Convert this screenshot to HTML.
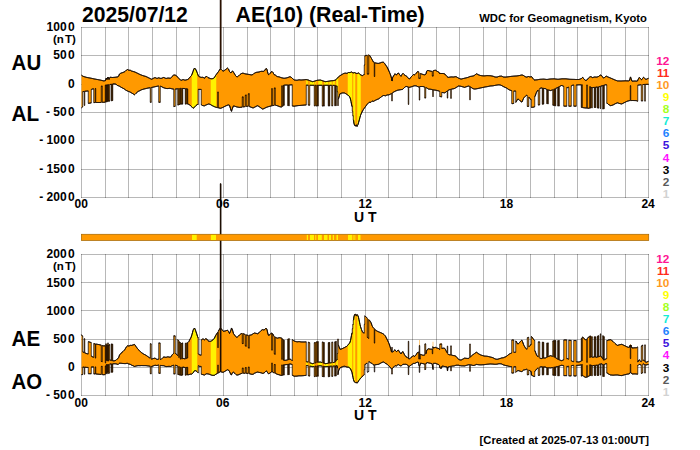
<!DOCTYPE html>
<html><head><meta charset="utf-8"><title>AE</title>
<style>
html,body{margin:0;padding:0;background:#fff;}
body{width:700px;height:450px;overflow:hidden;font-family:"Liberation Sans",sans-serif;}
svg{display:block;}
svg text{font-family:"Liberation Sans",sans-serif;}
</style></head><body>
<svg width="700" height="450" viewBox="0 0 700 450">
<rect width="700" height="450" fill="#fff"/>
<path d="M81.5 27.0V198.0M105.5 27.0V198.0M128.5 27.0V198.0M152.5 27.0V198.0M176.5 27.0V198.0M199.5 27.0V198.0M223.5 27.0V198.0M247.5 27.0V198.0M270.5 27.0V198.0M294.5 27.0V198.0M317.5 27.0V198.0M341.5 27.0V198.0M365.5 27.0V198.0M388.5 27.0V198.0M412.5 27.0V198.0M436.5 27.0V198.0M459.5 27.0V198.0M483.5 27.0V198.0M506.5 27.0V198.0M530.5 27.0V198.0M554.5 27.0V198.0M577.5 27.0V198.0M601.5 27.0V198.0M625.5 27.0V198.0M648.5 27.0V198.0" stroke="#000" stroke-opacity="0.28" stroke-width="1" fill="none"/><path d="M81.0 27.5H649.0M81.0 55.5H649.0M81.0 84.5H649.0M81.0 112.5H649.0M81.0 140.5H649.0M81.0 169.5H649.0M81.0 197.5H649.0" stroke="#000" stroke-opacity="0.28" stroke-width="1" fill="none"/>
<path d="M81.5 254.0V396.0M105.5 254.0V396.0M128.5 254.0V396.0M152.5 254.0V396.0M176.5 254.0V396.0M199.5 254.0V396.0M223.5 254.0V396.0M247.5 254.0V396.0M270.5 254.0V396.0M294.5 254.0V396.0M317.5 254.0V396.0M341.5 254.0V396.0M365.5 254.0V396.0M388.5 254.0V396.0M412.5 254.0V396.0M436.5 254.0V396.0M459.5 254.0V396.0M483.5 254.0V396.0M506.5 254.0V396.0M530.5 254.0V396.0M554.5 254.0V396.0M577.5 254.0V396.0M601.5 254.0V396.0M625.5 254.0V396.0M648.5 254.0V396.0" stroke="#000" stroke-opacity="0.28" stroke-width="1" fill="none"/><path d="M81.0 254.5H649.0M81.0 282.5H649.0M81.0 310.5H649.0M81.0 339.5H649.0M81.0 367.5H649.0M81.0 395.5H649.0" stroke="#000" stroke-opacity="0.28" stroke-width="1" fill="none"/>
<path d="M81.50 75.20L81.50 75.20L82.00 75.57L82.50 75.93L83.00 76.30L83.50 76.45L84.00 76.61L84.50 76.76L85.00 76.91L85.50 77.06L86.00 77.22L86.50 77.37L87.00 77.47L87.50 77.56L88.00 77.65L88.50 77.74L89.00 77.82L89.50 77.91L90.00 78.00L90.50 78.11L91.00 78.22L91.50 78.32L92.00 78.43L92.50 78.54L93.00 78.65L93.50 78.75L94.00 78.86L94.50 78.97L95.00 79.08L95.50 79.17L96.00 79.27L96.50 79.36L97.00 79.45L97.50 79.54L98.00 79.63L98.50 79.72L99.00 79.82L99.50 79.91L100.00 80.00L100.50 80.12L101.00 80.24L101.50 80.36L102.00 80.49L102.50 80.61L103.00 80.73L103.50 80.85L104.00 80.85L104.50 80.77L105.00 80.68L105.50 80.60L106.00 78.60L106.50 78.00L107.00 79.50L107.50 78.25L108.00 77.00L108.50 78.25L109.00 79.50L109.50 78.35L110.00 77.20L110.50 77.27L111.00 77.33L111.50 77.40L112.00 77.46L112.50 77.49L113.00 77.45L113.50 77.41L114.00 77.37L114.50 77.34L115.00 77.30L115.50 77.22L116.00 77.15L116.50 77.07L117.00 77.00L117.50 76.92L118.00 76.85L118.50 76.33L119.00 75.17L119.50 74.00L120.00 73.68L120.50 73.36L121.00 73.07L121.50 72.93L122.00 72.79L122.50 72.64L123.00 72.50L123.50 72.25L124.00 72.00L124.50 71.75L125.00 71.50L125.50 71.00L126.00 70.50L126.50 70.00L127.00 69.75L127.50 69.50L128.00 69.65L128.50 70.08L129.00 70.50L129.50 70.25L130.00 70.00L130.50 70.33L131.00 70.67L131.50 71.00L132.00 71.15L132.50 71.29L133.00 71.44L133.50 71.58L134.00 71.73L134.50 71.87L135.00 72.08L135.50 72.31L136.00 72.54L136.50 72.77L137.00 73.00L137.50 73.25L138.00 73.50L138.50 73.75L139.00 74.00L139.50 74.25L140.00 74.50L140.50 74.69L141.00 74.89L141.50 75.08L142.00 75.27L142.50 75.47L143.00 75.66L143.50 75.81L144.00 75.95L144.50 76.09L145.00 76.22L145.50 76.36L146.00 76.50L146.50 76.75L147.00 77.00L147.50 77.25L148.00 77.50L148.50 77.75L149.00 78.00L149.50 78.24L150.00 78.48L150.50 78.72L151.00 78.96L151.50 79.20L152.00 79.12L152.50 78.81L153.00 78.50L153.50 78.25L154.00 78.00L154.50 77.75L155.00 77.50L155.50 77.75L156.00 78.00L156.50 78.25L157.00 78.50L157.50 78.28L158.00 78.06L158.50 77.84L159.00 77.92L159.50 78.06L160.00 78.21L160.50 78.35L161.00 78.50L161.50 78.30L162.00 78.09L162.50 77.89L163.00 77.69L163.50 77.48L164.00 77.54L164.50 77.78L165.00 78.02L165.50 78.26L166.00 78.50L166.50 78.38L167.00 78.25L167.50 78.12L168.00 78.00L168.50 78.06L169.00 78.12L169.50 78.17L170.00 78.23L170.50 78.29L171.00 77.79L171.50 77.14L172.00 76.50L172.50 76.07L173.00 75.63L173.50 75.20L174.00 75.09L174.50 74.99L175.00 74.96L175.50 75.24L176.00 75.52L176.50 75.80L177.00 76.37L177.50 76.93L178.00 77.50L178.50 78.02L179.00 78.53L179.50 79.05L180.00 79.57L180.50 80.09L181.00 80.45L181.50 80.21L182.00 79.98L182.50 79.74L183.00 79.50L183.50 79.67L184.00 79.85L184.50 80.03L185.00 80.20L185.50 80.07L186.00 79.94L186.50 79.81L187.00 79.68L187.50 79.55L188.00 79.27L188.50 78.88L189.00 78.50L189.50 77.75L190.00 77.00L190.50 76.54L191.00 76.07L191.50 75.45L192.00 74.23L192.50 73.00L193.00 71.50L193.50 70.00L194.00 69.00L194.50 68.00L195.00 68.50L195.50 69.00L196.00 70.00L196.50 71.00L197.00 72.31L197.50 73.61L198.00 74.92L198.50 75.92L199.00 76.46L199.50 77.00L200.00 77.09L200.50 77.18L201.00 77.27L201.50 77.36L202.00 77.35L202.50 77.28L203.00 77.20L203.50 77.57L204.00 77.93L204.50 78.30L205.00 77.55L205.50 76.80L206.00 76.66L206.50 76.51L207.00 76.51L207.50 77.05L208.00 77.60L208.50 77.80L209.00 78.00L209.50 78.20L210.00 78.39L210.50 78.58L211.00 78.76L211.50 78.76L212.00 78.71L212.50 78.65L213.00 78.60L213.50 78.23L214.00 77.87L214.50 77.50L215.00 76.50L215.50 75.56L216.00 74.88L216.50 74.19L217.00 73.50L217.50 72.83L218.00 72.17L218.50 71.50L219.00 70.75L219.50 70.00L220.00 69.10L220.25 69.10L220.25 -75.30L220.50 -75.30L220.75 -75.30L220.75 69.20L221.00 69.20L221.50 69.70L222.00 70.24L222.50 70.67L223.00 70.83L223.50 71.00L224.00 70.67L224.50 70.33L225.00 70.00L225.50 69.60L226.00 69.20L226.50 68.80L227.00 68.36L227.50 68.09L228.00 68.55L228.50 69.00L229.00 70.25L229.50 71.50L230.00 72.07L230.50 72.64L231.00 72.92L231.50 72.03L232.00 71.35L232.50 70.98L233.00 71.50L233.50 72.25L234.00 73.00L234.50 73.83L235.00 74.67L235.50 75.50L236.00 76.07L236.50 76.64L237.00 77.03L237.50 76.69L238.00 76.34L238.50 76.00L239.00 75.50L239.50 75.00L240.00 74.50L240.50 74.17L241.00 73.83L241.50 73.50L242.00 73.36L242.50 73.21L243.00 73.13L243.50 73.30L244.00 73.47L244.50 73.63L245.00 73.80L245.50 73.88L246.00 73.97L246.50 74.05L247.00 74.13L247.50 74.22L248.00 74.30L248.50 74.39L249.00 74.48L249.50 74.56L250.00 74.65L250.50 74.74L251.00 74.83L251.50 74.88L252.00 74.75L252.50 74.62L253.00 74.50L253.50 74.00L254.00 73.50L254.50 73.00L255.00 72.83L255.50 72.67L256.00 72.50L256.50 72.33L257.00 72.25L257.50 72.19L258.00 72.12L258.50 72.06L259.00 72.00L259.50 71.83L260.00 71.65L260.50 71.47L261.00 71.30L261.50 71.32L262.00 71.34L262.50 71.36L263.00 71.38L263.50 71.34L264.00 71.01L264.50 70.69L265.00 70.08L265.50 69.01L266.00 68.51L266.50 68.64L267.00 69.50L267.50 71.69L268.00 73.47L268.50 74.66L269.00 74.50L269.50 74.00L270.00 73.50L270.50 72.75L271.00 72.00L271.50 71.70L272.00 71.40L272.50 71.95L273.00 72.50L273.50 73.50L274.00 74.50L274.50 74.73L275.00 74.97L275.50 75.20L276.00 75.64L276.50 76.07L277.00 76.51L277.50 76.64L278.00 76.69L278.50 76.75L279.00 76.80L279.50 77.00L280.00 77.20L280.50 77.40L281.00 77.60L281.50 77.72L282.00 77.83L282.50 77.95L283.00 78.07L283.50 78.18L284.00 78.30L284.50 78.22L285.00 78.15L285.50 78.08L286.00 78.00L286.50 77.88L287.00 77.75L287.50 77.62L288.00 77.50L288.50 77.28L289.00 77.05L289.50 76.82L290.00 76.60L290.50 76.90L291.00 77.20L291.50 77.50L292.00 78.00L292.50 78.50L293.00 79.00L293.50 79.38L294.00 79.77L294.50 80.02L295.00 80.08L295.50 80.13L296.00 80.19L296.50 80.24L297.00 80.30L297.50 80.17L298.00 80.05L298.50 79.92L299.00 79.80L299.50 79.85L300.00 79.90L300.50 79.94L301.00 79.99L301.50 79.97L302.00 79.94L302.50 79.90L303.00 79.87L303.50 79.83L304.00 79.80L304.50 79.72L305.00 79.65L305.50 79.58L306.00 79.50L306.50 79.61L307.00 79.72L307.50 79.83L308.00 79.93L308.50 80.09L309.00 80.33L309.50 80.56L310.00 80.80L310.50 80.97L311.00 81.15L311.50 81.32L312.00 81.49L312.50 81.67L313.00 81.58L313.50 81.44L314.00 81.29L314.50 81.15L315.00 81.00L315.50 80.83L316.00 80.65L316.50 80.47L317.00 80.30L317.50 80.25L318.00 80.21L318.50 80.16L319.00 80.12L319.50 80.07L320.00 80.03L320.50 80.07L321.00 80.25L321.50 80.42L322.00 80.60L322.50 80.76L323.00 80.92L323.50 81.09L324.00 81.25L324.50 81.41L325.00 81.57L325.50 81.68L326.00 81.61L326.50 81.53L327.00 81.45L327.50 81.38L328.00 81.30L328.50 81.22L329.00 81.13L329.50 81.05L330.00 80.97L330.50 80.88L331.00 80.80L331.50 80.76L332.00 80.72L332.50 80.68L333.00 80.64L333.50 80.60L334.00 80.46L334.50 80.33L335.00 80.19L335.50 80.05L336.00 79.65L336.50 79.08L337.00 78.50L337.50 77.93L338.00 77.37L338.50 76.80L339.00 76.43L339.50 76.07L340.00 75.70L340.50 75.40L341.00 75.10L341.50 74.80L342.00 74.50L342.50 74.20L343.00 73.90L343.50 73.60L344.00 73.44L344.50 73.29L345.00 73.13L345.50 73.16L346.00 73.24L346.50 73.32L347.00 73.40L347.50 73.10L348.00 72.80L348.50 72.50L349.00 72.53L349.50 72.57L350.00 72.60L350.50 72.39L351.00 72.19L351.50 71.98L352.00 72.15L352.50 72.58L353.00 73.00L353.50 72.87L354.00 72.73L354.50 72.60L355.00 72.80L355.50 73.00L356.00 73.20L356.50 73.43L357.00 73.65L357.50 73.44L358.00 73.12L358.50 72.80L359.00 73.37L359.50 73.93L360.00 74.50L360.50 74.76L361.00 75.02L361.50 75.28L362.00 75.54L362.50 75.58L363.00 75.29L363.50 75.00L364.00 74.44L364.25 74.44L364.25 65.00L364.50 65.00L364.75 65.00L364.75 55.86L365.00 55.86L365.50 55.68L366.00 55.50L366.50 55.40L367.00 55.30L367.50 55.20L368.00 55.08L368.50 54.95L369.00 54.83L369.50 55.33L370.00 56.00L370.50 56.83L371.00 57.67L371.50 58.50L372.00 59.42L372.50 60.34L373.00 61.26L373.50 62.05L374.00 62.30L374.50 62.55L375.00 62.80L375.50 62.92L376.00 63.05L376.50 63.17L377.00 63.30L377.50 63.33L378.00 63.36L378.50 63.39L379.00 63.27L379.50 63.12L380.00 62.96L380.50 62.80L381.00 62.60L381.50 62.40L382.00 62.20L382.50 62.23L383.00 62.26L383.50 62.29L384.00 62.69L384.50 63.35L385.00 64.00L385.50 64.75L386.00 65.50L386.50 66.23L387.00 66.95L387.50 67.93L388.00 68.96L388.50 70.00L389.00 71.17L389.50 72.33L390.00 73.50L390.50 74.89L391.00 76.29L391.50 78.26L392.00 80.96L392.25 80.96L392.25 77.82L392.50 77.82L393.00 76.91L393.50 76.00L394.00 75.23L394.50 74.47L395.00 73.70L395.50 74.28L396.00 74.85L396.50 74.92L397.00 74.22L397.50 73.58L398.00 73.03L398.50 73.00L399.00 73.75L399.50 74.50L400.00 75.10L400.50 75.70L401.00 76.30L401.50 75.40L402.00 74.50L402.50 73.90L403.00 73.30L403.50 73.88L404.00 74.45L404.50 74.93L405.00 75.25L405.50 75.57L406.00 75.88L406.50 76.19L407.00 76.50L407.50 77.19L408.00 77.88L408.50 78.45L409.00 78.81L409.50 78.97L410.00 78.31L410.50 77.66L411.00 77.00L411.50 76.50L412.00 76.00L412.50 75.50L413.00 75.00L413.50 74.50L414.00 74.50L414.50 74.83L415.00 74.50L415.50 74.00L416.00 73.50L416.50 72.79L417.00 72.08L417.50 71.65L418.00 71.40L418.50 71.77L419.00 72.19L419.50 72.66L420.00 73.13L420.50 73.60L421.00 73.77L421.50 73.93L422.00 74.12L422.50 74.31L423.00 74.50L423.50 74.60L424.00 74.69L424.50 74.79L425.00 74.88L425.50 74.50L426.00 74.00L426.50 71.71L427.00 70.71L427.50 70.55L428.00 70.40L428.50 70.55L429.00 70.70L429.50 70.85L430.00 71.00L430.50 71.10L431.00 71.20L431.50 71.30L432.00 71.40L432.50 71.13L433.00 70.87L433.50 70.60L434.00 70.49L434.50 70.39L435.00 70.28L435.50 70.26L436.00 70.58L436.50 70.89L437.00 71.20L437.50 71.49L438.00 71.78L438.50 72.07L439.00 72.33L439.50 72.50L440.00 72.67L440.50 72.83L441.00 73.00L441.50 73.10L442.00 73.20L442.50 73.30L443.00 73.40L443.50 73.56L444.00 73.72L444.50 73.87L445.00 74.12L445.50 74.71L446.00 75.30L446.50 75.92L447.00 76.55L447.50 76.96L448.00 77.24L448.50 77.36L449.00 77.27L449.50 77.18L450.00 77.09L450.50 76.99L451.00 76.90L451.50 76.92L452.00 76.94L452.50 76.96L453.00 76.98L453.50 77.00L454.00 76.92L454.50 76.84L455.00 76.76L455.50 76.68L456.00 76.60L456.50 76.90L457.00 77.20L457.50 77.50L458.00 77.80L458.50 78.10L459.00 78.40L459.50 78.57L460.00 78.73L460.50 78.90L461.00 79.07L461.50 78.99L462.00 78.86L462.50 78.73L463.00 78.60L463.50 78.48L464.00 78.36L464.50 78.24L465.00 78.12L465.50 78.00L466.00 77.88L466.50 77.76L467.00 77.64L467.50 77.52L468.00 77.40L468.50 77.18L469.00 76.95L469.50 76.72L470.00 76.50L470.50 76.42L471.00 76.35L471.50 76.28L472.00 76.20L472.50 76.08L473.00 75.95L473.50 75.83L474.00 75.70L474.50 75.30L475.00 74.90L475.50 74.50L476.00 74.14L476.50 73.77L477.00 73.96L477.50 74.28L478.00 74.60L478.50 74.80L479.00 75.00L479.50 75.20L480.00 75.40L480.50 75.49L481.00 75.58L481.50 75.66L482.00 75.73L482.50 75.77L483.00 75.81L483.50 75.86L484.00 75.90L484.50 75.85L485.00 75.80L485.50 75.75L486.00 75.70L486.50 75.65L487.00 75.60L487.50 75.62L488.00 75.63L488.50 75.65L489.00 75.66L489.50 75.68L490.00 75.69L490.50 75.74L491.00 75.83L491.50 75.92L492.00 76.01L492.50 76.11L493.00 76.20L493.50 76.40L494.00 76.60L494.50 76.80L495.00 77.00L495.50 77.02L496.00 77.05L496.50 77.07L497.00 77.10L497.50 76.93L498.00 76.72L498.50 76.51L499.00 76.30L499.50 76.26L500.00 76.22L500.50 76.17L501.00 76.13L501.50 76.14L502.00 76.36L502.50 76.57L503.00 76.79L503.50 77.00L504.00 77.02L504.50 77.05L505.00 77.07L505.50 77.09L506.00 77.06L506.50 77.00L507.00 76.93L507.50 76.87L508.00 76.80L508.50 76.73L509.00 76.67L509.50 76.60L510.00 76.53L510.50 76.47L511.00 76.40L511.50 76.35L512.00 76.31L512.50 76.26L513.00 76.22L513.50 76.17L514.00 76.13L514.50 76.09L515.00 76.05L515.50 76.01L516.00 75.97L516.50 75.94L517.00 75.90L517.50 75.82L518.00 75.74L518.50 75.66L519.00 75.58L519.50 75.50L520.00 75.38L520.50 75.26L521.00 75.14L521.50 75.02L522.00 74.90L522.50 75.10L523.00 75.30L523.50 75.50L524.00 75.87L524.50 76.23L525.00 76.60L525.50 76.76L526.00 76.91L526.50 77.07L527.00 76.97L527.50 76.82L528.00 76.66L528.50 76.50L529.00 76.67L529.50 76.83L530.00 77.00L530.50 76.88L531.00 76.76L531.50 76.65L532.00 77.04L532.50 77.77L533.00 78.50L533.50 79.08L534.00 79.65L534.50 79.99L535.00 79.95L535.50 79.91L536.00 79.87L536.50 79.84L537.00 79.80L537.50 79.72L538.00 79.63L538.50 79.55L539.00 79.47L539.50 79.38L540.00 79.30L540.50 79.27L541.00 79.25L541.50 79.22L542.00 79.19L542.50 79.16L543.00 79.14L543.50 79.11L544.00 79.14L544.50 79.20L545.00 79.26L545.50 79.32L546.00 79.38L546.50 79.44L547.00 79.50L547.50 79.42L548.00 79.33L548.50 79.25L549.00 79.17L549.50 79.08L550.00 79.00L550.50 78.97L551.00 78.95L551.50 78.92L552.00 78.90L552.50 78.88L553.00 78.85L553.50 78.83L554.00 78.80L554.50 78.86L555.00 78.92L555.50 78.99L556.00 79.05L556.50 79.11L557.00 79.17L557.50 79.24L558.00 79.30L558.50 79.24L559.00 79.17L559.50 79.11L560.00 79.05L560.50 78.99L561.00 78.92L561.50 78.86L562.00 78.80L562.50 78.80L563.00 78.80L563.50 78.80L564.00 78.80L564.50 78.80L565.00 78.80L565.50 78.80L566.00 78.80L566.50 78.86L567.00 78.92L567.50 78.99L568.00 79.05L568.50 79.11L569.00 79.17L569.50 79.24L570.00 79.30L570.50 79.31L571.00 79.33L571.50 79.34L572.00 79.35L572.50 79.36L573.00 79.38L573.50 79.39L574.00 79.40L574.50 79.42L575.00 79.44L575.50 79.47L576.00 79.49L576.50 79.50L577.00 79.50L577.50 79.50L578.00 79.50L578.50 79.50L579.00 79.50L579.50 79.30L580.00 79.10L580.50 78.90L581.00 78.70L581.50 78.50L582.00 77.96L582.50 77.42L583.00 77.48L583.50 78.43L584.00 79.16L584.50 79.55L585.00 79.95L585.50 80.34L586.00 80.38L586.50 80.19L587.00 80.00L587.50 79.33L588.00 78.67L588.50 78.00L589.00 77.60L589.50 77.20L590.00 76.80L590.50 76.69L591.00 76.66L591.50 76.98L592.00 77.29L592.50 77.60L593.00 77.45L593.50 77.30L594.00 77.15L594.50 77.00L595.00 77.02L595.50 77.04L596.00 77.06L596.50 77.08L597.00 77.06L597.50 76.87L598.00 76.69L598.50 76.50L599.00 76.10L599.50 75.70L600.00 75.30L600.50 75.12L601.00 74.94L601.50 75.48L602.00 76.21L602.50 76.86L603.00 77.46L603.50 78.06L604.00 78.00L604.50 77.50L605.00 77.00L605.50 76.65L606.00 76.31L606.50 76.21L607.00 76.47L607.50 76.74L608.00 77.00L608.50 77.20L609.00 77.40L609.50 77.60L610.00 77.80L610.50 78.02L611.00 78.23L611.50 78.45L612.00 78.67L612.50 78.89L613.00 79.11L613.50 79.33L614.00 79.56L614.50 79.78L615.00 80.00L615.50 80.19L616.00 80.38L616.50 80.56L617.00 80.75L617.50 80.90L618.00 80.92L618.50 80.93L619.00 80.94L619.50 80.96L620.00 80.97L620.50 80.99L621.00 81.00L621.50 80.97L622.00 80.95L622.50 80.92L623.00 80.90L623.50 80.88L624.00 80.85L624.50 80.83L625.00 80.80L625.50 80.81L626.00 80.82L626.50 80.83L627.00 80.85L627.50 80.86L628.00 80.87L628.50 80.88L629.00 80.89L629.50 80.50L630.00 78.50L630.50 76.92L631.00 78.26L631.50 79.99L632.00 81.20L632.50 81.17L633.00 81.13L633.50 81.10L634.00 81.07L634.50 81.03L635.00 81.00L635.50 81.04L636.00 81.08L636.50 81.12L637.00 81.17L637.50 80.96L638.00 79.73L638.50 78.60L639.00 77.60L639.50 77.71L640.00 78.11L640.50 78.50L641.00 79.12L641.50 79.75L642.00 79.43L642.50 78.49L643.00 77.70L643.50 77.21L644.00 77.75L644.50 78.30L645.00 78.70L645.50 79.10L646.00 79.50L646.50 79.21L647.00 78.92L647.50 78.68L648.00 78.49L648.50 78.30L648.50 78.30L648.50 84.30L648.50 84.30L648.00 84.31L647.50 84.33L647.00 84.34L646.50 84.36L646.00 84.37L645.50 84.39L645.25 84.39L645.25 101.10L645.00 101.10L644.75 101.10L644.75 84.43L644.50 84.43L644.00 84.47L643.50 84.50L643.00 84.53L642.75 84.53L642.75 100.80L642.50 100.80L642.00 100.80L641.50 100.80L641.25 100.80L641.25 84.74L641.00 84.74L640.50 84.81L640.00 84.89L639.50 84.96L639.00 85.03L638.50 85.10L638.00 85.14L637.75 85.14L637.75 101.16L637.50 101.16L637.00 100.93L636.50 100.69L636.00 100.59L635.50 100.58L635.00 100.56L634.50 100.55L634.00 100.53L633.50 100.52L633.00 100.50L632.50 100.51L632.00 100.53L631.50 100.54L631.00 100.56L630.50 100.57L630.00 100.58L629.50 100.60L629.00 100.72L628.50 100.86L628.00 101.01L627.50 101.15L627.00 101.30L626.50 101.55L626.00 101.80L625.50 102.05L625.00 102.30L624.50 102.55L624.00 102.80L623.50 103.06L623.00 103.32L622.50 103.58L622.00 103.84L621.50 103.95L621.00 103.84L620.50 103.73L620.00 103.61L619.50 103.50L619.00 103.33L618.50 103.17L618.00 103.00L617.50 102.83L617.00 102.97L616.50 103.18L616.00 103.39L615.50 103.60L615.00 103.88L614.50 104.16L614.00 104.44L613.50 104.72L613.00 105.00L612.50 105.15L612.00 105.29L611.50 105.44L611.00 105.58L610.50 105.64L610.00 105.36L609.50 105.07L609.00 104.79L608.50 104.50L608.00 104.00L607.50 103.50L607.00 103.28L606.75 103.28L606.75 84.85L606.50 84.85L606.00 84.83L605.50 84.80L605.00 84.92L604.50 85.06L604.25 85.06L604.25 108.58L604.00 108.58L603.50 109.06L603.00 108.97L602.75 108.97L602.75 85.65L602.50 85.65L602.00 85.80L601.50 85.96L601.00 86.12L600.75 86.12L600.75 108.49L600.50 108.49L600.25 108.49L600.25 86.45L600.00 86.45L599.50 86.61L599.00 86.77L598.75 86.77L598.75 108.10L598.50 108.10L598.00 107.99L597.50 107.89L597.25 107.89L597.25 87.08L597.00 87.08L596.50 87.13L596.00 87.19L595.75 87.19L595.75 107.48L595.50 107.48L595.00 107.41L594.50 107.48L594.25 107.48L594.25 87.42L594.00 87.42L593.50 87.48L593.00 87.54L592.50 87.60L592.25 87.60L592.25 107.80L592.00 107.80L591.50 107.87L591.00 107.94L590.50 108.00L590.00 108.07L589.50 108.14L589.00 108.21L588.50 108.27L588.00 108.26L587.50 108.20L587.00 108.14L586.50 108.08L586.00 108.02L585.50 107.96L585.00 107.90L584.50 107.83L584.00 107.76L583.50 107.69L583.00 107.62L582.50 107.55L582.00 107.48L581.50 107.41L581.25 107.41L581.25 84.80L581.00 84.80L580.50 84.80L580.00 84.80L579.50 84.80L579.00 84.80L578.50 84.83L578.00 84.86L577.50 84.90L577.00 84.93L576.50 84.97L576.25 84.97L576.25 106.20L576.00 106.20L575.50 106.20L575.00 106.20L574.50 106.20L574.00 106.20L573.75 106.20L573.75 85.08L573.50 85.08L573.00 85.10L572.50 85.29L572.00 85.53L571.50 85.78L571.25 85.78L571.25 106.20L571.00 106.20L570.50 106.20L570.00 106.20L569.50 106.20L569.00 106.20L568.75 106.20L568.75 87.28L568.50 87.28L568.00 87.54L567.50 87.64L567.00 87.47L566.75 87.47L566.75 106.20L566.50 106.20L566.00 106.20L565.50 106.18L565.00 106.17L564.50 106.15L564.00 106.13L563.75 106.13L563.75 86.26L563.50 86.26L563.00 86.02L562.50 85.78L562.00 85.54L561.50 85.50L561.00 85.74L560.50 85.98L560.00 86.23L559.50 86.47L559.25 86.47L559.25 105.94L559.00 105.94L558.50 105.91L558.00 105.88L557.75 105.88L557.75 87.51L557.50 87.51L557.00 87.82L556.50 88.10L556.00 88.34L555.75 88.34L555.75 105.74L555.50 105.74L555.00 105.71L554.50 105.58L554.00 105.42L553.50 105.27L553.00 105.12L552.75 105.12L552.75 89.87L552.50 89.87L552.00 90.06L551.50 90.26L551.00 90.45L550.50 90.57L550.00 90.43L549.50 90.29L549.00 90.16L548.50 90.02L548.25 90.02L548.25 103.72L548.00 103.72L547.50 103.60L547.00 103.52L546.75 103.52L546.75 89.30L546.50 89.30L546.00 89.00L545.50 88.70L545.00 88.60L544.50 88.50L544.00 88.40L543.75 88.40L543.75 104.06L543.50 104.06L543.00 104.14L542.50 104.22L542.25 104.22L542.25 88.06L542.00 88.06L541.50 87.97L541.00 87.95L540.50 88.21L540.00 88.48L539.75 88.48L539.75 104.74L539.50 104.74L539.00 104.83L538.50 104.95L538.25 104.95L538.25 90.00L538.00 90.00L537.50 90.68L537.00 91.49L536.50 92.30L536.00 93.65L535.50 95.00L535.00 96.59L534.75 96.59L534.75 106.82L534.50 106.82L534.00 106.99L533.50 107.17L533.00 107.24L532.50 107.29L532.00 107.33L531.50 107.38L531.25 107.38L531.25 99.90L531.00 99.90L530.50 99.21L530.00 98.52L529.50 97.83L529.00 97.14L528.75 97.14L528.75 106.40L528.50 106.40L528.00 106.40L527.50 106.40L527.25 106.40L527.25 95.50L527.00 95.50L526.50 95.20L526.00 95.70L525.50 96.20L525.00 96.70L524.50 97.20L524.00 97.70L523.50 98.47L523.00 99.63L522.50 100.80L522.00 101.97L521.50 101.91L521.00 101.54L520.50 101.17L520.00 100.80L519.50 100.20L519.00 99.60L518.50 99.33L518.00 99.06L517.50 99.30L517.00 100.30L516.50 101.30L516.00 102.30L515.75 102.30L515.75 91.09L515.50 91.09L515.00 91.10L514.50 91.07L514.00 91.05L513.75 91.05L513.75 103.47L513.50 103.47L513.00 103.70L512.50 103.62L512.00 103.53L511.75 103.53L511.75 90.62L511.50 90.62L511.00 90.50L510.50 90.32L510.00 90.13L509.50 89.95L509.00 89.73L508.50 89.38L508.00 89.04L507.50 88.69L507.00 88.35L506.50 88.00L506.00 87.78L505.50 87.56L505.00 87.34L504.50 87.12L504.00 86.90L503.50 86.62L503.00 86.33L502.50 86.05L502.00 85.77L501.50 85.48L501.00 85.20L500.50 85.10L500.00 85.01L499.50 84.91L499.00 84.82L498.50 84.86L498.00 84.92L497.50 84.99L497.00 85.06L496.50 85.13L496.00 85.20L495.50 85.30L495.00 85.40L494.50 85.50L494.00 85.60L493.50 85.70L493.00 85.80L492.50 85.84L492.00 85.87L491.50 85.91L491.00 85.95L490.50 85.99L490.00 86.07L489.50 86.17L489.00 86.28L488.50 86.39L488.00 86.50L487.50 86.58L487.00 86.67L486.50 86.75L486.00 86.83L485.50 86.92L485.00 87.00L484.50 87.11L484.00 87.21L483.50 87.32L483.00 87.42L482.50 87.53L482.00 87.64L481.50 87.74L481.00 87.85L480.50 87.96L480.00 88.07L479.50 88.18L479.00 88.28L478.50 88.39L478.00 88.50L477.50 88.60L477.00 88.69L476.50 88.79L476.00 88.89L475.50 88.98L475.00 89.08L474.50 89.02L474.00 88.91L473.50 88.81L473.00 88.70L472.50 88.35L472.00 88.00L471.50 87.65L471.00 87.30L470.50 86.99L470.25 86.99L470.25 99.70L470.00 99.70L469.75 99.70L469.75 86.37L469.50 86.37L469.00 86.06L468.50 86.11L468.00 86.24L467.50 86.37L467.00 86.50L466.50 86.69L466.00 86.88L465.50 87.06L465.00 87.25L464.50 87.37L464.00 87.22L463.50 87.06L463.00 86.91L462.50 86.76L462.00 86.61L461.50 86.45L461.00 86.30L460.50 86.24L460.00 86.17L459.50 86.11L459.00 86.05L458.50 86.06L458.00 86.37L457.50 86.68L457.00 86.99L456.50 87.30L456.00 87.60L455.50 87.89L455.00 88.19L454.50 88.48L454.00 88.65L453.50 88.74L453.00 88.83L452.50 88.91L452.00 89.00L451.50 89.14L451.25 89.14L451.25 98.30L451.00 98.30L450.75 98.30L450.75 89.41L450.50 89.41L450.00 89.55L449.50 89.69L449.00 89.87L448.50 90.19L448.00 90.52L447.75 90.52L447.75 98.01L447.50 98.01L447.25 98.01L447.25 91.17L447.00 91.17L446.50 91.50L446.00 91.94L445.50 92.37L445.00 92.81L444.50 92.84L444.00 92.76L443.50 92.68L443.00 92.61L442.50 92.53L442.00 92.36L441.75 92.36L441.75 96.80L441.50 96.80L441.00 96.70L440.50 96.60L440.00 96.50L439.75 96.50L439.75 91.23L439.50 91.23L439.00 91.00L438.50 90.87L438.00 90.74L437.50 90.61L437.00 90.48L436.50 90.35L436.00 90.26L435.50 90.20L435.00 90.13L434.50 90.07L434.00 90.00L433.50 89.88L433.25 89.88L433.25 96.50L433.00 96.50L432.75 96.50L432.75 89.65L432.50 89.65L432.00 89.53L431.50 89.42L431.00 89.30L430.50 89.26L430.00 89.22L429.50 89.17L429.00 89.13L428.50 89.04L428.00 88.73L427.50 88.42L427.00 88.12L426.50 87.81L426.00 87.50L425.75 87.50L425.75 97.89L425.50 97.89L425.00 98.00L424.75 98.00L424.75 87.00L424.50 87.00L424.00 86.83L423.50 86.67L423.00 86.50L422.50 86.50L422.00 86.50L421.50 86.50L421.00 86.50L420.50 86.50L420.00 86.59L419.75 86.59L419.75 100.00L419.50 100.00L419.25 100.00L419.25 86.77L419.00 86.77L418.50 86.86L418.00 86.75L417.50 86.50L417.00 86.25L416.50 86.00L416.00 85.91L415.50 85.81L415.00 85.72L414.50 85.81L414.00 85.94L413.50 86.07L413.00 86.20L412.50 86.38L412.00 86.57L411.50 86.75L411.00 86.93L410.50 87.05L410.00 87.17L409.50 87.30L409.00 87.17L408.75 87.17L408.75 104.38L408.50 104.38L408.25 104.38L408.25 86.92L408.00 86.92L407.50 86.80L407.00 86.63L406.50 86.47L406.00 86.30L405.50 86.70L405.00 87.10L404.50 87.50L404.00 88.00L403.50 88.50L403.00 89.00L402.50 89.42L402.00 89.49L401.50 89.57L401.00 89.65L400.50 89.72L400.00 89.80L399.50 89.90L399.00 89.99L398.50 90.09L398.00 90.18L397.50 90.28L397.00 90.47L396.50 90.67L396.00 90.88L395.50 91.09L395.00 91.30L394.50 91.60L394.00 91.90L393.50 92.20L393.00 92.50L392.50 92.88L392.25 92.88L392.25 100.80L392.00 100.80L391.75 100.80L391.75 93.62L391.50 93.62L391.00 93.87L390.50 94.09L390.00 94.30L389.50 94.57L389.00 94.85L388.50 94.92L388.00 94.95L387.50 94.97L387.00 95.00L386.50 95.27L386.00 95.53L385.50 95.80L385.00 95.69L384.50 95.58L384.00 95.47L383.50 95.51L383.00 95.77L382.50 96.04L382.00 96.30L381.50 96.70L381.00 97.10L380.50 97.50L380.00 97.87L379.50 98.24L379.00 98.61L378.50 98.94L378.00 99.13L377.50 99.31L377.00 99.50L376.50 99.75L376.00 100.00L375.50 100.25L375.00 100.50L374.50 100.78L374.00 101.06L373.50 101.34L373.00 101.27L372.50 101.10L372.00 101.22L371.50 101.76L371.00 102.30L370.50 102.30L370.00 102.30L369.50 102.30L369.00 102.40L368.50 102.93L368.00 103.45L367.50 103.98L367.00 104.50L366.50 105.19L366.00 105.88L365.50 106.57L365.00 107.26L364.50 107.94L364.00 108.62L363.50 109.30L363.00 110.20L362.50 111.10L362.00 112.00L361.50 113.11L361.00 114.21L360.50 115.46L360.00 117.28L359.50 119.13L359.00 121.00L358.50 122.80L358.00 124.60L357.50 125.55L357.00 126.50L356.50 125.13L356.00 124.80L355.50 126.05L355.00 125.86L354.50 125.30L354.00 123.24L353.75 123.24L353.75 120.22L353.50 120.22L353.25 120.22L353.25 115.78L353.00 115.78L352.75 115.78L352.75 111.22L352.50 111.22L352.25 111.22L352.25 106.60L352.00 106.60L351.50 104.03L351.00 101.50L350.50 99.00L350.00 97.77L349.50 96.55L349.00 95.99L348.50 95.59L348.00 95.20L347.50 94.85L347.00 94.50L346.50 94.15L346.00 93.80L345.50 93.54L345.00 93.27L344.50 93.01L344.00 92.91L343.50 92.93L343.00 92.96L342.50 92.98L342.00 93.00L341.50 93.17L341.00 93.35L340.50 93.53L340.00 93.70L339.50 95.35L339.00 97.00L338.50 98.93L338.25 98.93L338.25 105.50L338.00 105.50L337.75 105.50L337.75 91.74L337.50 91.74L337.25 91.74L337.25 86.30L337.00 86.30L336.50 86.08L336.25 86.08L336.25 105.57L336.00 105.57L335.50 105.58L335.00 105.60L334.75 105.60L334.75 85.39L334.50 85.39L334.00 85.38L333.50 85.37L333.00 85.36L332.75 85.36L332.75 105.70L332.50 105.70L332.00 105.72L331.75 105.72L331.75 85.33L331.50 85.33L331.00 85.32L330.50 85.31L330.00 85.30L329.75 85.30L329.75 105.82L329.50 105.82L329.00 105.84L328.50 105.86L328.25 105.86L328.25 85.30L328.00 85.30L327.50 85.30L327.00 85.30L326.50 85.30L326.00 85.30L325.50 85.30L325.00 85.30L324.50 85.30L324.25 85.30L324.25 105.98L324.00 105.98L323.50 105.97L323.00 105.96L322.50 105.95L322.25 105.95L322.25 85.30L322.00 85.30L321.50 85.30L321.00 85.30L320.50 85.30L320.00 85.30L319.50 85.30L319.00 85.30L318.50 85.30L318.25 85.30L318.25 105.86L318.00 105.86L317.50 105.85L317.00 105.84L316.50 105.83L316.00 105.82L315.50 105.81L315.00 105.80L314.50 105.74L314.25 105.74L314.25 85.30L314.00 85.30L313.50 85.30L313.00 85.30L312.50 85.30L312.00 85.30L311.50 85.29L311.00 85.28L310.50 85.27L310.00 85.26L309.75 85.26L309.75 105.16L309.50 105.16L309.00 105.11L308.50 105.07L308.25 105.07L308.25 85.22L308.00 85.22L307.50 85.21L307.00 85.20L306.50 85.18L306.25 85.18L306.25 104.95L306.00 104.95L305.50 105.00L305.00 105.04L304.50 105.08L304.00 105.13L303.50 105.17L303.00 105.21L302.50 105.26L302.00 105.30L301.50 105.34L301.00 105.38L300.50 105.41L300.00 105.45L299.50 105.49L299.00 105.52L298.50 105.56L298.00 105.60L297.50 105.68L297.00 105.76L296.50 105.84L296.00 105.92L295.50 106.01L295.00 106.09L294.50 106.17L294.00 106.17L293.50 106.13L293.00 106.08L292.50 106.03L292.25 106.03L292.25 84.81L292.00 84.81L291.50 84.83L291.00 84.86L290.50 84.88L290.00 84.90L289.50 84.93L289.25 84.93L289.25 105.67L289.00 105.67L288.50 105.60L288.00 105.53L287.75 105.53L287.75 85.01L287.50 85.01L287.00 85.03L286.50 85.04L286.00 85.05L285.50 85.07L285.00 85.08L284.50 85.09L284.25 85.09L284.25 105.20L284.00 105.20L283.50 105.53L283.00 105.87L282.50 106.20L282.00 106.61L281.50 107.02L281.00 106.99L280.50 106.86L280.00 106.73L279.50 106.60L279.00 106.40L278.50 106.20L278.00 106.00L277.50 105.80L277.00 105.66L276.50 105.51L276.00 105.37L275.50 105.23L275.00 105.25L274.50 105.31L274.00 105.38L273.50 105.44L273.00 105.50L272.50 105.62L272.00 105.75L271.50 105.88L271.00 106.00L270.50 106.12L270.00 106.25L269.50 106.38L269.00 106.50L268.50 106.63L268.00 106.81L267.50 106.98L267.00 107.15L266.50 107.33L266.00 107.50L265.50 107.78L265.00 108.05L264.50 108.32L264.00 108.60L263.50 108.78L263.00 108.96L262.50 109.03L262.00 108.69L261.50 108.34L261.00 108.00L260.50 107.62L260.00 107.25L259.50 106.88L259.00 106.50L258.50 106.25L258.00 106.00L257.50 105.75L257.00 105.92L256.50 106.19L256.00 106.46L255.50 106.73L255.00 107.00L254.50 107.26L254.00 107.53L253.50 107.79L253.00 107.96L252.50 107.77L252.00 107.57L251.50 107.38L251.00 107.19L250.50 106.99L250.00 106.80L249.50 106.65L249.00 106.50L248.50 106.35L248.00 106.20L247.50 106.27L247.00 106.33L246.50 106.40L246.00 106.47L245.50 106.53L245.00 106.60L244.50 106.70L244.00 106.80L243.50 106.90L243.00 107.00L242.50 107.10L242.00 107.20L241.50 107.24L241.00 107.28L240.50 107.32L240.00 107.35L239.50 107.39L239.00 107.33L238.50 107.25L238.00 107.17L237.50 107.08L237.00 107.00L236.50 106.83L236.00 106.65L235.50 106.47L235.00 106.30L234.50 106.17L234.00 106.05L233.50 105.92L233.00 106.93L232.50 108.22L232.00 109.67L231.50 111.36L231.00 110.35L230.50 108.67L230.00 106.99L229.50 105.30L229.00 105.13L228.50 104.97L228.00 105.02L227.50 105.21L227.00 105.41L226.50 105.60L226.00 105.80L225.50 106.05L225.00 106.30L224.50 106.55L224.00 106.80L223.50 107.05L223.00 107.30L222.50 107.55L222.00 107.80L221.50 107.98L221.00 108.16L220.50 108.28L220.00 108.19L219.50 108.09L219.00 108.00L218.50 107.88L218.00 107.75L217.50 107.62L217.00 107.50L216.50 107.38L216.00 107.25L215.50 107.12L215.00 106.93L214.50 106.71L214.00 106.50L213.50 106.25L213.00 106.00L212.50 105.75L212.00 105.50L211.50 105.20L211.00 104.90L210.50 104.60L210.00 104.30L209.50 104.19L209.00 104.09L208.50 104.04L208.00 104.23L207.50 104.42L207.00 104.62L206.50 104.81L206.00 105.00L205.50 105.26L205.00 105.53L204.50 105.79L204.00 105.83L203.50 105.72L203.00 105.61L202.50 105.50L202.00 105.20L201.50 104.90L201.25 104.90L201.25 89.42L201.00 89.42L200.50 89.41L200.00 89.40L199.50 89.40L199.00 89.40L198.50 89.40L198.25 89.40L198.25 104.42L198.00 104.42L197.50 104.49L197.00 104.79L196.50 105.14L196.00 105.50L195.50 106.10L195.00 106.70L194.50 107.30L194.00 107.66L193.50 108.01L193.00 108.20L192.50 107.70L192.00 107.20L191.50 106.63L191.00 106.07L190.50 105.50L190.00 105.17L189.50 104.83L189.00 104.50L188.50 104.31L188.00 104.12L187.50 104.01L187.00 104.04L186.50 104.06L186.00 104.09L185.50 104.12L185.25 104.12L185.25 88.62L185.00 88.62L184.50 88.56L184.00 88.50L183.50 88.47L183.00 88.45L182.75 88.45L182.75 104.10L182.50 104.10L182.00 104.07L181.50 104.04L181.00 104.01L180.50 104.14L180.00 104.31L179.50 104.48L179.00 104.66L178.50 104.83L178.00 105.00L177.75 105.00L177.75 88.74L177.50 88.74L177.00 88.83L176.50 88.91L176.00 89.00L175.50 89.02L175.25 89.02L175.25 106.30L175.00 106.30L174.50 106.45L174.00 106.60L173.75 106.60L173.75 89.09L173.50 89.09L173.00 89.07L172.50 88.95L172.00 88.82L171.50 88.69L171.00 88.56L170.50 88.43L170.00 88.30L169.50 88.35L169.00 88.40L168.50 88.46L168.00 88.51L167.50 88.56L167.00 88.58L166.50 88.49L166.00 88.39L165.50 88.30L165.00 88.20L164.50 88.03L164.00 87.85L163.50 87.67L163.00 87.50L162.50 87.20L162.00 86.90L161.50 86.60L161.00 86.30L160.50 86.24L160.25 86.24L160.25 102.30L160.00 102.30L159.50 102.30L159.00 102.30L158.75 102.30L158.75 86.02L158.50 86.02L158.00 86.12L157.50 86.21L157.00 86.31L156.50 86.40L156.00 86.50L155.50 86.62L155.00 86.73L154.50 86.85L154.00 86.97L153.50 87.08L153.00 87.20L152.50 87.28L152.00 87.37L151.50 87.45L151.25 87.45L151.25 102.30L151.00 102.30L150.50 102.30L150.25 102.30L150.25 87.70L150.00 87.70L149.50 87.80L149.00 87.90L148.50 88.00L148.00 88.10L147.50 88.20L147.00 88.30L146.50 88.42L146.00 88.53L145.50 88.65L145.00 88.77L144.50 88.88L144.00 89.00L143.50 89.15L143.00 89.31L142.50 89.46L142.00 89.62L141.50 89.77L141.00 90.03L140.50 90.31L140.00 90.60L139.50 90.82L139.00 91.05L138.50 91.28L138.00 91.50L137.50 91.95L137.00 92.40L136.50 92.85L136.00 93.30L135.50 93.84L135.00 94.37L134.50 94.74L134.00 94.43L133.50 94.12L133.00 93.81L132.50 93.50L132.00 93.20L131.50 92.90L131.00 92.60L130.50 92.30L130.00 92.00L129.50 91.80L129.00 91.61L128.50 91.41L128.00 91.22L127.50 91.01L127.00 90.77L126.50 90.54L126.00 90.30L125.50 89.92L125.00 89.55L124.50 89.17L124.00 88.80L123.50 88.53L123.00 88.27L122.50 88.00L122.00 87.73L121.50 87.47L121.00 87.20L120.50 86.88L120.00 86.57L119.50 86.25L119.00 85.97L118.50 85.81L118.00 85.66L117.50 85.50L117.00 85.07L116.50 84.63L116.00 84.20L115.50 84.10L115.00 84.00L114.50 83.90L114.00 83.80L113.50 83.89L113.00 83.97L112.75 83.97L112.75 100.56L112.50 100.56L112.00 100.65L111.50 100.73L111.25 100.73L111.25 84.33L111.00 84.33L110.50 84.41L110.00 84.50L109.75 84.50L109.75 101.06L109.50 101.06L109.00 101.14L108.50 101.22L108.00 101.30L107.50 101.47L107.00 101.65L106.50 101.82L106.00 101.99L105.50 102.17L105.00 102.22L104.50 102.25L104.00 102.28L103.50 102.31L103.00 102.33L102.50 102.36L102.00 102.39L101.50 102.42L101.00 102.44L100.50 102.47L100.00 102.50L99.50 102.50L99.00 102.50L98.50 102.50L98.00 102.50L97.50 102.50L97.00 102.50L96.50 102.50L96.00 102.50L95.50 102.50L95.00 102.51L94.50 102.56L94.00 102.61L93.75 102.61L93.75 88.84L93.50 88.84L93.00 88.93L92.50 89.03L92.00 89.15L91.50 89.37L91.25 89.37L91.25 102.96L91.00 102.96L90.50 103.04L90.00 103.12L89.50 103.21L89.00 103.29L88.50 103.37L88.25 103.37L88.25 90.95L88.00 90.95L87.50 91.04L87.00 91.08L86.50 91.12L86.00 91.17L85.50 91.21L85.00 91.26L84.75 91.26L84.75 105.38L84.50 105.38L84.25 105.38L84.25 91.42L84.00 91.42L83.50 91.53L83.00 91.65L82.75 91.65L82.75 106.93L82.50 106.93L82.00 107.37L81.50 107.80L81.50 107.80Z" fill="#ff9900"/>
<path d="M191.75 74.23L192.00 74.23L192.50 73.00L193.00 71.50L193.50 70.00L194.00 69.00L194.50 68.00L195.00 68.50L195.50 69.00L196.00 70.00L196.50 71.00L197.00 72.31L197.25 72.31L197.25 104.79L197.00 104.79L196.50 105.14L196.00 105.50L195.50 106.10L195.00 106.70L194.50 107.30L194.00 107.66L193.50 108.01L193.00 108.20L192.50 107.70L192.00 107.20L191.75 107.20ZM210.75 78.76L211.00 78.76L211.50 78.76L212.00 78.71L212.50 78.65L213.00 78.60L213.50 78.23L214.00 77.87L214.50 77.50L215.00 76.50L215.50 75.56L216.00 74.88L216.25 74.88L216.25 107.25L216.00 107.25L215.50 107.12L215.00 106.93L214.50 106.71L214.00 106.50L213.50 106.25L213.00 106.00L212.50 105.75L212.00 105.50L211.50 105.20L211.00 104.90L210.75 104.90ZM347.75 72.80L348.00 72.80L348.50 72.50L349.00 72.53L349.50 72.57L350.00 72.60L350.50 72.39L351.00 72.19L351.50 71.98L352.00 72.15L352.25 72.15L352.25 106.60L352.00 106.60L351.50 104.03L351.00 101.50L350.50 99.00L350.00 97.77L349.50 96.55L349.00 95.99L348.50 95.59L348.00 95.20L347.75 95.20ZM353.25 72.87L353.50 72.87L354.00 72.73L354.50 72.60L355.00 72.80L355.25 72.80L355.25 125.86L355.00 125.86L354.50 125.30L354.00 123.24L353.75 123.24L353.75 120.22L353.50 120.22L353.25 120.22ZM357.25 73.44L357.50 73.44L358.00 73.12L358.50 72.80L359.00 73.37L359.50 73.93L360.00 74.50L360.50 74.76L360.75 74.76L360.75 115.46L360.50 115.46L360.00 117.28L359.50 119.13L359.00 121.00L358.50 122.80L358.00 124.60L357.50 125.55L357.25 125.55Z" fill="#fff200"/>
<path d="M306.25 79.61L306.50 79.61L307.00 79.72L307.50 79.83L307.75 79.83L307.75 85.21L307.50 85.21L307.00 85.20L306.50 85.18L306.25 85.18ZM309.75 80.80L310.00 80.80L310.50 80.97L311.00 81.15L311.50 81.32L312.00 81.49L312.50 81.67L313.00 81.58L313.50 81.44L314.00 81.29L314.25 81.29L314.25 85.30L314.00 85.30L313.50 85.30L313.00 85.30L312.50 85.30L312.00 85.30L311.50 85.29L311.00 85.28L310.50 85.27L310.00 85.26L309.75 85.26ZM315.25 80.83L315.50 80.83L316.00 80.65L316.25 80.65L316.25 85.30L316.00 85.30L315.50 85.30L315.25 85.30ZM318.25 80.16L318.50 80.16L319.00 80.12L319.50 80.07L320.00 80.03L320.50 80.07L321.00 80.25L321.50 80.42L322.00 80.60L322.25 80.60L322.25 85.30L322.00 85.30L321.50 85.30L321.00 85.30L320.50 85.30L320.00 85.30L319.50 85.30L319.00 85.30L318.50 85.30L318.25 85.30ZM324.25 81.41L324.50 81.41L325.00 81.57L325.50 81.68L326.00 81.61L326.50 81.53L327.00 81.45L327.50 81.38L328.00 81.30L328.25 81.30L328.25 85.30L328.00 85.30L327.50 85.30L327.00 85.30L326.50 85.30L326.00 85.30L325.50 85.30L325.00 85.30L324.50 85.30L324.25 85.30ZM329.25 81.05L329.50 81.05L330.00 80.97L330.50 80.88L331.00 80.80L331.50 80.76L331.75 80.76L331.75 85.33L331.50 85.33L331.00 85.32L330.50 85.31L330.00 85.30L329.50 85.30L329.25 85.30ZM332.75 80.64L333.00 80.64L333.50 80.60L334.00 80.46L334.50 80.33L334.75 80.33L334.75 85.39L334.50 85.39L334.00 85.38L333.50 85.37L333.00 85.36L332.75 85.36ZM336.25 79.08L336.50 79.08L337.00 78.50L337.50 77.93L338.00 77.37L338.25 77.37L338.25 96.88L338.00 96.88L337.75 96.88L337.75 91.74L337.50 91.74L337.25 91.74L337.25 86.30L337.00 86.30L336.50 86.08L336.25 86.08Z" fill="#fff200"/>
<path d="M81.50 107.80L82.00 107.37L82.50 106.93L82.75 106.93L82.75 91.65L83.00 91.65L83.50 91.53L84.00 91.42L84.25 91.42L84.25 105.38L84.50 105.38L84.75 105.38L84.75 91.26L85.00 91.26L85.50 91.21L86.00 91.17L86.50 91.12L87.00 91.08L87.50 91.04L88.00 90.95L88.25 90.95L88.25 103.37L88.50 103.37L89.00 103.29L89.50 103.21L90.00 103.12L90.50 103.04L91.00 102.96L91.25 102.96L91.25 89.37L91.50 89.37L92.00 89.15L92.50 89.03L93.00 88.93L93.50 88.84L93.75 88.84L93.75 102.61L94.00 102.61L94.50 102.56L95.00 102.51L95.25 102.51L95.25 88.47L95.50 88.47L95.75 88.47L95.75 102.50L96.00 102.50L96.50 102.50L97.00 102.50L97.50 102.50L98.00 102.50L98.50 102.50L99.00 102.50L99.50 102.50L100.00 102.50L100.50 102.47L101.00 102.44L101.25 102.44L101.25 86.19L101.50 86.19L102.00 86.05L102.25 86.05L102.25 102.36L102.50 102.36L103.00 102.33L103.50 102.31L104.00 102.28L104.50 102.25L105.00 102.22L105.25 102.22L105.25 85.09L105.50 85.09L105.75 85.09L105.75 101.99L106.00 101.99L106.25 101.99L106.25 84.96L106.50 84.96L106.75 84.96L106.75 101.65L107.00 101.65L107.25 101.65L107.25 84.83L107.50 84.83L107.75 84.83L107.75 101.30L108.00 101.30L108.25 101.30L108.25 84.70L108.50 84.70L108.75 84.70L108.75 101.14L109.00 101.14L109.50 101.06L109.75 101.06L109.75 84.50L110.00 84.50L110.50 84.41L111.00 84.33L111.25 84.33L111.25 100.73L111.50 100.73L111.75 100.73L111.75 84.15L112.00 84.15L112.25 84.15L112.25 100.56L112.50 100.56L112.75 100.56L112.75 83.97L113.00 83.97L113.50 83.89L114.00 83.80L114.50 83.90L115.00 84.00L115.50 84.10L116.00 84.20L116.50 84.63L117.00 85.07L117.50 85.50L118.00 85.66L118.50 85.81L119.00 85.97L119.50 86.25L120.00 86.57L120.50 86.88L121.00 87.20L121.50 87.47L122.00 87.73L122.50 88.00L123.00 88.27L123.50 88.53L124.00 88.80L124.50 89.17L125.00 89.55L125.50 89.92L126.00 90.30L126.50 90.54L127.00 90.77L127.50 91.01L128.00 91.22L128.50 91.41L129.00 91.61L129.50 91.80L130.00 92.00L130.50 92.30L131.00 92.60L131.50 92.90L132.00 93.20L132.50 93.50L133.00 93.81L133.50 94.12L134.00 94.43L134.50 94.74L135.00 94.37L135.50 93.84L136.00 93.30L136.50 92.85L137.00 92.40L137.50 91.95L138.00 91.50L138.50 91.28L139.00 91.05L139.50 90.82L140.00 90.60L140.50 90.31L141.00 90.03L141.50 89.77L142.00 89.62L142.50 89.46L143.00 89.31L143.50 89.15L144.00 89.00L144.50 88.88L145.00 88.77L145.50 88.65L146.00 88.53L146.50 88.42L147.00 88.30L147.50 88.20L148.00 88.10L148.50 88.00L149.00 87.90L149.50 87.80L150.00 87.70L150.25 87.70L150.25 102.30L150.50 102.30L151.00 102.30L151.25 102.30L151.25 87.45L151.50 87.45L152.00 87.37L152.50 87.28L153.00 87.20L153.50 87.08L154.00 86.97L154.50 86.85L155.00 86.73L155.50 86.62L156.00 86.50L156.50 86.40L157.00 86.31L157.50 86.21L158.00 86.12L158.50 86.02L158.75 86.02L158.75 102.30L159.00 102.30L159.50 102.30L160.00 102.30L160.25 102.30L160.25 86.24L160.50 86.24L161.00 86.30L161.50 86.60L162.00 86.90L162.50 87.20L163.00 87.50L163.50 87.67L164.00 87.85L164.50 88.03L165.00 88.20L165.50 88.30L166.00 88.39L166.50 88.49L167.00 88.58L167.50 88.56L168.00 88.51L168.50 88.46L169.00 88.40L169.50 88.35L170.00 88.30L170.50 88.43L171.00 88.56L171.50 88.69L172.00 88.82L172.50 88.95L173.00 89.07L173.50 89.09L173.75 89.09L173.75 106.60L174.00 106.60L174.50 106.45L175.00 106.30L175.25 106.30L175.25 89.02L175.50 89.02L176.00 89.00L176.50 88.91L177.00 88.83L177.50 88.74L177.75 88.74L177.75 105.00L178.00 105.00L178.50 104.83L178.75 104.83L178.75 88.47L179.00 88.47L179.25 88.47L179.25 104.48L179.50 104.48L180.00 104.31L180.25 104.31L180.25 88.33L180.50 88.33L180.75 88.33L180.75 104.01L181.00 104.01L181.50 104.04L181.75 104.04L181.75 88.40L182.00 88.40L182.25 88.40L182.25 104.10L182.50 104.10L182.75 104.10L182.75 88.45L183.00 88.45L183.50 88.47L184.00 88.50L184.50 88.56L185.00 88.62L185.25 88.62L185.25 104.12L185.50 104.12L185.75 104.12L185.75 88.75L186.00 88.75L186.50 88.81L186.75 88.81L186.75 104.04L187.00 104.04L187.25 104.04L187.25 88.94L187.50 88.94L187.75 88.94L187.75 104.12L188.00 104.12L188.50 104.31L189.00 104.50L189.50 104.83L190.00 105.17L190.50 105.50L191.00 106.07L191.50 106.63L192.00 107.20L192.50 107.70L193.00 108.20L193.50 108.01L194.00 107.66L194.50 107.30L195.00 106.70L195.50 106.10L196.00 105.50L196.50 105.14L197.00 104.79L197.50 104.49L198.00 104.42L198.25 104.42L198.25 89.40L198.50 89.40L199.00 89.40L199.50 89.40L200.00 89.40L200.50 89.41L201.00 89.42L201.25 89.42L201.25 104.90L201.50 104.90L202.00 105.20L202.50 105.50L203.00 105.61L203.50 105.72L204.00 105.83L204.50 105.79L205.00 105.53L205.50 105.26L206.00 105.00L206.50 104.81L207.00 104.62L207.50 104.42L208.00 104.23L208.50 104.04L209.00 104.09L209.50 104.19L210.00 104.30L210.50 104.60L211.00 104.90L211.50 105.20L212.00 105.50L212.50 105.75L213.00 106.00L213.50 106.25L214.00 106.50L214.50 106.71L215.00 106.93L215.50 107.12L216.00 107.25L216.50 107.38L217.00 107.50L217.50 107.62L217.75 107.62L217.75 92.00L218.00 92.00L218.25 92.00L218.25 107.88L218.50 107.88L219.00 108.00L219.50 108.09L220.00 108.19L220.50 108.28L221.00 108.16L221.50 107.98L222.00 107.80L222.50 107.55L223.00 107.30L223.50 107.05L224.00 106.80L224.50 106.55L225.00 106.30L225.50 106.05L226.00 105.80L226.50 105.60L227.00 105.41L227.50 105.21L228.00 105.02L228.50 104.97L229.00 105.13L229.50 105.30L230.00 106.99L230.50 108.67L231.00 110.35L231.50 111.36L232.00 109.67L232.50 108.22L233.00 106.93L233.50 105.92L234.00 106.05L234.50 106.17L235.00 106.30L235.50 106.47L236.00 106.65L236.50 106.83L237.00 107.00L237.50 107.08L238.00 107.17L238.50 107.25L239.00 107.33L239.50 107.39L240.00 107.35L240.50 107.32L241.00 107.28L241.50 107.24L242.00 107.20L242.25 107.20L242.25 96.96L242.50 96.96L243.00 96.93L243.25 96.93L243.25 106.90L243.50 106.90L244.00 106.80L244.50 106.70L245.00 106.60L245.25 106.60L245.25 95.27L245.50 95.27L246.00 94.96L246.25 94.96L246.25 106.40L246.50 106.40L247.00 106.33L247.50 106.27L248.00 106.20L248.25 106.20L248.25 93.87L248.50 93.87L249.00 93.67L249.25 93.67L249.25 106.65L249.50 106.65L250.00 106.80L250.50 106.99L251.00 107.19L251.50 107.38L252.00 107.57L252.50 107.77L253.00 107.96L253.50 107.79L254.00 107.53L254.50 107.26L255.00 107.00L255.50 106.73L256.00 106.46L256.50 106.19L257.00 105.92L257.50 105.75L258.00 106.00L258.50 106.25L259.00 106.50L259.50 106.88L260.00 107.25L260.50 107.62L261.00 108.00L261.50 108.34L262.00 108.69L262.50 109.03L263.00 108.96L263.50 108.78L264.00 108.60L264.50 108.32L265.00 108.05L265.50 107.78L266.00 107.50L266.50 107.33L267.00 107.15L267.50 106.98L268.00 106.81L268.50 106.63L269.00 106.50L269.50 106.38L270.00 106.25L270.50 106.12L271.00 106.00L271.50 105.88L271.75 105.88L271.75 88.60L272.00 88.60L272.25 88.60L272.25 105.62L272.50 105.62L273.00 105.50L273.50 105.44L274.00 105.38L274.25 105.38L274.25 88.08L274.50 88.08L275.00 87.97L275.25 87.97L275.25 105.23L275.50 105.23L276.00 105.37L276.50 105.51L277.00 105.66L277.50 105.80L278.00 106.00L278.50 106.20L279.00 106.40L279.50 106.60L280.00 106.73L280.50 106.86L281.00 106.99L281.50 107.02L281.75 107.02L281.75 85.85L282.00 85.85L282.25 85.85L282.25 106.20L282.50 106.20L283.00 105.87L283.25 105.87L283.25 85.36L283.50 85.36L283.75 85.36L283.75 105.20L284.00 105.20L284.25 105.20L284.25 85.09L284.50 85.09L285.00 85.08L285.50 85.07L286.00 85.05L286.50 85.04L287.00 85.03L287.50 85.01L287.75 85.01L287.75 105.53L288.00 105.53L288.25 105.53L288.25 84.98L288.50 84.98L288.75 84.98L288.75 105.67L289.00 105.67L289.25 105.67L289.25 84.93L289.50 84.93L290.00 84.90L290.50 84.88L291.00 84.86L291.50 84.83L292.00 84.81L292.25 84.81L292.25 106.03L292.50 106.03L293.00 106.08L293.50 106.13L294.00 106.17L294.50 106.17L295.00 106.09L295.50 106.01L296.00 105.92L296.50 105.84L297.00 105.76L297.50 105.68L298.00 105.60L298.50 105.56L299.00 105.52L299.50 105.49L300.00 105.45L300.50 105.41L301.00 105.38L301.50 105.34L302.00 105.30L302.50 105.26L303.00 105.21L303.50 105.17L304.00 105.13L304.50 105.08L305.00 105.04L305.50 105.00L306.00 104.95L306.25 104.95L306.25 85.18L306.50 85.18L307.00 85.20L307.50 85.21L308.00 85.22L308.25 85.22L308.25 105.07L308.50 105.07L309.00 105.11L309.50 105.16L309.75 105.16L309.75 85.26L310.00 85.26L310.50 85.27L311.00 85.28L311.50 85.29L312.00 85.30L312.50 85.30L313.00 85.30L313.50 85.30L314.00 85.30L314.25 85.30L314.25 105.74L314.50 105.74L315.00 105.80L315.25 105.80L315.25 85.30L315.50 85.30L316.00 85.30L316.25 85.30L316.25 105.83L316.50 105.83L317.00 105.84L317.25 105.84L317.25 85.30L317.50 85.30L317.75 85.30L317.75 105.86L318.00 105.86L318.25 105.86L318.25 85.30L318.50 85.30L319.00 85.30L319.50 85.30L320.00 85.30L320.50 85.30L321.00 85.30L321.50 85.30L322.00 85.30L322.25 85.30L322.25 105.95L322.50 105.95L323.00 105.96L323.25 105.96L323.25 85.30L323.50 85.30L323.75 85.30L323.75 105.98L324.00 105.98L324.25 105.98L324.25 85.30L324.50 85.30L325.00 85.30L325.50 85.30L326.00 85.30L326.50 85.30L327.00 85.30L327.50 85.30L328.00 85.30L328.25 85.30L328.25 105.86L328.50 105.86L328.75 105.86L328.75 85.30L329.00 85.30L329.25 85.30L329.25 105.82L329.50 105.82L329.75 105.82L329.75 85.30L330.00 85.30L330.50 85.31L331.00 85.32L331.50 85.33L331.75 85.33L331.75 105.72L332.00 105.72L332.50 105.70L332.75 105.70L332.75 85.36L333.00 85.36L333.50 85.37L334.00 85.38L334.50 85.39L334.75 85.39L334.75 105.60L335.00 105.60L335.25 105.60L335.25 85.62L335.50 85.62L335.75 85.62L335.75 105.57L336.00 105.57L336.25 105.57L336.25 86.08L336.50 86.08L337.00 86.30L337.25 86.30L337.25 91.74L337.50 91.74L337.75 91.74L337.75 105.50L338.00 105.50L338.25 105.50L338.25 98.93L338.50 98.93L339.00 97.00L339.50 95.35L340.00 93.70L340.50 93.53L341.00 93.35L341.50 93.17L342.00 93.00L342.50 92.98L343.00 92.96L343.50 92.93L344.00 92.91L344.50 93.01L345.00 93.27L345.50 93.54L346.00 93.80L346.50 94.15L347.00 94.50L347.50 94.85L348.00 95.20L348.50 95.59L349.00 95.99L349.50 96.55L350.00 97.77L350.50 99.00L351.00 101.50L351.50 104.03L352.00 106.60L352.25 106.60L352.25 111.22L352.50 111.22L352.75 111.22L352.75 115.78L353.00 115.78L353.25 115.78L353.25 120.22L353.50 120.22L353.75 120.22L353.75 123.24L354.00 123.24L354.50 125.30L355.00 125.86L355.50 126.05L356.00 124.80L356.50 125.13L357.00 126.50L357.50 125.55L358.00 124.60L358.50 122.80L359.00 121.00L359.50 119.13L360.00 117.28L360.50 115.46L361.00 114.21L361.50 113.11L362.00 112.00L362.50 111.10L363.00 110.20L363.50 109.30L364.00 108.62L364.50 107.94L365.00 107.26L365.50 106.57L366.00 105.88L366.50 105.19L367.00 104.50L367.50 103.98L368.00 103.45L368.50 102.93L369.00 102.40L369.50 102.30L370.00 102.30L370.50 102.30L371.00 102.30L371.50 101.76L372.00 101.22L372.50 101.10L373.00 101.27L373.50 101.34L374.00 101.06L374.50 100.78L375.00 100.50L375.50 100.25L376.00 100.00L376.50 99.75L377.00 99.50L377.50 99.31L378.00 99.13L378.50 98.94L379.00 98.61L379.50 98.24L380.00 97.87L380.50 97.50L381.00 97.10L381.50 96.70L382.00 96.30L382.50 96.04L383.00 95.77L383.50 95.51L384.00 95.47L384.50 95.58L385.00 95.69L385.50 95.80L386.00 95.53L386.50 95.27L387.00 95.00L387.50 94.97L388.00 94.95L388.50 94.92L389.00 94.85L389.50 94.57L390.00 94.30L390.50 94.09L391.00 93.87L391.50 93.62L391.75 93.62L391.75 100.80L392.00 100.80L392.25 100.80L392.25 92.88L392.50 92.88L393.00 92.50L393.50 92.20L394.00 91.90L394.50 91.60L395.00 91.30L395.50 91.09L396.00 90.88L396.50 90.67L397.00 90.47L397.50 90.28L398.00 90.18L398.50 90.09L399.00 89.99L399.50 89.90L400.00 89.80L400.50 89.72L401.00 89.65L401.50 89.57L402.00 89.49L402.50 89.42L403.00 89.00L403.50 88.50L404.00 88.00L404.50 87.50L405.00 87.10L405.50 86.70L406.00 86.30L406.50 86.47L407.00 86.63L407.50 86.80L408.00 86.92L408.25 86.92L408.25 104.38L408.50 104.38L408.75 104.38L408.75 87.17L409.00 87.17L409.50 87.30L410.00 87.17L410.50 87.05L411.00 86.93L411.50 86.75L412.00 86.57L412.50 86.38L413.00 86.20L413.50 86.07L414.00 85.94L414.50 85.81L415.00 85.72L415.50 85.81L416.00 85.91L416.50 86.00L417.00 86.25L417.50 86.50L418.00 86.75L418.50 86.86L419.00 86.77L419.25 86.77L419.25 100.00L419.50 100.00L419.75 100.00L419.75 86.59L420.00 86.59L420.50 86.50L421.00 86.50L421.50 86.50L422.00 86.50L422.50 86.50L423.00 86.50L423.50 86.67L424.00 86.83L424.50 87.00L424.75 87.00L424.75 98.00L425.00 98.00L425.50 97.89L425.75 97.89L425.75 87.50L426.00 87.50L426.50 87.81L427.00 88.12L427.50 88.42L428.00 88.73L428.50 89.04L429.00 89.13L429.50 89.17L430.00 89.22L430.50 89.26L431.00 89.30L431.50 89.42L432.00 89.53L432.50 89.65L432.75 89.65L432.75 96.50L433.00 96.50L433.25 96.50L433.25 89.88L433.50 89.88L434.00 90.00L434.50 90.07L435.00 90.13L435.50 90.20L436.00 90.26L436.50 90.35L437.00 90.48L437.50 90.61L438.00 90.74L438.50 90.87L439.00 91.00L439.50 91.23L439.75 91.23L439.75 96.50L440.00 96.50L440.50 96.60L441.00 96.70L441.50 96.80L441.75 96.80L441.75 92.36L442.00 92.36L442.50 92.53L443.00 92.61L443.50 92.68L444.00 92.76L444.50 92.84L445.00 92.81L445.50 92.37L446.00 91.94L446.50 91.50L447.00 91.17L447.25 91.17L447.25 98.01L447.50 98.01L447.75 98.01L447.75 90.52L448.00 90.52L448.50 90.19L449.00 89.87L449.50 89.69L450.00 89.55L450.50 89.41L450.75 89.41L450.75 98.30L451.00 98.30L451.25 98.30L451.25 89.14L451.50 89.14L452.00 89.00L452.50 88.91L453.00 88.83L453.50 88.74L454.00 88.65L454.50 88.48L455.00 88.19L455.50 87.89L456.00 87.60L456.50 87.30L457.00 86.99L457.50 86.68L458.00 86.37L458.50 86.06L459.00 86.05L459.50 86.11L460.00 86.17L460.50 86.24L461.00 86.30L461.50 86.45L462.00 86.61L462.50 86.76L463.00 86.91L463.50 87.06L464.00 87.22L464.50 87.37L465.00 87.25L465.50 87.06L466.00 86.88L466.50 86.69L467.00 86.50L467.50 86.37L468.00 86.24L468.50 86.11L469.00 86.06L469.50 86.37L469.75 86.37L469.75 99.70L470.00 99.70L470.25 99.70L470.25 86.99L470.50 86.99L471.00 87.30L471.50 87.65L472.00 88.00L472.50 88.35L473.00 88.70L473.50 88.81L474.00 88.91L474.50 89.02L475.00 89.08L475.50 88.98L476.00 88.89L476.50 88.79L477.00 88.69L477.50 88.60L478.00 88.50L478.50 88.39L479.00 88.28L479.50 88.18L480.00 88.07L480.50 87.96L481.00 87.85L481.50 87.74L482.00 87.64L482.50 87.53L483.00 87.42L483.50 87.32L484.00 87.21L484.50 87.11L485.00 87.00L485.50 86.92L486.00 86.83L486.50 86.75L487.00 86.67L487.50 86.58L488.00 86.50L488.50 86.39L489.00 86.28L489.50 86.17L490.00 86.07L490.50 85.99L491.00 85.95L491.50 85.91L492.00 85.87L492.50 85.84L493.00 85.80L493.50 85.70L494.00 85.60L494.50 85.50L495.00 85.40L495.50 85.30L496.00 85.20L496.50 85.13L497.00 85.06L497.50 84.99L498.00 84.92L498.50 84.86L499.00 84.82L499.50 84.91L500.00 85.01L500.50 85.10L501.00 85.20L501.50 85.48L502.00 85.77L502.50 86.05L503.00 86.33L503.50 86.62L504.00 86.90L504.50 87.12L505.00 87.34L505.50 87.56L506.00 87.78L506.50 88.00L507.00 88.35L507.50 88.69L508.00 89.04L508.50 89.38L509.00 89.73L509.50 89.95L510.00 90.13L510.50 90.32L511.00 90.50L511.50 90.62L511.75 90.62L511.75 103.53L512.00 103.53L512.50 103.62L513.00 103.70L513.50 103.47L513.75 103.47L513.75 91.05L514.00 91.05L514.50 91.07L515.00 91.10L515.50 91.09L515.75 91.09L515.75 102.30L516.00 102.30L516.50 101.30L517.00 100.30L517.50 99.30L518.00 99.06L518.50 99.33L519.00 99.60L519.50 100.20L520.00 100.80L520.50 101.17L521.00 101.54L521.50 101.91L522.00 101.97L522.50 100.80L523.00 99.63L523.50 98.47L524.00 97.70L524.50 97.20L525.00 96.70L525.50 96.20L526.00 95.70L526.50 95.20L527.00 95.50L527.25 95.50L527.25 106.40L527.50 106.40L528.00 106.40L528.50 106.40L528.75 106.40L528.75 97.14L529.00 97.14L529.50 97.83L530.00 98.52L530.50 99.21L531.00 99.90L531.25 99.90L531.25 107.38L531.50 107.38L532.00 107.33L532.50 107.29L533.00 107.24L533.50 107.17L534.00 106.99L534.50 106.82L534.75 106.82L534.75 96.59L535.00 96.59L535.50 95.00L536.00 93.65L536.50 92.30L537.00 91.49L537.50 90.68L538.00 90.00L538.25 90.00L538.25 104.95L538.50 104.95L539.00 104.83L539.50 104.74L539.75 104.74L539.75 88.48L540.00 88.48L540.50 88.21L541.00 87.95L541.50 87.97L542.00 88.06L542.25 88.06L542.25 104.22L542.50 104.22L542.75 104.22L542.75 88.23L543.00 88.23L543.25 88.23L543.25 104.06L543.50 104.06L543.75 104.06L543.75 88.40L544.00 88.40L544.50 88.50L545.00 88.60L545.50 88.70L546.00 89.00L546.50 89.30L546.75 89.30L546.75 103.52L547.00 103.52L547.25 103.52L547.25 89.74L547.50 89.74L547.75 89.74L547.75 103.72L548.00 103.72L548.25 103.72L548.25 90.02L548.50 90.02L549.00 90.16L549.50 90.29L550.00 90.43L550.50 90.57L551.00 90.45L551.50 90.26L552.00 90.06L552.50 89.87L552.75 89.87L552.75 105.12L553.00 105.12L553.50 105.27L553.75 105.27L553.75 89.30L554.00 89.30L554.25 89.30L554.25 105.58L554.50 105.58L554.75 105.58L554.75 88.82L555.00 88.82L555.25 88.82L555.25 105.74L555.50 105.74L555.75 105.74L555.75 88.34L556.00 88.34L556.50 88.10L557.00 87.82L557.50 87.51L557.75 87.51L557.75 105.88L558.00 105.88L558.25 105.88L558.25 86.96L558.50 86.96L558.75 86.96L558.75 105.94L559.00 105.94L559.25 105.94L559.25 86.47L559.50 86.47L560.00 86.23L560.50 85.98L561.00 85.74L561.50 85.50L562.00 85.54L562.50 85.78L563.00 86.02L563.50 86.26L563.75 86.26L563.75 106.13L564.00 106.13L564.50 106.15L565.00 106.17L565.50 106.18L566.00 106.20L566.50 106.20L566.75 106.20L566.75 87.47L567.00 87.47L567.50 87.64L568.00 87.54L568.50 87.28L568.75 87.28L568.75 106.20L569.00 106.20L569.50 106.20L570.00 106.20L570.50 106.20L571.00 106.20L571.25 106.20L571.25 85.78L571.50 85.78L572.00 85.53L572.50 85.29L573.00 85.10L573.50 85.08L573.75 85.08L573.75 106.20L574.00 106.20L574.50 106.20L575.00 106.20L575.50 106.20L576.00 106.20L576.25 106.20L576.25 84.97L576.50 84.97L577.00 84.93L577.50 84.90L578.00 84.86L578.50 84.83L579.00 84.80L579.50 84.80L580.00 84.80L580.50 84.80L581.00 84.80L581.25 84.80L581.25 107.41L581.50 107.41L581.75 107.41L581.75 84.80L582.00 84.80L582.25 84.80L582.25 107.55L582.50 107.55L583.00 107.62L583.50 107.69L584.00 107.76L584.50 107.83L585.00 107.90L585.50 107.96L586.00 108.02L586.50 108.08L586.75 108.08L586.75 85.00L587.00 85.00L587.25 85.00L587.25 108.20L587.50 108.20L588.00 108.26L588.50 108.27L589.00 108.21L589.50 108.14L589.75 108.14L589.75 86.63L590.00 86.63L590.25 86.63L590.25 108.00L590.50 108.00L590.75 108.00L590.75 87.26L591.00 87.26L591.50 87.57L591.75 87.57L591.75 107.80L592.00 107.80L592.25 107.80L592.25 87.60L592.50 87.60L593.00 87.54L593.50 87.48L594.00 87.42L594.25 87.42L594.25 107.48L594.50 107.48L594.75 107.48L594.75 87.30L595.00 87.30L595.25 87.30L595.25 107.48L595.50 107.48L595.75 107.48L595.75 87.19L596.00 87.19L596.50 87.13L597.00 87.08L597.25 87.08L597.25 107.89L597.50 107.89L597.75 107.89L597.75 86.97L598.00 86.97L598.25 86.97L598.25 108.10L598.50 108.10L598.75 108.10L598.75 86.77L599.00 86.77L599.50 86.61L600.00 86.45L600.25 86.45L600.25 108.49L600.50 108.49L600.75 108.49L600.75 86.12L601.00 86.12L601.50 85.96L602.00 85.80L602.50 85.65L602.75 85.65L602.75 108.97L603.00 108.97L603.25 108.97L603.25 85.36L603.50 85.36L603.75 85.36L603.75 108.58L604.00 108.58L604.25 108.58L604.25 85.06L604.50 85.06L605.00 84.92L605.50 84.80L606.00 84.83L606.50 84.85L606.75 84.85L606.75 103.28L607.00 103.28L607.50 103.50L608.00 104.00L608.50 104.50L609.00 104.79L609.50 105.07L610.00 105.36L610.50 105.64L611.00 105.58L611.50 105.44L612.00 105.29L612.50 105.15L613.00 105.00L613.50 104.72L614.00 104.44L614.50 104.16L615.00 103.88L615.50 103.60L616.00 103.39L616.50 103.18L617.00 102.97L617.50 102.83L618.00 103.00L618.50 103.17L619.00 103.33L619.50 103.50L620.00 103.61L620.50 103.73L621.00 103.84L621.50 103.95L622.00 103.84L622.50 103.58L623.00 103.32L623.50 103.06L624.00 102.80L624.50 102.55L625.00 102.30L625.50 102.05L626.00 101.80L626.50 101.55L627.00 101.30L627.50 101.15L628.00 101.01L628.50 100.86L629.00 100.72L629.50 100.60L630.00 100.58L630.25 100.58L630.25 85.70L630.50 85.70L630.75 85.70L630.75 100.56L631.00 100.56L631.50 100.54L632.00 100.53L632.50 100.51L633.00 100.50L633.50 100.52L634.00 100.53L634.50 100.55L635.00 100.56L635.50 100.58L636.00 100.59L636.50 100.69L637.00 100.93L637.50 101.16L637.75 101.16L637.75 85.14L638.00 85.14L638.50 85.10L639.00 85.03L639.50 84.96L640.00 84.89L640.50 84.81L641.00 84.74L641.25 84.74L641.25 100.80L641.50 100.80L642.00 100.80L642.50 100.80L642.75 100.80L642.75 84.53L643.00 84.53L643.50 84.50L644.00 84.47L644.50 84.43L644.75 84.43L644.75 101.10L645.00 101.10L645.25 101.10L645.25 84.39L645.50 84.39L646.00 84.37L646.50 84.36L647.00 84.34L647.50 84.33L648.00 84.31L648.50 84.30" fill="none" stroke="#100600" stroke-width="0.75" stroke-linejoin="round"/><path d="M81.50 107.80L82.00 107.37L82.50 106.93L82.75 106.93M82.75 91.65L83.00 91.65L83.50 91.53L84.00 91.42L84.25 91.42M84.25 105.38L84.50 105.38L84.75 105.38M84.75 91.26L85.00 91.26L85.50 91.21L86.00 91.17L86.50 91.12L87.00 91.08L87.50 91.04L88.00 90.95L88.25 90.95M88.25 103.37L88.50 103.37L89.00 103.29L89.50 103.21L90.00 103.12L90.50 103.04L91.00 102.96L91.25 102.96M91.25 89.37L91.50 89.37L92.00 89.15L92.50 89.03L93.00 88.93L93.50 88.84L93.75 88.84M93.75 102.61L94.00 102.61L94.50 102.56L95.00 102.51L95.25 102.51M95.25 88.47L95.50 88.47L95.75 88.47M95.75 102.50L96.00 102.50L96.50 102.50L97.00 102.50L97.50 102.50L98.00 102.50L98.50 102.50L99.00 102.50L99.50 102.50L100.00 102.50L100.50 102.47L101.00 102.44L101.25 102.44M101.25 86.19L101.50 86.19L102.00 86.05L102.25 86.05M102.25 102.36L102.50 102.36L103.00 102.33L103.50 102.31L104.00 102.28L104.50 102.25L105.00 102.22L105.25 102.22M105.25 85.09L105.50 85.09L105.75 85.09M105.75 101.99L106.00 101.99L106.25 101.99M106.25 84.96L106.50 84.96L106.75 84.96M106.75 101.65L107.00 101.65L107.25 101.65M107.25 84.83L107.50 84.83L107.75 84.83M107.75 101.30L108.00 101.30L108.25 101.30M108.25 84.70L108.50 84.70L108.75 84.70M108.75 101.14L109.00 101.14L109.50 101.06L109.75 101.06M109.75 84.50L110.00 84.50L110.50 84.41L111.00 84.33L111.25 84.33M111.25 100.73L111.50 100.73L111.75 100.73M111.75 84.15L112.00 84.15L112.25 84.15M112.25 100.56L112.50 100.56L112.75 100.56M112.75 83.97L113.00 83.97L113.50 83.89L114.00 83.80L114.50 83.90L115.00 84.00L115.50 84.10L116.00 84.20L116.50 84.63L117.00 85.07L117.50 85.50L118.00 85.66L118.50 85.81L119.00 85.97L119.50 86.25L120.00 86.57L120.50 86.88L121.00 87.20L121.50 87.47L122.00 87.73L122.50 88.00L123.00 88.27L123.50 88.53L124.00 88.80L124.50 89.17L125.00 89.55L125.50 89.92L126.00 90.30L126.50 90.54L127.00 90.77L127.50 91.01L128.00 91.22L128.50 91.41L129.00 91.61L129.50 91.80L130.00 92.00L130.50 92.30L131.00 92.60L131.50 92.90L132.00 93.20L132.50 93.50L133.00 93.81L133.50 94.12L134.00 94.43L134.50 94.74L135.00 94.37L135.50 93.84L136.00 93.30L136.50 92.85L137.00 92.40L137.50 91.95L138.00 91.50L138.50 91.28L139.00 91.05L139.50 90.82L140.00 90.60L140.50 90.31L141.00 90.03L141.50 89.77L142.00 89.62L142.50 89.46L143.00 89.31L143.50 89.15L144.00 89.00L144.50 88.88L145.00 88.77L145.50 88.65L146.00 88.53L146.50 88.42L147.00 88.30L147.50 88.20L148.00 88.10L148.50 88.00L149.00 87.90L149.50 87.80L150.00 87.70L150.25 87.70M150.25 102.30L150.50 102.30L151.00 102.30L151.25 102.30M151.25 87.45L151.50 87.45L152.00 87.37L152.50 87.28L153.00 87.20L153.50 87.08L154.00 86.97L154.50 86.85L155.00 86.73L155.50 86.62L156.00 86.50L156.50 86.40L157.00 86.31L157.50 86.21L158.00 86.12L158.50 86.02L158.75 86.02M158.75 102.30L159.00 102.30L159.50 102.30L160.00 102.30L160.25 102.30M160.25 86.24L160.50 86.24L161.00 86.30L161.50 86.60L162.00 86.90L162.50 87.20L163.00 87.50L163.50 87.67L164.00 87.85L164.50 88.03L165.00 88.20L165.50 88.30L166.00 88.39L166.50 88.49L167.00 88.58L167.50 88.56L168.00 88.51L168.50 88.46L169.00 88.40L169.50 88.35L170.00 88.30L170.50 88.43L171.00 88.56L171.50 88.69L172.00 88.82L172.50 88.95L173.00 89.07L173.50 89.09L173.75 89.09M173.75 106.60L174.00 106.60L174.50 106.45L175.00 106.30L175.25 106.30M175.25 89.02L175.50 89.02L176.00 89.00L176.50 88.91L177.00 88.83L177.50 88.74L177.75 88.74M177.75 105.00L178.00 105.00L178.50 104.83L178.75 104.83M178.75 88.47L179.00 88.47L179.25 88.47M179.25 104.48L179.50 104.48L180.00 104.31L180.25 104.31M180.25 88.33L180.50 88.33L180.75 88.33M180.75 104.01L181.00 104.01L181.50 104.04L181.75 104.04M181.75 88.40L182.00 88.40L182.25 88.40M182.25 104.10L182.50 104.10L182.75 104.10M182.75 88.45L183.00 88.45L183.50 88.47L184.00 88.50L184.50 88.56L185.00 88.62L185.25 88.62M185.25 104.12L185.50 104.12L185.75 104.12M185.75 88.75L186.00 88.75L186.50 88.81L186.75 88.81M186.75 104.04L187.00 104.04L187.25 104.04M187.25 88.94L187.50 88.94L187.75 88.94M187.75 104.12L188.00 104.12L188.50 104.31L189.00 104.50L189.50 104.83L190.00 105.17L190.50 105.50L191.00 106.07L191.50 106.63L192.00 107.20L192.50 107.70L193.00 108.20L193.50 108.01L194.00 107.66L194.50 107.30L195.00 106.70L195.50 106.10L196.00 105.50L196.50 105.14L197.00 104.79L197.50 104.49L198.00 104.42L198.25 104.42M198.25 89.40L198.50 89.40L199.00 89.40L199.50 89.40L200.00 89.40L200.50 89.41L201.00 89.42L201.25 89.42M201.25 104.90L201.50 104.90L202.00 105.20L202.50 105.50L203.00 105.61L203.50 105.72L204.00 105.83L204.50 105.79L205.00 105.53L205.50 105.26L206.00 105.00L206.50 104.81L207.00 104.62L207.50 104.42L208.00 104.23L208.50 104.04L209.00 104.09L209.50 104.19L210.00 104.30L210.50 104.60L211.00 104.90L211.50 105.20L212.00 105.50L212.50 105.75L213.00 106.00L213.50 106.25L214.00 106.50L214.50 106.71L215.00 106.93L215.50 107.12L216.00 107.25L216.50 107.38L217.00 107.50L217.50 107.62L217.75 107.62M217.75 92.00L218.00 92.00L218.25 92.00M218.25 107.88L218.50 107.88L219.00 108.00L219.50 108.09L220.00 108.19L220.50 108.28L221.00 108.16L221.50 107.98L222.00 107.80L222.50 107.55L223.00 107.30L223.50 107.05L224.00 106.80L224.50 106.55L225.00 106.30L225.50 106.05L226.00 105.80L226.50 105.60L227.00 105.41L227.50 105.21L228.00 105.02L228.50 104.97L229.00 105.13L229.50 105.30L230.00 106.99L230.50 108.67L231.00 110.35L231.50 111.36L232.00 109.67L232.50 108.22L233.00 106.93L233.50 105.92L234.00 106.05L234.50 106.17L235.00 106.30L235.50 106.47L236.00 106.65L236.50 106.83L237.00 107.00L237.50 107.08L238.00 107.17L238.50 107.25L239.00 107.33L239.50 107.39L240.00 107.35L240.50 107.32L241.00 107.28L241.50 107.24L242.00 107.20L242.25 107.20M242.25 96.96L242.50 96.96L243.00 96.93L243.25 96.93M243.25 106.90L243.50 106.90L244.00 106.80L244.50 106.70L245.00 106.60L245.25 106.60M245.25 95.27L245.50 95.27L246.00 94.96L246.25 94.96M246.25 106.40L246.50 106.40L247.00 106.33L247.50 106.27L248.00 106.20L248.25 106.20M248.25 93.87L248.50 93.87L249.00 93.67L249.25 93.67M249.25 106.65L249.50 106.65L250.00 106.80L250.50 106.99L251.00 107.19L251.50 107.38L252.00 107.57L252.50 107.77L253.00 107.96L253.50 107.79L254.00 107.53L254.50 107.26L255.00 107.00L255.50 106.73L256.00 106.46L256.50 106.19L257.00 105.92L257.50 105.75L258.00 106.00L258.50 106.25L259.00 106.50L259.50 106.88L260.00 107.25L260.50 107.62L261.00 108.00L261.50 108.34L262.00 108.69L262.50 109.03L263.00 108.96L263.50 108.78L264.00 108.60L264.50 108.32L265.00 108.05L265.50 107.78L266.00 107.50L266.50 107.33L267.00 107.15L267.50 106.98L268.00 106.81L268.50 106.63L269.00 106.50L269.50 106.38L270.00 106.25L270.50 106.12L271.00 106.00L271.50 105.88L271.75 105.88M271.75 88.60L272.00 88.60L272.25 88.60M272.25 105.62L272.50 105.62L273.00 105.50L273.50 105.44L274.00 105.38L274.25 105.38M274.25 88.08L274.50 88.08L275.00 87.97L275.25 87.97M275.25 105.23L275.50 105.23L276.00 105.37L276.50 105.51L277.00 105.66L277.50 105.80L278.00 106.00L278.50 106.20L279.00 106.40L279.50 106.60L280.00 106.73L280.50 106.86L281.00 106.99L281.50 107.02L281.75 107.02M281.75 85.85L282.00 85.85L282.25 85.85M282.25 106.20L282.50 106.20L283.00 105.87L283.25 105.87M283.25 85.36L283.50 85.36L283.75 85.36M283.75 105.20L284.00 105.20L284.25 105.20M284.25 85.09L284.50 85.09L285.00 85.08L285.50 85.07L286.00 85.05L286.50 85.04L287.00 85.03L287.50 85.01L287.75 85.01M287.75 105.53L288.00 105.53L288.25 105.53M288.25 84.98L288.50 84.98L288.75 84.98M288.75 105.67L289.00 105.67L289.25 105.67M289.25 84.93L289.50 84.93L290.00 84.90L290.50 84.88L291.00 84.86L291.50 84.83L292.00 84.81L292.25 84.81M292.25 106.03L292.50 106.03L293.00 106.08L293.50 106.13L294.00 106.17L294.50 106.17L295.00 106.09L295.50 106.01L296.00 105.92L296.50 105.84L297.00 105.76L297.50 105.68L298.00 105.60L298.50 105.56L299.00 105.52L299.50 105.49L300.00 105.45L300.50 105.41L301.00 105.38L301.50 105.34L302.00 105.30L302.50 105.26L303.00 105.21L303.50 105.17L304.00 105.13L304.50 105.08L305.00 105.04L305.50 105.00L306.00 104.95L306.25 104.95M306.25 85.18L306.50 85.18L307.00 85.20L307.50 85.21L308.00 85.22L308.25 85.22M308.25 105.07L308.50 105.07L309.00 105.11L309.50 105.16L309.75 105.16M309.75 85.26L310.00 85.26L310.50 85.27L311.00 85.28L311.50 85.29L312.00 85.30L312.50 85.30L313.00 85.30L313.50 85.30L314.00 85.30L314.25 85.30M314.25 105.74L314.50 105.74L315.00 105.80L315.25 105.80M315.25 85.30L315.50 85.30L316.00 85.30L316.25 85.30M316.25 105.83L316.50 105.83L317.00 105.84L317.25 105.84M317.25 85.30L317.50 85.30L317.75 85.30M317.75 105.86L318.00 105.86L318.25 105.86M318.25 85.30L318.50 85.30L319.00 85.30L319.50 85.30L320.00 85.30L320.50 85.30L321.00 85.30L321.50 85.30L322.00 85.30L322.25 85.30M322.25 105.95L322.50 105.95L323.00 105.96L323.25 105.96M323.25 85.30L323.50 85.30L323.75 85.30M323.75 105.98L324.00 105.98L324.25 105.98M324.25 85.30L324.50 85.30L325.00 85.30L325.50 85.30L326.00 85.30L326.50 85.30L327.00 85.30L327.50 85.30L328.00 85.30L328.25 85.30M328.25 105.86L328.50 105.86L328.75 105.86M328.75 85.30L329.00 85.30L329.25 85.30M329.25 105.82L329.50 105.82L329.75 105.82M329.75 85.30L330.00 85.30L330.50 85.31L331.00 85.32L331.50 85.33L331.75 85.33M331.75 105.72L332.00 105.72L332.50 105.70L332.75 105.70M332.75 85.36L333.00 85.36L333.50 85.37L334.00 85.38L334.50 85.39L334.75 85.39M334.75 105.60L335.00 105.60L335.25 105.60M335.25 85.62L335.50 85.62L335.75 85.62M335.75 105.57L336.00 105.57L336.25 105.57M336.25 86.08L336.50 86.08L337.00 86.30L337.25 86.30M337.25 91.74L337.50 91.74L337.75 91.74M337.75 105.50L338.00 105.50L338.25 105.50M338.25 98.93L338.50 98.93L339.00 97.00L339.50 95.35L340.00 93.70L340.50 93.53L341.00 93.35L341.50 93.17L342.00 93.00L342.50 92.98L343.00 92.96L343.50 92.93L344.00 92.91L344.50 93.01L345.00 93.27L345.50 93.54L346.00 93.80L346.50 94.15L347.00 94.50L347.50 94.85L348.00 95.20L348.50 95.59L349.00 95.99L349.50 96.55L350.00 97.77L350.50 99.00L351.00 101.50L351.50 104.03L352.00 106.60L352.25 106.60M352.25 111.22L352.50 111.22L352.75 111.22M352.75 115.78L353.00 115.78L353.25 115.78M353.25 120.22L353.50 120.22L354.00 123.24L354.50 125.30L355.00 125.86L355.50 126.05L356.00 124.80L356.50 125.13L357.00 126.50L357.50 125.55L358.00 124.60L358.50 122.80L359.00 121.00L359.50 119.13L360.00 117.28L360.50 115.46L361.00 114.21L361.50 113.11L362.00 112.00L362.50 111.10L363.00 110.20L363.50 109.30L364.00 108.62L364.50 107.94L365.00 107.26L365.50 106.57L366.00 105.88L366.50 105.19L367.00 104.50L367.50 103.98L368.00 103.45L368.50 102.93L369.00 102.40L369.50 102.30L370.00 102.30L370.50 102.30L371.00 102.30L371.50 101.76L372.00 101.22L372.50 101.10L373.00 101.27L373.50 101.34L374.00 101.06L374.50 100.78L375.00 100.50L375.50 100.25L376.00 100.00L376.50 99.75L377.00 99.50L377.50 99.31L378.00 99.13L378.50 98.94L379.00 98.61L379.50 98.24L380.00 97.87L380.50 97.50L381.00 97.10L381.50 96.70L382.00 96.30L382.50 96.04L383.00 95.77L383.50 95.51L384.00 95.47L384.50 95.58L385.00 95.69L385.50 95.80L386.00 95.53L386.50 95.27L387.00 95.00L387.50 94.97L388.00 94.95L388.50 94.92L389.00 94.85L389.50 94.57L390.00 94.30L390.50 94.09L391.00 93.87L391.50 93.62L391.75 93.62M391.75 100.80L392.00 100.80L392.25 100.80M392.25 92.88L392.50 92.88L393.00 92.50L393.50 92.20L394.00 91.90L394.50 91.60L395.00 91.30L395.50 91.09L396.00 90.88L396.50 90.67L397.00 90.47L397.50 90.28L398.00 90.18L398.50 90.09L399.00 89.99L399.50 89.90L400.00 89.80L400.50 89.72L401.00 89.65L401.50 89.57L402.00 89.49L402.50 89.42L403.00 89.00L403.50 88.50L404.00 88.00L404.50 87.50L405.00 87.10L405.50 86.70L406.00 86.30L406.50 86.47L407.00 86.63L407.50 86.80L408.00 86.92L408.25 86.92M408.25 104.38L408.50 104.38L408.75 104.38M408.75 87.17L409.00 87.17L409.50 87.30L410.00 87.17L410.50 87.05L411.00 86.93L411.50 86.75L412.00 86.57L412.50 86.38L413.00 86.20L413.50 86.07L414.00 85.94L414.50 85.81L415.00 85.72L415.50 85.81L416.00 85.91L416.50 86.00L417.00 86.25L417.50 86.50L418.00 86.75L418.50 86.86L419.00 86.77L419.25 86.77M419.25 100.00L419.50 100.00L419.75 100.00M419.75 86.59L420.00 86.59L420.50 86.50L421.00 86.50L421.50 86.50L422.00 86.50L422.50 86.50L423.00 86.50L423.50 86.67L424.00 86.83L424.50 87.00L424.75 87.00M424.75 98.00L425.00 98.00L425.50 97.89L425.75 97.89M425.75 87.50L426.00 87.50L426.50 87.81L427.00 88.12L427.50 88.42L428.00 88.73L428.50 89.04L429.00 89.13L429.50 89.17L430.00 89.22L430.50 89.26L431.00 89.30L431.50 89.42L432.00 89.53L432.50 89.65L432.75 89.65M432.75 96.50L433.00 96.50L433.25 96.50M433.25 89.88L433.50 89.88L434.00 90.00L434.50 90.07L435.00 90.13L435.50 90.20L436.00 90.26L436.50 90.35L437.00 90.48L437.50 90.61L438.00 90.74L438.50 90.87L439.00 91.00L439.50 91.23L439.75 91.23M439.75 96.50L440.00 96.50L440.50 96.60L441.00 96.70L441.50 96.80L441.75 96.80M441.75 92.36L442.00 92.36L442.50 92.53L443.00 92.61L443.50 92.68L444.00 92.76L444.50 92.84L445.00 92.81L445.50 92.37L446.00 91.94L446.50 91.50L447.00 91.17L447.25 91.17M447.25 98.01L447.50 98.01L447.75 98.01M447.75 90.52L448.00 90.52L448.50 90.19L449.00 89.87L449.50 89.69L450.00 89.55L450.50 89.41L450.75 89.41M450.75 98.30L451.00 98.30L451.25 98.30M451.25 89.14L451.50 89.14L452.00 89.00L452.50 88.91L453.00 88.83L453.50 88.74L454.00 88.65L454.50 88.48L455.00 88.19L455.50 87.89L456.00 87.60L456.50 87.30L457.00 86.99L457.50 86.68L458.00 86.37L458.50 86.06L459.00 86.05L459.50 86.11L460.00 86.17L460.50 86.24L461.00 86.30L461.50 86.45L462.00 86.61L462.50 86.76L463.00 86.91L463.50 87.06L464.00 87.22L464.50 87.37L465.00 87.25L465.50 87.06L466.00 86.88L466.50 86.69L467.00 86.50L467.50 86.37L468.00 86.24L468.50 86.11L469.00 86.06L469.50 86.37L469.75 86.37M469.75 99.70L470.00 99.70L470.25 99.70M470.25 86.99L470.50 86.99L471.00 87.30L471.50 87.65L472.00 88.00L472.50 88.35L473.00 88.70L473.50 88.81L474.00 88.91L474.50 89.02L475.00 89.08L475.50 88.98L476.00 88.89L476.50 88.79L477.00 88.69L477.50 88.60L478.00 88.50L478.50 88.39L479.00 88.28L479.50 88.18L480.00 88.07L480.50 87.96L481.00 87.85L481.50 87.74L482.00 87.64L482.50 87.53L483.00 87.42L483.50 87.32L484.00 87.21L484.50 87.11L485.00 87.00L485.50 86.92L486.00 86.83L486.50 86.75L487.00 86.67L487.50 86.58L488.00 86.50L488.50 86.39L489.00 86.28L489.50 86.17L490.00 86.07L490.50 85.99L491.00 85.95L491.50 85.91L492.00 85.87L492.50 85.84L493.00 85.80L493.50 85.70L494.00 85.60L494.50 85.50L495.00 85.40L495.50 85.30L496.00 85.20L496.50 85.13L497.00 85.06L497.50 84.99L498.00 84.92L498.50 84.86L499.00 84.82L499.50 84.91L500.00 85.01L500.50 85.10L501.00 85.20L501.50 85.48L502.00 85.77L502.50 86.05L503.00 86.33L503.50 86.62L504.00 86.90L504.50 87.12L505.00 87.34L505.50 87.56L506.00 87.78L506.50 88.00L507.00 88.35L507.50 88.69L508.00 89.04L508.50 89.38L509.00 89.73L509.50 89.95L510.00 90.13L510.50 90.32L511.00 90.50L511.50 90.62L511.75 90.62M511.75 103.53L512.00 103.53L512.50 103.62L513.00 103.70L513.50 103.47L513.75 103.47M513.75 91.05L514.00 91.05L514.50 91.07L515.00 91.10L515.50 91.09L515.75 91.09M515.75 102.30L516.00 102.30L516.50 101.30L517.00 100.30L517.50 99.30L518.00 99.06L518.50 99.33L519.00 99.60L519.50 100.20L520.00 100.80L520.50 101.17L521.00 101.54L521.50 101.91L522.00 101.97L522.50 100.80L523.00 99.63L523.50 98.47L524.00 97.70L524.50 97.20L525.00 96.70L525.50 96.20L526.00 95.70L526.50 95.20L527.00 95.50L527.25 95.50M527.25 106.40L527.50 106.40L528.00 106.40L528.50 106.40L528.75 106.40M528.75 97.14L529.00 97.14L529.50 97.83L530.00 98.52L530.50 99.21L531.00 99.90L531.25 99.90M531.25 107.38L531.50 107.38L532.00 107.33L532.50 107.29L533.00 107.24L533.50 107.17L534.00 106.99L534.50 106.82L534.75 106.82M534.75 96.59L535.00 96.59L535.50 95.00L536.00 93.65L536.50 92.30L537.00 91.49L537.50 90.68L538.00 90.00L538.25 90.00M538.25 104.95L538.50 104.95L539.00 104.83L539.50 104.74L539.75 104.74M539.75 88.48L540.00 88.48L540.50 88.21L541.00 87.95L541.50 87.97L542.00 88.06L542.25 88.06M542.25 104.22L542.50 104.22L542.75 104.22M542.75 88.23L543.00 88.23L543.25 88.23M543.25 104.06L543.50 104.06L543.75 104.06M543.75 88.40L544.00 88.40L544.50 88.50L545.00 88.60L545.50 88.70L546.00 89.00L546.50 89.30L546.75 89.30M546.75 103.52L547.00 103.52L547.25 103.52M547.25 89.74L547.50 89.74L547.75 89.74M547.75 103.72L548.00 103.72L548.25 103.72M548.25 90.02L548.50 90.02L549.00 90.16L549.50 90.29L550.00 90.43L550.50 90.57L551.00 90.45L551.50 90.26L552.00 90.06L552.50 89.87L552.75 89.87M552.75 105.12L553.00 105.12L553.50 105.27L553.75 105.27M553.75 89.30L554.00 89.30L554.25 89.30M554.25 105.58L554.50 105.58L554.75 105.58M554.75 88.82L555.00 88.82L555.25 88.82M555.25 105.74L555.50 105.74L555.75 105.74M555.75 88.34L556.00 88.34L556.50 88.10L557.00 87.82L557.50 87.51L557.75 87.51M557.75 105.88L558.00 105.88L558.25 105.88M558.25 86.96L558.50 86.96L558.75 86.96M558.75 105.94L559.00 105.94L559.25 105.94M559.25 86.47L559.50 86.47L560.00 86.23L560.50 85.98L561.00 85.74L561.50 85.50L562.00 85.54L562.50 85.78L563.00 86.02L563.50 86.26L563.75 86.26M563.75 106.13L564.00 106.13L564.50 106.15L565.00 106.17L565.50 106.18L566.00 106.20L566.50 106.20L566.75 106.20M566.75 87.47L567.00 87.47L567.50 87.64L568.00 87.54L568.50 87.28L568.75 87.28M568.75 106.20L569.00 106.20L569.50 106.20L570.00 106.20L570.50 106.20L571.00 106.20L571.25 106.20M571.25 85.78L571.50 85.78L572.00 85.53L572.50 85.29L573.00 85.10L573.50 85.08L573.75 85.08M573.75 106.20L574.00 106.20L574.50 106.20L575.00 106.20L575.50 106.20L576.00 106.20L576.25 106.20M576.25 84.97L576.50 84.97L577.00 84.93L577.50 84.90L578.00 84.86L578.50 84.83L579.00 84.80L579.50 84.80L580.00 84.80L580.50 84.80L581.00 84.80L581.25 84.80M581.25 107.41L581.50 107.41L581.75 107.41M581.75 84.80L582.00 84.80L582.25 84.80M582.25 107.55L582.50 107.55L583.00 107.62L583.50 107.69L584.00 107.76L584.50 107.83L585.00 107.90L585.50 107.96L586.00 108.02L586.50 108.08L586.75 108.08M586.75 85.00L587.00 85.00L587.25 85.00M587.25 108.20L587.50 108.20L588.00 108.26L588.50 108.27L589.00 108.21L589.50 108.14L589.75 108.14M589.75 86.63L590.00 86.63L590.25 86.63M590.25 108.00L590.50 108.00L590.75 108.00M590.75 87.26L591.00 87.26L591.50 87.57L591.75 87.57M591.75 107.80L592.00 107.80L592.25 107.80M592.25 87.60L592.50 87.60L593.00 87.54L593.50 87.48L594.00 87.42L594.25 87.42M594.25 107.48L594.50 107.48L594.75 107.48M594.75 87.30L595.00 87.30L595.25 87.30M595.25 107.48L595.50 107.48L595.75 107.48M595.75 87.19L596.00 87.19L596.50 87.13L597.00 87.08L597.25 87.08M597.25 107.89L597.50 107.89L597.75 107.89M597.75 86.97L598.00 86.97L598.25 86.97M598.25 108.10L598.50 108.10L598.75 108.10M598.75 86.77L599.00 86.77L599.50 86.61L600.00 86.45L600.25 86.45M600.25 108.49L600.50 108.49L600.75 108.49M600.75 86.12L601.00 86.12L601.50 85.96L602.00 85.80L602.50 85.65L602.75 85.65M602.75 108.97L603.00 108.97L603.25 108.97M603.25 85.36L603.50 85.36L603.75 85.36M603.75 108.58L604.00 108.58L604.25 108.58M604.25 85.06L604.50 85.06L605.00 84.92L605.50 84.80L606.00 84.83L606.50 84.85L606.75 84.85M606.75 103.28L607.00 103.28L607.50 103.50L608.00 104.00L608.50 104.50L609.00 104.79L609.50 105.07L610.00 105.36L610.50 105.64L611.00 105.58L611.50 105.44L612.00 105.29L612.50 105.15L613.00 105.00L613.50 104.72L614.00 104.44L614.50 104.16L615.00 103.88L615.50 103.60L616.00 103.39L616.50 103.18L617.00 102.97L617.50 102.83L618.00 103.00L618.50 103.17L619.00 103.33L619.50 103.50L620.00 103.61L620.50 103.73L621.00 103.84L621.50 103.95L622.00 103.84L622.50 103.58L623.00 103.32L623.50 103.06L624.00 102.80L624.50 102.55L625.00 102.30L625.50 102.05L626.00 101.80L626.50 101.55L627.00 101.30L627.50 101.15L628.00 101.01L628.50 100.86L629.00 100.72L629.50 100.60L630.00 100.58L630.25 100.58M630.25 85.70L630.50 85.70L630.75 85.70M630.75 100.56L631.00 100.56L631.50 100.54L632.00 100.53L632.50 100.51L633.00 100.50L633.50 100.52L634.00 100.53L634.50 100.55L635.00 100.56L635.50 100.58L636.00 100.59L636.50 100.69L637.00 100.93L637.50 101.16L637.75 101.16M637.75 85.14L638.00 85.14L638.50 85.10L639.00 85.03L639.50 84.96L640.00 84.89L640.50 84.81L641.00 84.74L641.25 84.74M641.25 100.80L641.50 100.80L642.00 100.80L642.50 100.80L642.75 100.80M642.75 84.53L643.00 84.53L643.50 84.50L644.00 84.47L644.50 84.43L644.75 84.43M644.75 101.10L645.00 101.10L645.25 101.10M645.25 84.39L645.50 84.39L646.00 84.37L646.50 84.36L647.00 84.34L647.50 84.33L648.00 84.31L648.50 84.30" fill="none" stroke="#100600" stroke-width="1.0" stroke-linejoin="round" stroke-linecap="butt"/>
<path d="M81.50 75.20L82.00 75.57L82.50 75.93L83.00 76.30L83.50 76.45L84.00 76.61L84.50 76.76L85.00 76.91L85.50 77.06L86.00 77.22L86.50 77.37L87.00 77.47L87.50 77.56L88.00 77.65L88.50 77.74L89.00 77.82L89.50 77.91L90.00 78.00L90.50 78.11L91.00 78.22L91.50 78.32L92.00 78.43L92.50 78.54L93.00 78.65L93.50 78.75L94.00 78.86L94.50 78.97L95.00 79.08L95.50 79.17L96.00 79.27L96.50 79.36L97.00 79.45L97.50 79.54L98.00 79.63L98.50 79.72L99.00 79.82L99.50 79.91L100.00 80.00L100.50 80.12L101.00 80.24L101.50 80.36L102.00 80.49L102.50 80.61L103.00 80.73L103.50 80.85L104.00 80.85L104.50 80.77L105.00 80.68L105.50 80.60L106.00 78.60L106.50 78.00L107.00 79.50L107.50 78.25L108.00 77.00L108.50 78.25L109.00 79.50L109.50 78.35L110.00 77.20L110.50 77.27L111.00 77.33L111.50 77.40L112.00 77.46L112.50 77.49L113.00 77.45L113.50 77.41L114.00 77.37L114.50 77.34L115.00 77.30L115.50 77.22L116.00 77.15L116.50 77.07L117.00 77.00L117.50 76.92L118.00 76.85L118.50 76.33L119.00 75.17L119.50 74.00L120.00 73.68L120.50 73.36L121.00 73.07L121.50 72.93L122.00 72.79L122.50 72.64L123.00 72.50L123.50 72.25L124.00 72.00L124.50 71.75L125.00 71.50L125.50 71.00L126.00 70.50L126.50 70.00L127.00 69.75L127.50 69.50L128.00 69.65L128.50 70.08L129.00 70.50L129.50 70.25L130.00 70.00L130.50 70.33L131.00 70.67L131.50 71.00L132.00 71.15L132.50 71.29L133.00 71.44L133.50 71.58L134.00 71.73L134.50 71.87L135.00 72.08L135.50 72.31L136.00 72.54L136.50 72.77L137.00 73.00L137.50 73.25L138.00 73.50L138.50 73.75L139.00 74.00L139.50 74.25L140.00 74.50L140.50 74.69L141.00 74.89L141.50 75.08L142.00 75.27L142.50 75.47L143.00 75.66L143.50 75.81L144.00 75.95L144.50 76.09L145.00 76.22L145.50 76.36L146.00 76.50L146.50 76.75L147.00 77.00L147.50 77.25L148.00 77.50L148.50 77.75L149.00 78.00L149.50 78.24L150.00 78.48L150.50 78.72L151.00 78.96L151.50 79.20L152.00 79.12L152.50 78.81L153.00 78.50L153.50 78.25L154.00 78.00L154.50 77.75L155.00 77.50L155.50 77.75L156.00 78.00L156.50 78.25L157.00 78.50L157.50 78.28L158.00 78.06L158.50 77.84L159.00 77.92L159.50 78.06L160.00 78.21L160.50 78.35L161.00 78.50L161.50 78.30L162.00 78.09L162.50 77.89L163.00 77.69L163.50 77.48L164.00 77.54L164.50 77.78L165.00 78.02L165.50 78.26L166.00 78.50L166.50 78.38L167.00 78.25L167.50 78.12L168.00 78.00L168.50 78.06L169.00 78.12L169.50 78.17L170.00 78.23L170.50 78.29L171.00 77.79L171.50 77.14L172.00 76.50L172.50 76.07L173.00 75.63L173.50 75.20L174.00 75.09L174.50 74.99L175.00 74.96L175.50 75.24L176.00 75.52L176.50 75.80L177.00 76.37L177.50 76.93L178.00 77.50L178.50 78.02L179.00 78.53L179.50 79.05L180.00 79.57L180.50 80.09L181.00 80.45L181.50 80.21L182.00 79.98L182.50 79.74L183.00 79.50L183.50 79.67L184.00 79.85L184.50 80.03L185.00 80.20L185.50 80.07L186.00 79.94L186.50 79.81L187.00 79.68L187.50 79.55L188.00 79.27L188.50 78.88L189.00 78.50L189.50 77.75L190.00 77.00L190.50 76.54L191.00 76.07L191.50 75.45L192.00 74.23L192.50 73.00L193.00 71.50L193.50 70.00L194.00 69.00L194.50 68.00L195.00 68.50L195.50 69.00L196.00 70.00L196.50 71.00L197.00 72.31L197.50 73.61L198.00 74.92L198.50 75.92L199.00 76.46L199.50 77.00L200.00 77.09L200.50 77.18L201.00 77.27L201.50 77.36L202.00 77.35L202.50 77.28L203.00 77.20L203.50 77.57L204.00 77.93L204.50 78.30L205.00 77.55L205.50 76.80L206.00 76.66L206.50 76.51L207.00 76.51L207.50 77.05L208.00 77.60L208.50 77.80L209.00 78.00L209.50 78.20L210.00 78.39L210.50 78.58L211.00 78.76L211.50 78.76L212.00 78.71L212.50 78.65L213.00 78.60L213.50 78.23L214.00 77.87L214.50 77.50L215.00 76.50L215.50 75.56L216.00 74.88L216.50 74.19L217.00 73.50L217.50 72.83L218.00 72.17L218.50 71.50L219.00 70.75L219.50 70.00L220.00 69.10L220.25 69.10L220.25 -75.30L220.50 -75.30L220.75 -75.30L220.75 69.20L221.00 69.20L221.50 69.70L222.00 70.24L222.50 70.67L223.00 70.83L223.50 71.00L224.00 70.67L224.50 70.33L225.00 70.00L225.50 69.60L226.00 69.20L226.50 68.80L227.00 68.36L227.50 68.09L228.00 68.55L228.50 69.00L229.00 70.25L229.50 71.50L230.00 72.07L230.50 72.64L231.00 72.92L231.50 72.03L232.00 71.35L232.50 70.98L233.00 71.50L233.50 72.25L234.00 73.00L234.50 73.83L235.00 74.67L235.50 75.50L236.00 76.07L236.50 76.64L237.00 77.03L237.50 76.69L238.00 76.34L238.50 76.00L239.00 75.50L239.50 75.00L240.00 74.50L240.50 74.17L241.00 73.83L241.50 73.50L242.00 73.36L242.50 73.21L243.00 73.13L243.50 73.30L244.00 73.47L244.50 73.63L245.00 73.80L245.50 73.88L246.00 73.97L246.50 74.05L247.00 74.13L247.50 74.22L248.00 74.30L248.50 74.39L249.00 74.48L249.50 74.56L250.00 74.65L250.50 74.74L251.00 74.83L251.50 74.88L252.00 74.75L252.50 74.62L253.00 74.50L253.50 74.00L254.00 73.50L254.50 73.00L255.00 72.83L255.50 72.67L256.00 72.50L256.50 72.33L257.00 72.25L257.50 72.19L258.00 72.12L258.50 72.06L259.00 72.00L259.50 71.83L260.00 71.65L260.50 71.47L261.00 71.30L261.50 71.32L262.00 71.34L262.50 71.36L263.00 71.38L263.50 71.34L264.00 71.01L264.50 70.69L265.00 70.08L265.50 69.01L266.00 68.51L266.50 68.64L267.00 69.50L267.50 71.69L268.00 73.47L268.50 74.66L269.00 74.50L269.50 74.00L270.00 73.50L270.50 72.75L271.00 72.00L271.50 71.70L272.00 71.40L272.50 71.95L273.00 72.50L273.50 73.50L274.00 74.50L274.50 74.73L275.00 74.97L275.50 75.20L276.00 75.64L276.50 76.07L277.00 76.51L277.50 76.64L278.00 76.69L278.50 76.75L279.00 76.80L279.50 77.00L280.00 77.20L280.50 77.40L281.00 77.60L281.50 77.72L282.00 77.83L282.50 77.95L283.00 78.07L283.50 78.18L284.00 78.30L284.50 78.22L285.00 78.15L285.50 78.08L286.00 78.00L286.50 77.88L287.00 77.75L287.50 77.62L288.00 77.50L288.50 77.28L289.00 77.05L289.50 76.82L290.00 76.60L290.50 76.90L291.00 77.20L291.50 77.50L292.00 78.00L292.50 78.50L293.00 79.00L293.50 79.38L294.00 79.77L294.50 80.02L295.00 80.08L295.50 80.13L296.00 80.19L296.50 80.24L297.00 80.30L297.50 80.17L298.00 80.05L298.50 79.92L299.00 79.80L299.50 79.85L300.00 79.90L300.50 79.94L301.00 79.99L301.50 79.97L302.00 79.94L302.50 79.90L303.00 79.87L303.50 79.83L304.00 79.80L304.50 79.72L305.00 79.65L305.50 79.58L306.00 79.50L306.50 79.61L307.00 79.72L307.50 79.83L308.00 79.93L308.50 80.09L309.00 80.33L309.50 80.56L310.00 80.80L310.50 80.97L311.00 81.15L311.50 81.32L312.00 81.49L312.50 81.67L313.00 81.58L313.50 81.44L314.00 81.29L314.50 81.15L315.00 81.00L315.50 80.83L316.00 80.65L316.50 80.47L317.00 80.30L317.50 80.25L318.00 80.21L318.50 80.16L319.00 80.12L319.50 80.07L320.00 80.03L320.50 80.07L321.00 80.25L321.50 80.42L322.00 80.60L322.50 80.76L323.00 80.92L323.50 81.09L324.00 81.25L324.50 81.41L325.00 81.57L325.50 81.68L326.00 81.61L326.50 81.53L327.00 81.45L327.50 81.38L328.00 81.30L328.50 81.22L329.00 81.13L329.50 81.05L330.00 80.97L330.50 80.88L331.00 80.80L331.50 80.76L332.00 80.72L332.50 80.68L333.00 80.64L333.50 80.60L334.00 80.46L334.50 80.33L335.00 80.19L335.50 80.05L336.00 79.65L336.50 79.08L337.00 78.50L337.50 77.93L338.00 77.37L338.50 76.80L339.00 76.43L339.50 76.07L340.00 75.70L340.50 75.40L341.00 75.10L341.50 74.80L342.00 74.50L342.50 74.20L343.00 73.90L343.50 73.60L344.00 73.44L344.50 73.29L345.00 73.13L345.50 73.16L346.00 73.24L346.50 73.32L347.00 73.40L347.50 73.10L348.00 72.80L348.50 72.50L349.00 72.53L349.50 72.57L350.00 72.60L350.50 72.39L351.00 72.19L351.50 71.98L352.00 72.15L352.50 72.58L353.00 73.00L353.50 72.87L354.00 72.73L354.50 72.60L355.00 72.80L355.50 73.00L356.00 73.20L356.50 73.43L357.00 73.65L357.50 73.44L358.00 73.12L358.50 72.80L359.00 73.37L359.50 73.93L360.00 74.50L360.50 74.76L361.00 75.02L361.50 75.28L362.00 75.54L362.50 75.58L363.00 75.29L363.50 75.00L364.00 74.44L364.25 74.44L364.25 65.00L364.50 65.00L364.75 65.00L364.75 55.86L365.00 55.86L365.50 55.68L366.00 55.50L366.50 55.40L367.00 55.30L367.25 55.30L367.25 74.00L367.50 74.00L368.00 74.00L368.50 74.00L368.75 74.00L368.75 54.83L369.00 54.83L369.50 55.33L370.00 56.00L370.50 56.83L371.00 57.67L371.50 58.50L372.00 59.42L372.50 60.34L373.00 61.26L373.50 62.05L374.00 62.30L374.25 62.30L374.25 76.50L374.50 76.50L374.75 76.50L374.75 62.80L375.00 62.80L375.50 62.92L376.00 63.05L376.50 63.17L377.00 63.30L377.50 63.33L378.00 63.36L378.50 63.39L379.00 63.27L379.50 63.12L380.00 62.96L380.50 62.80L381.00 62.60L381.50 62.40L382.00 62.20L382.50 62.23L383.00 62.26L383.50 62.29L384.00 62.69L384.50 63.35L385.00 64.00L385.50 64.75L386.00 65.50L386.50 66.23L387.00 66.95L387.50 67.93L388.00 68.96L388.50 70.00L389.00 71.17L389.50 72.33L390.00 73.50L390.50 74.89L391.00 76.29L391.50 78.26L392.00 80.96L392.25 80.96L392.25 77.82L392.50 77.82L393.00 76.91L393.50 76.00L394.00 75.23L394.50 74.47L395.00 73.70L395.50 74.28L396.00 74.85L396.50 74.92L397.00 74.22L397.50 73.58L398.00 73.03L398.50 73.00L399.00 73.75L399.50 74.50L400.00 75.10L400.50 75.70L401.00 76.30L401.50 75.40L402.00 74.50L402.50 73.90L403.00 73.30L403.50 73.88L404.00 74.45L404.50 74.93L405.00 75.25L405.50 75.57L406.00 75.88L406.50 76.19L407.00 76.50L407.50 77.19L408.00 77.88L408.50 78.45L409.00 78.81L409.50 78.97L410.00 78.31L410.50 77.66L411.00 77.00L411.50 76.50L412.00 76.00L412.50 75.50L413.00 75.00L413.50 74.50L414.00 74.50L414.50 74.83L415.00 74.50L415.50 74.00L416.00 73.50L416.50 72.79L417.00 72.08L417.50 71.65L418.00 71.40L418.50 71.77L418.75 71.77L418.75 78.30L419.00 78.30L419.50 78.30L420.00 78.30L420.25 78.30L420.25 73.60L420.50 73.60L421.00 73.77L421.50 73.93L422.00 74.12L422.50 74.31L423.00 74.50L423.50 74.60L424.00 74.69L424.50 74.79L425.00 74.88L425.50 74.50L426.00 74.00L426.50 71.71L427.00 70.71L427.50 70.55L428.00 70.40L428.50 70.55L429.00 70.70L429.50 70.85L430.00 71.00L430.50 71.10L431.00 71.20L431.50 71.30L432.00 71.40L432.25 71.40L432.25 76.00L432.50 76.00L433.00 76.00L433.25 76.00L433.25 70.60L433.50 70.60L434.00 70.49L434.50 70.39L435.00 70.28L435.50 70.26L436.00 70.58L436.50 70.89L437.00 71.20L437.50 71.49L438.00 71.78L438.50 72.07L439.00 72.33L439.50 73.50L440.00 73.50L440.50 73.50L441.00 73.50L441.50 73.50L442.00 73.50L442.50 73.50L443.00 73.50L443.50 73.56L444.00 73.72L444.50 73.87L445.00 74.12L445.50 74.71L446.00 75.30L446.50 75.92L447.00 76.55L447.50 76.96L448.00 77.24L448.50 77.36L449.00 77.27L449.50 77.18L450.00 77.09L450.50 76.99L451.00 76.90L451.50 76.92L452.00 76.94L452.50 76.96L453.00 76.98L453.50 77.00L454.00 76.92L454.50 76.84L455.00 76.76L455.50 76.68L456.00 76.60L456.50 76.90L457.00 77.20L457.50 77.50L458.00 77.80L458.50 78.10L459.00 78.40L459.50 78.57L460.00 78.73L460.50 78.90L461.00 79.07L461.50 78.99L462.00 78.86L462.50 78.73L463.00 78.60L463.50 78.48L464.00 78.36L464.50 78.24L465.00 78.12L465.50 78.00L466.00 77.88L466.50 77.76L467.00 77.64L467.50 77.52L468.00 77.40L468.50 77.18L469.00 76.95L469.50 76.72L470.00 76.50L470.50 76.42L471.00 76.35L471.50 76.28L472.00 76.20L472.50 76.08L473.00 75.95L473.50 75.83L474.00 75.70L474.50 75.30L475.00 74.90L475.50 74.50L476.00 74.14L476.50 73.77L477.00 73.96L477.50 74.28L478.00 74.60L478.50 74.80L479.00 75.00L479.50 75.20L480.00 75.40L480.50 75.49L481.00 75.58L481.50 75.66L482.00 75.73L482.50 75.77L483.00 75.81L483.50 75.86L484.00 75.90L484.50 75.85L485.00 75.80L485.50 75.75L486.00 75.70L486.50 75.65L487.00 75.60L487.50 75.62L488.00 75.63L488.50 75.65L489.00 75.66L489.50 75.68L490.00 75.69L490.50 75.74L491.00 75.83L491.50 75.92L492.00 76.01L492.50 76.11L493.00 76.20L493.50 76.40L494.00 76.60L494.50 76.80L495.00 77.00L495.50 77.02L496.00 77.05L496.50 77.07L497.00 77.10L497.50 76.93L498.00 76.72L498.50 76.51L499.00 76.30L499.50 76.26L500.00 76.22L500.50 76.17L501.00 76.13L501.50 76.14L502.00 76.36L502.50 76.57L503.00 76.79L503.50 77.00L504.00 77.02L504.50 77.05L505.00 77.07L505.50 77.09L506.00 77.06L506.50 77.00L507.00 76.93L507.50 76.87L508.00 76.80L508.50 76.73L509.00 76.67L509.50 76.60L510.00 76.53L510.50 76.47L511.00 76.40L511.50 76.35L512.00 76.31L512.50 76.26L513.00 76.22L513.50 76.17L514.00 76.13L514.50 76.09L515.00 76.05L515.50 76.01L516.00 75.97L516.50 75.94L517.00 75.90L517.50 75.82L518.00 75.74L518.50 75.66L519.00 75.58L519.50 75.50L520.00 75.38L520.50 75.26L521.00 75.14L521.50 75.02L522.00 74.90L522.50 75.10L523.00 75.30L523.50 75.50L524.00 75.87L524.50 76.23L525.00 76.60L525.50 76.76L526.00 76.91L526.50 77.07L527.00 76.97L527.50 76.82L528.00 76.66L528.50 76.50L529.00 76.67L529.50 76.83L530.00 77.00L530.50 76.88L531.00 76.76L531.50 76.65L532.00 77.04L532.50 77.77L533.00 78.50L533.50 79.08L534.00 79.65L534.50 79.99L535.00 79.95L535.50 79.91L536.00 79.87L536.50 79.84L537.00 79.80L537.50 79.72L538.00 79.63L538.50 79.55L539.00 79.47L539.50 79.38L540.00 79.30L540.50 79.27L541.00 79.25L541.50 79.22L542.00 79.19L542.50 79.16L543.00 79.14L543.50 79.11L544.00 79.14L544.50 79.20L545.00 79.26L545.50 79.32L546.00 79.38L546.50 79.44L547.00 79.50L547.50 79.42L548.00 79.33L548.50 79.25L549.00 79.17L549.50 79.08L550.00 79.00L550.50 78.97L551.00 78.95L551.50 78.92L552.00 78.90L552.50 78.88L553.00 78.85L553.50 78.83L554.00 78.80L554.50 78.86L555.00 78.92L555.50 78.99L556.00 79.05L556.50 79.11L557.00 79.17L557.50 79.24L558.00 79.30L558.50 79.24L559.00 79.17L559.50 79.11L560.00 79.05L560.50 78.99L561.00 78.92L561.50 78.86L562.00 78.80L562.50 78.80L563.00 78.80L563.50 78.80L564.00 78.80L564.50 78.80L565.00 78.80L565.50 78.80L566.00 78.80L566.50 78.86L567.00 78.92L567.50 78.99L568.00 79.05L568.50 79.11L569.00 79.17L569.50 79.24L570.00 79.30L570.50 79.31L571.00 79.33L571.50 79.34L572.00 79.35L572.50 79.36L573.00 79.38L573.50 79.39L574.00 79.40L574.50 79.42L575.00 79.44L575.50 79.47L576.00 79.49L576.50 79.50L577.00 79.50L577.50 79.50L578.00 79.50L578.50 79.50L579.00 79.50L579.50 79.30L580.00 79.10L580.50 78.90L581.00 78.70L581.50 78.50L582.00 77.96L582.50 77.42L583.00 77.48L583.50 78.43L584.00 79.16L584.50 79.55L585.00 79.95L585.50 80.34L586.00 80.38L586.50 80.19L587.00 80.00L587.50 79.33L588.00 78.67L588.50 78.00L589.00 77.60L589.50 77.20L590.00 76.80L590.50 76.69L591.00 76.66L591.50 76.98L592.00 77.29L592.50 77.60L593.00 77.45L593.50 77.30L594.00 77.15L594.50 77.00L595.00 77.02L595.50 77.04L596.00 77.06L596.50 77.08L597.00 77.06L597.50 76.87L598.00 76.69L598.50 76.50L599.00 76.10L599.50 75.70L600.00 75.30L600.50 75.12L601.00 74.94L601.50 75.48L602.00 76.21L602.50 76.86L603.00 77.46L603.50 78.06L604.00 78.00L604.50 77.50L605.00 77.00L605.50 76.65L606.00 76.31L606.50 76.21L607.00 76.47L607.50 76.74L608.00 77.00L608.50 77.20L609.00 77.40L609.50 77.60L610.00 77.80L610.50 78.02L611.00 78.23L611.50 78.45L612.00 78.67L612.50 78.89L613.00 79.11L613.50 79.33L614.00 79.56L614.50 79.78L615.00 80.00L615.50 80.19L616.00 80.38L616.50 80.56L617.00 80.75L617.50 80.90L618.00 80.92L618.50 80.93L619.00 80.94L619.50 80.96L620.00 80.97L620.50 80.99L621.00 81.00L621.50 80.97L622.00 80.95L622.50 80.92L623.00 80.90L623.50 80.88L624.00 80.85L624.50 80.83L625.00 80.80L625.50 80.81L626.00 80.82L626.50 80.83L627.00 80.85L627.50 80.86L628.00 80.87L628.50 80.88L629.00 80.89L629.50 80.50L630.00 78.50L630.50 76.92L631.00 78.26L631.50 79.99L632.00 81.20L632.50 81.17L633.00 81.13L633.50 81.10L634.00 81.07L634.50 81.03L635.00 81.00L635.50 81.04L636.00 81.08L636.50 81.12L637.00 81.17L637.50 80.96L638.00 79.73L638.50 78.60L639.00 77.60L639.50 77.71L640.00 78.11L640.50 78.50L641.00 79.12L641.50 79.75L642.00 79.43L642.50 78.49L643.00 77.70L643.50 77.21L644.00 77.75L644.50 78.30L645.00 78.70L645.50 79.10L646.00 79.50L646.50 79.21L647.00 78.92L647.50 78.68L648.00 78.49L648.50 78.30" fill="none" stroke="#100600" stroke-width="0.75" stroke-linejoin="round"/><path d="M81.50 75.20L82.00 75.57L82.50 75.93L83.00 76.30L83.50 76.45L84.00 76.61L84.50 76.76L85.00 76.91L85.50 77.06L86.00 77.22L86.50 77.37L87.00 77.47L87.50 77.56L88.00 77.65L88.50 77.74L89.00 77.82L89.50 77.91L90.00 78.00L90.50 78.11L91.00 78.22L91.50 78.32L92.00 78.43L92.50 78.54L93.00 78.65L93.50 78.75L94.00 78.86L94.50 78.97L95.00 79.08L95.50 79.17L96.00 79.27L96.50 79.36L97.00 79.45L97.50 79.54L98.00 79.63L98.50 79.72L99.00 79.82L99.50 79.91L100.00 80.00L100.50 80.12L101.00 80.24L101.50 80.36L102.00 80.49L102.50 80.61L103.00 80.73L103.50 80.85L104.00 80.85L104.50 80.77L105.00 80.68L105.50 80.60L106.00 78.60L106.50 78.00L107.00 79.50L107.50 78.25L108.00 77.00L108.50 78.25L109.00 79.50L109.50 78.35L110.00 77.20L110.50 77.27L111.00 77.33L111.50 77.40L112.00 77.46L112.50 77.49L113.00 77.45L113.50 77.41L114.00 77.37L114.50 77.34L115.00 77.30L115.50 77.22L116.00 77.15L116.50 77.07L117.00 77.00L117.50 76.92L118.00 76.85L118.50 76.33L119.00 75.17L119.50 74.00L120.00 73.68L120.50 73.36L121.00 73.07L121.50 72.93L122.00 72.79L122.50 72.64L123.00 72.50L123.50 72.25L124.00 72.00L124.50 71.75L125.00 71.50L125.50 71.00L126.00 70.50L126.50 70.00L127.00 69.75L127.50 69.50L128.00 69.65L128.50 70.08L129.00 70.50L129.50 70.25L130.00 70.00L130.50 70.33L131.00 70.67L131.50 71.00L132.00 71.15L132.50 71.29L133.00 71.44L133.50 71.58L134.00 71.73L134.50 71.87L135.00 72.08L135.50 72.31L136.00 72.54L136.50 72.77L137.00 73.00L137.50 73.25L138.00 73.50L138.50 73.75L139.00 74.00L139.50 74.25L140.00 74.50L140.50 74.69L141.00 74.89L141.50 75.08L142.00 75.27L142.50 75.47L143.00 75.66L143.50 75.81L144.00 75.95L144.50 76.09L145.00 76.22L145.50 76.36L146.00 76.50L146.50 76.75L147.00 77.00L147.50 77.25L148.00 77.50L148.50 77.75L149.00 78.00L149.50 78.24L150.00 78.48L150.50 78.72L151.00 78.96L151.50 79.20L152.00 79.12L152.50 78.81L153.00 78.50L153.50 78.25L154.00 78.00L154.50 77.75L155.00 77.50L155.50 77.75L156.00 78.00L156.50 78.25L157.00 78.50L157.50 78.28L158.00 78.06L158.50 77.84L159.00 77.92L159.50 78.06L160.00 78.21L160.50 78.35L161.00 78.50L161.50 78.30L162.00 78.09L162.50 77.89L163.00 77.69L163.50 77.48L164.00 77.54L164.50 77.78L165.00 78.02L165.50 78.26L166.00 78.50L166.50 78.38L167.00 78.25L167.50 78.12L168.00 78.00L168.50 78.06L169.00 78.12L169.50 78.17L170.00 78.23L170.50 78.29L171.00 77.79L171.50 77.14L172.00 76.50L172.50 76.07L173.00 75.63L173.50 75.20L174.00 75.09L174.50 74.99L175.00 74.96L175.50 75.24L176.00 75.52L176.50 75.80L177.00 76.37L177.50 76.93L178.00 77.50L178.50 78.02L179.00 78.53L179.50 79.05L180.00 79.57L180.50 80.09L181.00 80.45L181.50 80.21L182.00 79.98L182.50 79.74L183.00 79.50L183.50 79.67L184.00 79.85L184.50 80.03L185.00 80.20L185.50 80.07L186.00 79.94L186.50 79.81L187.00 79.68L187.50 79.55L188.00 79.27L188.50 78.88L189.00 78.50L189.50 77.75L190.00 77.00L190.50 76.54L191.00 76.07L191.50 75.45L192.00 74.23L192.50 73.00L193.00 71.50L193.50 70.00L194.00 69.00L194.50 68.00L195.00 68.50L195.50 69.00L196.00 70.00L196.50 71.00L197.00 72.31L197.50 73.61L198.00 74.92L198.50 75.92L199.00 76.46L199.50 77.00L200.00 77.09L200.50 77.18L201.00 77.27L201.50 77.36L202.00 77.35L202.50 77.28L203.00 77.20L203.50 77.57L204.00 77.93L204.50 78.30L205.00 77.55L205.50 76.80L206.00 76.66L206.50 76.51L207.00 76.51L207.50 77.05L208.00 77.60L208.50 77.80L209.00 78.00L209.50 78.20L210.00 78.39L210.50 78.58L211.00 78.76L211.50 78.76L212.00 78.71L212.50 78.65L213.00 78.60L213.50 78.23L214.00 77.87L214.50 77.50L215.00 76.50L215.50 75.56L216.00 74.88L216.50 74.19L217.00 73.50L217.50 72.83L218.00 72.17L218.50 71.50L219.00 70.75L219.50 70.00L220.00 69.10L220.25 69.10M220.25 -75.30L220.50 -75.30L220.75 -75.30M220.75 69.20L221.00 69.20L221.50 69.70L222.00 70.24L222.50 70.67L223.00 70.83L223.50 71.00L224.00 70.67L224.50 70.33L225.00 70.00L225.50 69.60L226.00 69.20L226.50 68.80L227.00 68.36L227.50 68.09L228.00 68.55L228.50 69.00L229.00 70.25L229.50 71.50L230.00 72.07L230.50 72.64L231.00 72.92L231.50 72.03L232.00 71.35L232.50 70.98L233.00 71.50L233.50 72.25L234.00 73.00L234.50 73.83L235.00 74.67L235.50 75.50L236.00 76.07L236.50 76.64L237.00 77.03L237.50 76.69L238.00 76.34L238.50 76.00L239.00 75.50L239.50 75.00L240.00 74.50L240.50 74.17L241.00 73.83L241.50 73.50L242.00 73.36L242.50 73.21L243.00 73.13L243.50 73.30L244.00 73.47L244.50 73.63L245.00 73.80L245.50 73.88L246.00 73.97L246.50 74.05L247.00 74.13L247.50 74.22L248.00 74.30L248.50 74.39L249.00 74.48L249.50 74.56L250.00 74.65L250.50 74.74L251.00 74.83L251.50 74.88L252.00 74.75L252.50 74.62L253.00 74.50L253.50 74.00L254.00 73.50L254.50 73.00L255.00 72.83L255.50 72.67L256.00 72.50L256.50 72.33L257.00 72.25L257.50 72.19L258.00 72.12L258.50 72.06L259.00 72.00L259.50 71.83L260.00 71.65L260.50 71.47L261.00 71.30L261.50 71.32L262.00 71.34L262.50 71.36L263.00 71.38L263.50 71.34L264.00 71.01L264.50 70.69L265.00 70.08L265.50 69.01L266.00 68.51L266.50 68.64L267.00 69.50L267.50 71.69L268.00 73.47L268.50 74.66L269.00 74.50L269.50 74.00L270.00 73.50L270.50 72.75L271.00 72.00L271.50 71.70L272.00 71.40L272.50 71.95L273.00 72.50L273.50 73.50L274.00 74.50L274.50 74.73L275.00 74.97L275.50 75.20L276.00 75.64L276.50 76.07L277.00 76.51L277.50 76.64L278.00 76.69L278.50 76.75L279.00 76.80L279.50 77.00L280.00 77.20L280.50 77.40L281.00 77.60L281.50 77.72L282.00 77.83L282.50 77.95L283.00 78.07L283.50 78.18L284.00 78.30L284.50 78.22L285.00 78.15L285.50 78.08L286.00 78.00L286.50 77.88L287.00 77.75L287.50 77.62L288.00 77.50L288.50 77.28L289.00 77.05L289.50 76.82L290.00 76.60L290.50 76.90L291.00 77.20L291.50 77.50L292.00 78.00L292.50 78.50L293.00 79.00L293.50 79.38L294.00 79.77L294.50 80.02L295.00 80.08L295.50 80.13L296.00 80.19L296.50 80.24L297.00 80.30L297.50 80.17L298.00 80.05L298.50 79.92L299.00 79.80L299.50 79.85L300.00 79.90L300.50 79.94L301.00 79.99L301.50 79.97L302.00 79.94L302.50 79.90L303.00 79.87L303.50 79.83L304.00 79.80L304.50 79.72L305.00 79.65L305.50 79.58L306.00 79.50L306.50 79.61L307.00 79.72L307.50 79.83L308.00 79.93L308.50 80.09L309.00 80.33L309.50 80.56L310.00 80.80L310.50 80.97L311.00 81.15L311.50 81.32L312.00 81.49L312.50 81.67L313.00 81.58L313.50 81.44L314.00 81.29L314.50 81.15L315.00 81.00L315.50 80.83L316.00 80.65L316.50 80.47L317.00 80.30L317.50 80.25L318.00 80.21L318.50 80.16L319.00 80.12L319.50 80.07L320.00 80.03L320.50 80.07L321.00 80.25L321.50 80.42L322.00 80.60L322.50 80.76L323.00 80.92L323.50 81.09L324.00 81.25L324.50 81.41L325.00 81.57L325.50 81.68L326.00 81.61L326.50 81.53L327.00 81.45L327.50 81.38L328.00 81.30L328.50 81.22L329.00 81.13L329.50 81.05L330.00 80.97L330.50 80.88L331.00 80.80L331.50 80.76L332.00 80.72L332.50 80.68L333.00 80.64L333.50 80.60L334.00 80.46L334.50 80.33L335.00 80.19L335.50 80.05L336.00 79.65L336.50 79.08L337.00 78.50L337.50 77.93L338.00 77.37L338.50 76.80L339.00 76.43L339.50 76.07L340.00 75.70L340.50 75.40L341.00 75.10L341.50 74.80L342.00 74.50L342.50 74.20L343.00 73.90L343.50 73.60L344.00 73.44L344.50 73.29L345.00 73.13L345.50 73.16L346.00 73.24L346.50 73.32L347.00 73.40L347.50 73.10L348.00 72.80L348.50 72.50L349.00 72.53L349.50 72.57L350.00 72.60L350.50 72.39L351.00 72.19L351.50 71.98L352.00 72.15L352.50 72.58L353.00 73.00L353.50 72.87L354.00 72.73L354.50 72.60L355.00 72.80L355.50 73.00L356.00 73.20L356.50 73.43L357.00 73.65L357.50 73.44L358.00 73.12L358.50 72.80L359.00 73.37L359.50 73.93L360.00 74.50L360.50 74.76L361.00 75.02L361.50 75.28L362.00 75.54L362.50 75.58L363.00 75.29L363.50 75.00L364.00 74.44L364.25 74.44M364.25 65.00L364.50 65.00L364.75 65.00M364.75 55.86L365.00 55.86L365.50 55.68L366.00 55.50L366.50 55.40L367.00 55.30L367.25 55.30M367.25 74.00L367.50 74.00L368.00 74.00L368.50 74.00L368.75 74.00M368.75 54.83L369.00 54.83L369.50 55.33L370.00 56.00L370.50 56.83L371.00 57.67L371.50 58.50L372.00 59.42L372.50 60.34L373.00 61.26L373.50 62.05L374.00 62.30L374.25 62.30M374.25 76.50L374.50 76.50L374.75 76.50M374.75 62.80L375.00 62.80L375.50 62.92L376.00 63.05L376.50 63.17L377.00 63.30L377.50 63.33L378.00 63.36L378.50 63.39L379.00 63.27L379.50 63.12L380.00 62.96L380.50 62.80L381.00 62.60L381.50 62.40L382.00 62.20L382.50 62.23L383.00 62.26L383.50 62.29L384.00 62.69L384.50 63.35L385.00 64.00L385.50 64.75L386.00 65.50L386.50 66.23L387.00 66.95L387.50 67.93L388.00 68.96L388.50 70.00L389.00 71.17L389.50 72.33L390.00 73.50L390.50 74.89L391.00 76.29L391.50 78.26L392.00 80.96L392.50 77.82L393.00 76.91L393.50 76.00L394.00 75.23L394.50 74.47L395.00 73.70L395.50 74.28L396.00 74.85L396.50 74.92L397.00 74.22L397.50 73.58L398.00 73.03L398.50 73.00L399.00 73.75L399.50 74.50L400.00 75.10L400.50 75.70L401.00 76.30L401.50 75.40L402.00 74.50L402.50 73.90L403.00 73.30L403.50 73.88L404.00 74.45L404.50 74.93L405.00 75.25L405.50 75.57L406.00 75.88L406.50 76.19L407.00 76.50L407.50 77.19L408.00 77.88L408.50 78.45L409.00 78.81L409.50 78.97L410.00 78.31L410.50 77.66L411.00 77.00L411.50 76.50L412.00 76.00L412.50 75.50L413.00 75.00L413.50 74.50L414.00 74.50L414.50 74.83L415.00 74.50L415.50 74.00L416.00 73.50L416.50 72.79L417.00 72.08L417.50 71.65L418.00 71.40L418.50 71.77L418.75 71.77M418.75 78.30L419.00 78.30L419.50 78.30L420.00 78.30L420.25 78.30M420.25 73.60L420.50 73.60L421.00 73.77L421.50 73.93L422.00 74.12L422.50 74.31L423.00 74.50L423.50 74.60L424.00 74.69L424.50 74.79L425.00 74.88L425.50 74.50L426.00 74.00L426.50 71.71L427.00 70.71L427.50 70.55L428.00 70.40L428.50 70.55L429.00 70.70L429.50 70.85L430.00 71.00L430.50 71.10L431.00 71.20L431.50 71.30L432.00 71.40L432.25 71.40M432.25 76.00L432.50 76.00L433.00 76.00L433.25 76.00M433.25 70.60L433.50 70.60L434.00 70.49L434.50 70.39L435.00 70.28L435.50 70.26L436.00 70.58L436.50 70.89L437.00 71.20L437.50 71.49L438.00 71.78L438.50 72.07L439.00 72.33L439.50 73.50L440.00 73.50L440.50 73.50L441.00 73.50L441.50 73.50L442.00 73.50L442.50 73.50L443.00 73.50L443.50 73.56L444.00 73.72L444.50 73.87L445.00 74.12L445.50 74.71L446.00 75.30L446.50 75.92L447.00 76.55L447.50 76.96L448.00 77.24L448.50 77.36L449.00 77.27L449.50 77.18L450.00 77.09L450.50 76.99L451.00 76.90L451.50 76.92L452.00 76.94L452.50 76.96L453.00 76.98L453.50 77.00L454.00 76.92L454.50 76.84L455.00 76.76L455.50 76.68L456.00 76.60L456.50 76.90L457.00 77.20L457.50 77.50L458.00 77.80L458.50 78.10L459.00 78.40L459.50 78.57L460.00 78.73L460.50 78.90L461.00 79.07L461.50 78.99L462.00 78.86L462.50 78.73L463.00 78.60L463.50 78.48L464.00 78.36L464.50 78.24L465.00 78.12L465.50 78.00L466.00 77.88L466.50 77.76L467.00 77.64L467.50 77.52L468.00 77.40L468.50 77.18L469.00 76.95L469.50 76.72L470.00 76.50L470.50 76.42L471.00 76.35L471.50 76.28L472.00 76.20L472.50 76.08L473.00 75.95L473.50 75.83L474.00 75.70L474.50 75.30L475.00 74.90L475.50 74.50L476.00 74.14L476.50 73.77L477.00 73.96L477.50 74.28L478.00 74.60L478.50 74.80L479.00 75.00L479.50 75.20L480.00 75.40L480.50 75.49L481.00 75.58L481.50 75.66L482.00 75.73L482.50 75.77L483.00 75.81L483.50 75.86L484.00 75.90L484.50 75.85L485.00 75.80L485.50 75.75L486.00 75.70L486.50 75.65L487.00 75.60L487.50 75.62L488.00 75.63L488.50 75.65L489.00 75.66L489.50 75.68L490.00 75.69L490.50 75.74L491.00 75.83L491.50 75.92L492.00 76.01L492.50 76.11L493.00 76.20L493.50 76.40L494.00 76.60L494.50 76.80L495.00 77.00L495.50 77.02L496.00 77.05L496.50 77.07L497.00 77.10L497.50 76.93L498.00 76.72L498.50 76.51L499.00 76.30L499.50 76.26L500.00 76.22L500.50 76.17L501.00 76.13L501.50 76.14L502.00 76.36L502.50 76.57L503.00 76.79L503.50 77.00L504.00 77.02L504.50 77.05L505.00 77.07L505.50 77.09L506.00 77.06L506.50 77.00L507.00 76.93L507.50 76.87L508.00 76.80L508.50 76.73L509.00 76.67L509.50 76.60L510.00 76.53L510.50 76.47L511.00 76.40L511.50 76.35L512.00 76.31L512.50 76.26L513.00 76.22L513.50 76.17L514.00 76.13L514.50 76.09L515.00 76.05L515.50 76.01L516.00 75.97L516.50 75.94L517.00 75.90L517.50 75.82L518.00 75.74L518.50 75.66L519.00 75.58L519.50 75.50L520.00 75.38L520.50 75.26L521.00 75.14L521.50 75.02L522.00 74.90L522.50 75.10L523.00 75.30L523.50 75.50L524.00 75.87L524.50 76.23L525.00 76.60L525.50 76.76L526.00 76.91L526.50 77.07L527.00 76.97L527.50 76.82L528.00 76.66L528.50 76.50L529.00 76.67L529.50 76.83L530.00 77.00L530.50 76.88L531.00 76.76L531.50 76.65L532.00 77.04L532.50 77.77L533.00 78.50L533.50 79.08L534.00 79.65L534.50 79.99L535.00 79.95L535.50 79.91L536.00 79.87L536.50 79.84L537.00 79.80L537.50 79.72L538.00 79.63L538.50 79.55L539.00 79.47L539.50 79.38L540.00 79.30L540.50 79.27L541.00 79.25L541.50 79.22L542.00 79.19L542.50 79.16L543.00 79.14L543.50 79.11L544.00 79.14L544.50 79.20L545.00 79.26L545.50 79.32L546.00 79.38L546.50 79.44L547.00 79.50L547.50 79.42L548.00 79.33L548.50 79.25L549.00 79.17L549.50 79.08L550.00 79.00L550.50 78.97L551.00 78.95L551.50 78.92L552.00 78.90L552.50 78.88L553.00 78.85L553.50 78.83L554.00 78.80L554.50 78.86L555.00 78.92L555.50 78.99L556.00 79.05L556.50 79.11L557.00 79.17L557.50 79.24L558.00 79.30L558.50 79.24L559.00 79.17L559.50 79.11L560.00 79.05L560.50 78.99L561.00 78.92L561.50 78.86L562.00 78.80L562.50 78.80L563.00 78.80L563.50 78.80L564.00 78.80L564.50 78.80L565.00 78.80L565.50 78.80L566.00 78.80L566.50 78.86L567.00 78.92L567.50 78.99L568.00 79.05L568.50 79.11L569.00 79.17L569.50 79.24L570.00 79.30L570.50 79.31L571.00 79.33L571.50 79.34L572.00 79.35L572.50 79.36L573.00 79.38L573.50 79.39L574.00 79.40L574.50 79.42L575.00 79.44L575.50 79.47L576.00 79.49L576.50 79.50L577.00 79.50L577.50 79.50L578.00 79.50L578.50 79.50L579.00 79.50L579.50 79.30L580.00 79.10L580.50 78.90L581.00 78.70L581.50 78.50L582.00 77.96L582.50 77.42L583.00 77.48L583.50 78.43L584.00 79.16L584.50 79.55L585.00 79.95L585.50 80.34L586.00 80.38L586.50 80.19L587.00 80.00L587.50 79.33L588.00 78.67L588.50 78.00L589.00 77.60L589.50 77.20L590.00 76.80L590.50 76.69L591.00 76.66L591.50 76.98L592.00 77.29L592.50 77.60L593.00 77.45L593.50 77.30L594.00 77.15L594.50 77.00L595.00 77.02L595.50 77.04L596.00 77.06L596.50 77.08L597.00 77.06L597.50 76.87L598.00 76.69L598.50 76.50L599.00 76.10L599.50 75.70L600.00 75.30L600.50 75.12L601.00 74.94L601.50 75.48L602.00 76.21L602.50 76.86L603.00 77.46L603.50 78.06L604.00 78.00L604.50 77.50L605.00 77.00L605.50 76.65L606.00 76.31L606.50 76.21L607.00 76.47L607.50 76.74L608.00 77.00L608.50 77.20L609.00 77.40L609.50 77.60L610.00 77.80L610.50 78.02L611.00 78.23L611.50 78.45L612.00 78.67L612.50 78.89L613.00 79.11L613.50 79.33L614.00 79.56L614.50 79.78L615.00 80.00L615.50 80.19L616.00 80.38L616.50 80.56L617.00 80.75L617.50 80.90L618.00 80.92L618.50 80.93L619.00 80.94L619.50 80.96L620.00 80.97L620.50 80.99L621.00 81.00L621.50 80.97L622.00 80.95L622.50 80.92L623.00 80.90L623.50 80.88L624.00 80.85L624.50 80.83L625.00 80.80L625.50 80.81L626.00 80.82L626.50 80.83L627.00 80.85L627.50 80.86L628.00 80.87L628.50 80.88L629.00 80.89L629.50 80.50L630.00 78.50L630.50 76.92L631.00 78.26L631.50 79.99L632.00 81.20L632.50 81.17L633.00 81.13L633.50 81.10L634.00 81.07L634.50 81.03L635.00 81.00L635.50 81.04L636.00 81.08L636.50 81.12L637.00 81.17L637.50 80.96L638.00 79.73L638.50 78.60L639.00 77.60L639.50 77.71L640.00 78.11L640.50 78.50L641.00 79.12L641.50 79.75L642.00 79.43L642.50 78.49L643.00 77.70L643.50 77.21L644.00 77.75L644.50 78.30L645.00 78.70L645.50 79.10L646.00 79.50L646.50 79.21L647.00 78.92L647.50 78.68L648.00 78.49L648.50 78.30" fill="none" stroke="#100600" stroke-width="1.0" stroke-linejoin="round" stroke-linecap="butt"/>
<path d="M81.50 334.70L81.50 334.70L82.00 335.50L82.50 336.30L82.75 336.30L82.75 351.95L83.00 351.95L83.50 352.22L84.00 352.49L84.25 352.49L84.25 338.68L84.50 338.68L84.75 338.68L84.75 352.96L85.00 352.96L85.50 353.15L86.00 353.35L86.50 353.55L87.00 353.69L87.50 353.82L88.00 353.99L88.25 353.99L88.25 341.67L88.50 341.67L89.00 341.84L89.50 342.01L90.00 342.18L90.50 342.36L91.00 342.55L91.25 342.55L91.25 356.25L91.50 356.25L92.00 356.59L92.50 356.81L93.00 357.01L93.50 357.22L93.75 357.22L93.75 343.56L94.00 343.56L94.50 343.71L95.00 343.87L95.50 343.97L96.00 344.07L96.50 344.16L97.00 344.25L97.50 344.34L98.00 344.43L98.50 344.52L99.00 344.62L99.50 344.71L100.00 344.80L100.50 344.95L101.00 345.10L101.50 345.25L102.00 345.40L102.50 345.55L103.00 345.70L103.50 345.85L104.00 345.87L104.50 345.82L105.00 345.76L105.50 345.73L106.00 343.91L106.50 343.48L107.00 345.15L107.50 344.08L108.00 343.00L108.50 344.33L109.00 345.66L109.50 344.59L109.75 344.59L109.75 360.00L110.00 360.00L110.50 360.15L111.00 360.31L111.25 360.31L111.25 343.97L111.50 343.97L112.00 344.11L112.50 344.22L112.75 344.22L112.75 360.77L113.00 360.77L113.50 360.82L114.00 360.87L114.50 360.74L115.00 360.60L115.50 360.42L116.00 360.25L116.50 359.74L117.00 359.23L117.50 358.72L118.00 358.49L118.50 357.82L119.00 356.50L119.50 355.05L120.00 354.41L120.50 353.77L121.00 353.17L121.50 352.76L122.00 352.35L122.50 351.94L123.00 351.53L123.50 351.02L124.00 350.50L124.50 349.88L125.00 349.25L125.50 348.38L126.00 347.50L126.50 346.76L127.00 346.28L127.50 345.79L128.00 345.74L128.50 345.96L129.00 346.19L129.50 345.75L130.00 345.30L130.50 345.33L131.00 345.37L131.50 345.40L132.00 345.25L132.50 345.09L133.00 344.93L133.50 344.76L134.00 344.60L134.50 344.43L135.00 345.01L135.50 345.78L136.00 346.54L136.50 347.22L137.00 347.90L137.50 348.60L138.00 349.30L138.50 349.77L139.00 350.25L139.50 350.73L140.00 351.20L140.50 351.68L141.00 352.16L141.50 352.61L142.00 352.96L142.50 353.31L143.00 353.65L143.50 353.96L144.00 354.25L144.50 354.50L145.00 354.76L145.50 355.01L146.00 355.27L146.50 355.63L147.00 356.00L147.50 356.35L148.00 356.70L148.50 357.05L149.00 357.40L149.50 357.74L150.00 358.08L150.25 358.08L150.25 343.72L150.50 343.72L151.00 343.96L151.25 343.96L151.25 359.05L151.50 359.05L152.00 359.05L152.50 358.82L153.00 358.60L153.50 358.47L154.00 358.33L154.50 358.20L155.00 358.07L155.50 358.43L156.00 358.80L156.50 359.15L157.00 359.49L157.50 359.37L158.00 359.25L158.50 359.12L158.75 359.12L158.75 342.92L159.00 342.92L159.50 343.06L160.00 343.21L160.25 343.21L160.25 359.42L160.50 359.42L161.00 359.50L161.50 359.00L162.00 358.49L162.50 357.99L163.00 357.49L163.50 357.11L164.00 356.99L164.50 357.06L165.00 357.12L165.50 357.27L166.00 357.41L166.50 357.19L167.00 356.97L167.50 356.87L168.00 356.79L168.50 356.90L169.00 357.01L169.50 357.12L170.00 357.23L170.50 357.16L171.00 356.53L171.50 355.76L172.00 354.98L172.50 354.42L173.00 353.86L173.50 353.41L173.75 353.41L173.75 335.79L174.00 335.79L174.50 335.84L175.00 335.96L175.25 335.96L175.25 353.52L175.50 353.52L176.00 353.82L176.50 354.19L177.00 354.84L177.50 355.50L177.75 355.50L177.75 339.80L178.00 339.80L178.50 340.49L179.00 341.18L179.50 341.87L180.00 342.56L180.50 343.25L181.00 343.75L181.50 343.48L182.00 343.21L182.50 342.93L182.75 342.93L182.75 358.35L183.00 358.35L183.50 358.50L184.00 358.65L184.50 358.76L185.00 358.88L185.25 358.88L185.25 343.25L185.50 343.25L186.00 343.15L186.50 343.05L187.00 342.94L187.50 342.84L188.00 342.45L188.50 341.88L189.00 341.30L189.50 340.22L190.00 339.13L190.50 338.34L191.00 337.30L191.50 336.12L192.00 334.33L192.50 332.60L193.00 330.60L193.50 329.29L194.00 328.64L194.50 328.00L195.00 329.10L195.50 330.20L196.00 331.80L196.50 333.16L197.00 334.82L197.50 336.42L198.00 337.79L198.25 337.79L198.25 353.82L198.50 353.82L199.00 354.36L199.50 354.90L200.00 354.99L200.50 355.07L201.00 355.15L201.25 355.15L201.25 339.76L201.50 339.76L202.00 339.45L202.50 339.08L203.00 338.89L203.50 339.14L204.00 339.40L204.50 339.81L205.00 339.32L205.50 338.84L206.00 338.96L206.50 339.01L207.00 339.19L207.50 339.93L208.00 340.67L208.50 341.06L209.00 341.21L209.50 341.31L210.00 341.39L210.50 341.28L211.00 341.16L211.50 340.86L212.00 340.51L212.50 340.20L213.00 339.90L213.50 339.28L214.00 338.67L214.50 338.09L215.00 336.87L215.50 335.74L216.00 334.93L216.50 334.11L217.00 333.30L217.50 332.51L218.00 331.72L218.50 330.93L219.00 330.05L219.50 329.21L220.00 328.21L220.25 328.21L220.25 183.72L220.50 183.72L220.75 183.72L220.75 328.34L221.00 328.34L221.50 329.02L222.00 329.74L222.50 330.42L223.00 330.83L223.50 331.25L224.00 331.17L224.50 331.08L225.00 331.00L225.50 330.85L226.00 330.70L226.50 330.50L227.00 330.25L227.50 330.18L228.00 330.83L228.50 331.33L229.00 332.42L229.50 333.50L230.00 332.38L230.50 331.27L231.00 329.87L231.50 327.97L232.00 328.98L232.50 330.05L233.00 331.87L233.50 333.62L234.00 334.25L234.50 334.96L235.00 335.67L235.50 336.33L236.00 336.72L236.50 337.12L237.00 337.33L237.50 336.90L238.00 336.48L238.50 336.05L239.00 335.47L239.50 334.91L240.00 334.45L240.50 334.15L241.00 333.86L241.50 333.56L242.00 333.46L242.50 333.41L243.00 333.43L243.50 333.70L244.00 333.97L244.50 334.23L245.00 334.50L245.50 334.65L246.00 334.80L246.50 334.95L247.00 335.10L247.50 335.25L248.00 335.40L248.50 335.34L249.00 335.28L249.50 335.21L250.00 335.15L250.50 335.05L251.00 334.94L251.50 334.79L252.00 334.48L252.50 334.16L253.00 333.84L253.50 333.51L254.00 333.27L254.50 333.04L255.00 333.13L255.50 333.24L256.00 333.34L256.50 333.45L257.00 333.63L257.50 333.74L258.00 333.43L258.50 333.11L259.00 332.80L259.50 332.25L260.00 331.70L260.50 331.15L261.00 330.60L261.50 330.28L262.00 329.95L262.50 329.63L263.00 329.73L263.50 329.86L264.00 329.71L264.50 329.67L265.00 329.33L265.50 328.54L266.00 328.31L266.50 328.62L267.00 329.65L267.50 332.01L268.00 333.97L268.50 335.33L269.00 335.30L269.50 334.93L270.00 334.55L270.50 333.93L271.00 333.30L271.50 333.12L272.00 332.95L272.50 333.62L273.00 334.30L273.50 335.36L274.00 336.43L274.50 336.72L275.00 337.02L275.50 337.27L276.00 337.57L276.50 337.86L277.00 338.16L277.50 338.14L278.00 337.99L278.50 337.85L279.00 337.70L279.50 337.70L280.00 337.77L280.50 337.84L281.00 337.91L281.50 338.00L282.00 338.52L282.50 339.05L283.00 339.50L283.50 339.95L284.00 340.40L284.25 340.40L284.25 360.43L284.50 360.43L285.00 360.37L285.50 360.31L286.00 360.25L286.50 360.13L287.00 360.02L287.50 359.91L287.75 359.91L287.75 339.27L288.00 339.27L288.50 338.98L289.00 338.68L289.25 338.68L289.25 359.20L289.50 359.20L290.00 359.00L290.50 359.32L291.00 359.64L291.50 359.97L292.00 360.49L292.25 360.49L292.25 339.77L292.50 339.77L293.00 340.22L293.50 340.56L294.00 340.90L294.50 341.15L295.00 341.29L295.50 341.43L296.00 341.56L296.50 341.70L297.00 341.84L297.50 341.79L298.00 341.75L298.50 341.66L299.00 341.58L299.50 341.66L300.00 341.75L300.50 341.83L301.00 341.92L301.50 341.93L302.00 341.94L302.50 341.95L303.00 341.96L303.50 341.96L304.00 341.97L304.50 341.94L305.00 341.91L305.50 341.88L306.00 341.85L306.25 341.85L306.25 361.73L306.50 361.73L307.00 361.82L307.50 361.92L308.00 362.01L308.25 362.01L308.25 342.33L308.50 342.33L309.00 342.52L309.50 342.71L309.75 342.71L309.75 362.84L310.00 362.84L310.50 363.00L311.00 363.17L311.50 363.33L312.00 363.49L312.50 363.67L313.00 363.58L313.50 363.44L314.00 363.29L314.25 363.29L314.25 342.71L314.50 342.71L315.00 342.50L315.50 342.31L316.00 342.13L316.50 341.94L317.00 341.76L317.50 341.70L318.00 341.65L318.25 341.65L318.25 362.16L318.50 362.16L319.00 362.12L319.50 362.07L320.00 362.03L320.50 362.07L321.00 362.25L321.50 362.42L322.00 362.60L322.25 362.60L322.25 342.11L322.50 342.11L323.00 342.26L323.50 342.42L324.00 342.57L324.25 342.57L324.25 363.41L324.50 363.41L325.00 363.57L325.50 363.68L326.00 363.61L326.50 363.53L327.00 363.45L327.50 363.38L328.00 363.30L328.25 363.30L328.25 342.66L328.50 342.66L329.00 342.59L329.50 342.53L329.75 342.53L329.75 362.97L330.00 362.97L330.50 362.87L331.00 362.78L331.50 362.73L331.75 362.73L331.75 342.30L332.00 342.30L332.50 342.28L332.75 342.28L332.75 362.58L333.00 362.58L333.50 362.53L334.00 362.38L334.50 362.24L334.75 362.24L334.75 341.89L335.00 341.89L335.50 341.77L336.00 341.39L336.25 341.39L336.25 360.30L336.50 360.30L337.00 359.50L337.25 359.50L337.25 353.50L337.50 353.50L337.75 353.50L337.75 339.17L338.00 339.17L338.25 339.17L338.25 345.17L338.50 345.17L339.00 346.73L339.50 348.02L340.00 349.30L340.50 349.18L341.00 349.05L341.50 348.93L342.00 348.80L342.50 348.52L343.00 348.24L343.50 347.97L344.00 347.83L344.50 347.58L345.00 347.16L345.50 346.93L346.00 346.74L346.50 346.47L347.00 346.20L347.50 345.55L348.00 344.90L348.50 344.21L349.00 343.85L349.50 343.32L350.00 342.13L350.50 340.69L351.00 337.99L351.50 335.25L352.00 332.85L352.25 332.85L352.25 328.65L352.50 328.65L352.75 328.65L352.75 324.52L353.00 324.52L353.25 324.52L353.25 319.94L353.50 319.94L353.75 319.94L353.75 316.80L354.00 316.80L354.50 314.60L355.00 314.24L355.50 314.25L356.00 315.70L356.50 315.60L357.00 314.45L357.50 315.19L358.00 315.82L358.50 317.30L359.00 319.67L359.50 322.11L360.00 324.52L360.50 326.60L361.00 328.11L361.50 329.48L362.00 330.84L362.50 331.78L363.00 332.39L363.50 333.00L364.00 333.12L364.25 333.12L364.25 324.36L364.50 324.36L364.75 324.36L364.75 315.90L365.00 315.90L365.50 316.41L366.00 316.92L366.50 317.51L367.00 318.10L367.50 318.52L368.00 318.92L368.50 319.32L369.00 319.72L369.50 320.33L370.00 321.00L370.50 321.83L371.00 322.67L371.50 324.04L372.00 325.50L372.50 326.54L373.00 327.30L373.50 328.01L374.00 328.54L374.50 329.07L375.00 329.60L375.50 329.98L376.00 330.35L376.50 330.73L377.00 331.10L377.50 331.32L378.00 331.54L378.50 331.76L379.00 331.97L379.50 332.18L380.00 332.39L380.50 332.60L381.00 332.80L381.50 333.00L382.00 333.20L382.50 333.49L383.00 333.79L383.50 334.08L384.00 334.53L384.50 335.07L385.00 335.61L385.50 336.25L386.00 337.27L386.50 338.26L387.00 339.25L387.50 340.25L388.00 341.32L388.50 342.38L389.00 343.62L389.50 345.06L390.00 346.50L390.50 348.11L391.00 349.71L391.50 351.94L391.75 351.94L391.75 347.46L392.00 347.46L392.25 347.46L392.25 352.24L392.50 352.24L393.00 351.71L393.50 351.10L394.00 350.63L394.50 350.17L395.00 349.70L395.50 350.49L396.00 351.27L396.50 351.55L397.00 351.05L397.50 350.60L398.00 350.15L398.50 350.21L399.00 351.06L399.50 351.90L400.00 352.60L400.50 353.28L401.00 353.95L401.50 353.13L402.00 352.31L402.50 351.78L403.00 351.60L403.50 352.68L404.00 353.75L404.50 354.73L405.00 355.45L405.50 356.17L406.00 356.88L406.50 357.03L407.00 357.17L407.50 357.69L408.00 358.26L408.25 358.26L408.25 341.37L408.50 341.37L408.75 341.37L408.75 358.93L409.00 358.93L409.50 358.97L410.00 358.44L410.50 357.91L411.00 357.38L411.50 357.05L412.00 356.73L412.50 356.42L413.00 356.10L413.50 355.73L414.00 355.86L414.50 356.33L415.00 356.08L415.50 355.49L416.00 354.89L416.50 354.09L417.00 353.13L417.50 352.45L418.00 351.95L418.50 352.21L419.00 352.72L419.25 352.72L419.25 339.96L419.50 339.96L419.75 339.96L419.75 353.84L420.00 353.84L420.50 354.40L421.00 354.57L421.50 354.73L422.00 354.92L422.50 355.11L423.00 355.30L423.50 355.23L424.00 355.16L424.50 355.09L424.75 355.09L424.75 344.18L425.00 344.18L425.50 343.91L425.75 343.91L425.75 353.80L426.00 353.80L426.50 351.21L427.00 349.89L427.50 349.43L428.00 348.97L428.50 348.81L429.00 348.87L429.50 348.98L430.00 349.08L430.50 349.14L431.00 349.20L431.50 349.18L432.00 349.17L432.50 348.78L432.75 348.78L432.75 341.67L433.00 341.67L433.25 341.67L433.25 348.02L433.50 348.02L434.00 347.79L434.50 347.62L435.00 347.45L435.50 347.37L436.00 347.61L436.50 347.84L437.00 348.02L437.50 348.18L438.00 348.34L438.50 348.50L439.00 348.63L439.50 348.57L439.75 348.57L439.75 343.47L440.00 343.47L440.50 343.53L441.00 343.60L441.50 343.60L441.75 343.60L441.75 348.14L442.00 348.14L442.50 348.07L443.00 348.09L443.50 348.17L444.00 348.25L444.50 348.34L445.00 348.61L445.50 349.63L446.00 350.66L446.50 351.73L447.00 352.68L447.25 352.68L447.25 346.26L447.50 346.26L447.75 346.26L447.75 354.02L448.00 354.02L448.50 354.47L449.00 354.70L449.50 354.79L450.00 354.83L450.50 354.88L450.75 354.88L450.75 345.90L451.00 345.90L451.25 345.90L451.25 355.08L451.50 355.08L452.00 355.24L452.50 355.35L453.00 355.45L453.50 355.56L454.00 355.57L454.50 355.66L455.00 355.87L455.50 356.09L456.00 356.30L456.50 356.90L457.00 357.51L457.50 358.12L458.00 358.73L458.50 359.34L459.00 359.65L459.50 359.75L460.00 359.86L460.50 359.96L461.00 360.07L461.50 359.84L462.00 359.56L462.50 359.27L463.00 358.99L463.50 358.72L464.00 358.44L464.50 358.17L465.00 358.17L465.50 358.24L466.00 358.31L466.50 358.37L467.00 358.44L467.50 358.45L468.00 358.46L468.50 358.37L469.00 358.19L469.50 357.65L469.75 357.65L469.75 344.10L470.00 344.10L470.25 344.10L470.25 356.73L470.50 356.73L471.00 356.35L471.50 355.93L472.00 355.50L472.50 355.03L473.00 354.55L473.50 354.32L474.00 354.09L474.50 353.58L475.00 353.12L475.50 352.82L476.00 352.55L476.50 352.28L477.00 352.56L477.50 352.98L478.00 353.40L478.50 353.71L479.00 354.02L479.50 354.32L480.00 354.63L480.50 354.83L481.00 355.03L481.50 355.22L482.00 355.39L482.50 355.54L483.00 355.69L483.50 355.84L484.00 355.99L484.50 356.04L485.00 356.10L485.50 356.13L486.00 356.17L486.50 356.20L487.00 356.23L487.50 356.33L488.00 356.43L488.50 356.55L489.00 356.68L489.50 356.80L490.00 356.93L490.50 357.05L491.00 357.18L491.50 357.31L492.00 357.44L492.50 357.57L493.00 357.70L493.50 358.00L494.00 358.30L494.50 358.60L495.00 358.90L495.50 359.02L496.00 359.15L496.50 359.24L497.00 359.33L497.50 359.24L498.00 359.10L498.50 358.96L499.00 358.78L499.50 358.64L500.00 358.51L500.50 358.37L501.00 358.23L501.50 357.96L502.00 357.89L502.50 357.82L503.00 357.75L503.50 357.68L504.00 357.42L504.50 357.23L505.00 357.03L505.50 356.83L506.00 356.58L506.50 356.30L507.00 355.88L507.50 355.47L508.00 355.06L508.50 354.65L509.00 354.24L509.50 353.95L510.00 353.70L510.50 353.45L511.00 353.20L511.50 353.03L511.75 353.03L511.75 340.08L512.00 340.08L512.50 339.95L513.00 339.82L513.50 340.01L513.75 340.01L513.75 352.38L514.00 352.38L514.50 352.31L515.00 352.25L515.50 352.22L515.75 352.22L515.75 340.97L516.00 340.97L516.50 341.94L517.00 342.90L517.50 343.82L518.00 343.98L518.50 343.63L519.00 343.28L519.50 342.60L520.00 341.88L520.50 341.39L521.00 340.90L521.50 340.41L522.00 340.23L522.50 341.60L523.00 342.97L523.50 344.33L524.00 345.47L524.50 346.33L525.00 347.20L525.50 347.86L526.00 348.51L526.50 349.17L527.00 348.77L527.25 348.77L527.25 337.72L527.50 337.72L528.00 337.56L528.50 337.40L528.75 337.40L528.75 346.83L529.00 346.83L529.50 346.30L530.00 345.78L530.50 344.97L531.00 344.16L531.25 344.16L531.25 336.57L531.50 336.57L532.00 337.01L532.50 337.78L533.00 338.56L533.50 339.21L534.00 339.96L534.50 340.47L534.75 340.47L534.75 350.66L535.00 350.66L535.50 352.21L536.00 353.52L536.50 354.84L537.00 355.61L537.50 356.33L538.00 356.93L538.25 356.93L538.25 341.90L538.50 341.90L539.00 341.94L539.50 341.94L539.75 341.94L539.75 358.12L540.00 358.12L540.50 358.36L541.00 358.59L541.50 358.55L542.00 358.44L542.25 358.44L542.25 342.24L542.50 342.24L543.00 342.29L543.50 342.35L543.75 342.35L543.75 358.04L544.00 358.04L544.50 358.00L545.00 357.96L545.50 357.92L546.00 357.68L546.50 357.44L546.75 357.44L546.75 343.28L547.00 343.28L547.50 343.12L548.00 342.92L548.25 342.92L548.25 356.53L548.50 356.53L549.00 356.31L549.50 356.09L550.00 355.87L550.50 355.70L551.00 355.80L551.50 355.97L552.00 356.14L552.50 356.30L552.75 356.30L552.75 341.03L553.00 341.03L553.50 340.85L554.00 340.68L554.50 340.58L555.00 340.52L555.50 340.55L555.75 340.55L555.75 358.01L556.00 358.01L556.50 358.32L557.00 358.66L557.50 359.03L557.75 359.03L557.75 340.72L558.00 340.72L558.50 340.63L559.00 340.53L559.25 340.53L559.25 359.94L559.50 359.94L560.00 360.12L560.50 360.30L561.00 360.48L561.50 360.67L562.00 360.56L562.50 360.32L563.00 360.08L563.50 359.84L563.75 359.84L563.75 339.97L564.00 339.97L564.50 339.95L565.00 339.93L565.50 339.92L566.00 339.90L566.50 339.96L566.75 339.96L566.75 358.75L567.00 358.75L567.50 358.65L568.00 358.81L568.50 359.13L568.75 359.13L568.75 340.27L569.00 340.27L569.50 340.34L570.00 340.40L570.50 340.41L571.00 340.43L571.25 340.43L571.25 360.86L571.50 360.86L572.00 361.12L572.50 361.37L573.00 361.58L573.50 361.61L573.75 361.61L573.75 340.50L574.00 340.50L574.50 340.52L575.00 340.54L575.50 340.57L576.00 340.59L576.25 340.59L576.25 361.83L576.50 361.83L577.00 361.87L577.50 361.90L578.00 361.94L578.50 361.97L579.00 362.00L579.50 361.80L580.00 361.60L580.50 361.40L581.00 361.20L581.25 361.20L581.25 338.39L581.50 338.39L582.00 337.78L582.50 337.17L583.00 337.16L583.50 338.04L584.00 338.70L584.50 339.02L585.00 339.35L585.50 339.68L586.00 339.66L586.50 339.41L587.00 339.16L587.50 338.43L588.00 337.70L588.50 337.03L589.00 336.69L589.50 336.36L590.00 336.03L590.50 335.99L591.00 336.03L591.50 336.41L592.00 336.79L592.25 336.79L592.25 357.30L592.50 357.30L593.00 357.21L593.50 357.12L594.00 357.03L594.25 357.03L594.25 336.82L594.50 336.82L595.00 336.91L595.50 336.86L595.75 336.86L595.75 357.17L596.00 357.17L596.50 357.25L597.00 357.28L597.25 357.28L597.25 336.28L597.50 336.28L598.00 335.99L598.50 335.70L598.75 335.70L598.75 356.63L599.00 356.63L599.50 356.39L600.00 356.15L600.25 356.15L600.25 333.93L600.50 333.93L600.75 333.93L600.75 356.11L601.00 356.11L601.50 356.82L602.00 357.71L602.50 358.51L602.75 358.51L602.75 335.79L603.00 335.79L603.50 336.30L604.00 336.72L604.25 336.72L604.25 359.74L604.50 359.74L605.00 359.38L605.50 359.15L606.00 358.78L606.50 358.66L606.75 358.66L606.75 340.49L607.00 340.49L607.50 340.54L608.00 340.30L608.50 340.00L609.00 339.91L609.50 339.83L610.00 339.74L610.50 339.67L611.00 339.95L611.50 340.31L612.00 340.68L612.50 341.04L613.00 341.41L613.50 341.91L614.00 342.42L614.50 342.92L615.00 343.42L615.50 343.89L616.00 344.29L616.50 344.68L617.00 345.08L617.50 345.37L618.00 345.22L618.50 345.06L619.00 344.91L619.50 344.76L620.00 344.66L620.50 344.56L621.00 344.46L621.50 344.32L622.00 344.41L622.50 344.64L623.00 344.88L623.50 345.11L624.00 345.35L624.50 345.58L625.00 345.80L625.50 346.06L626.00 346.32L626.50 346.58L627.00 346.85L627.50 347.00L628.00 347.16L628.50 347.32L629.00 347.47L629.50 347.20L630.00 345.22L630.50 343.65L631.00 345.00L631.50 346.74L632.00 347.97L632.50 347.95L633.00 347.93L633.50 347.88L634.00 347.84L634.50 347.79L635.00 347.74L635.50 347.77L636.00 347.79L636.50 347.73L637.00 347.54L637.50 347.09L637.75 347.09L637.75 361.89L638.00 361.89L638.50 360.80L639.00 359.87L639.50 360.06L640.00 360.52L640.50 360.99L641.00 361.68L641.25 361.68L641.25 346.25L641.50 346.25L642.00 345.93L642.50 344.99L642.75 344.99L642.75 360.47L643.00 360.47L643.50 360.01L644.00 360.59L644.50 361.17L644.75 361.17L644.75 344.90L645.00 344.90L645.25 344.90L645.25 362.01L645.50 362.01L646.00 362.43L646.50 362.15L647.00 361.87L647.50 361.66L648.00 361.48L648.50 361.30L648.50 361.30L648.50 364.43L648.50 364.43L648.00 364.53L647.50 364.64L647.00 364.76L646.50 364.91L646.00 365.07L645.50 364.87L645.25 364.87L645.25 373.03L645.00 373.03L644.75 373.03L644.75 364.50L644.50 364.50L644.00 364.24L643.50 363.98L643.00 364.25L642.75 364.25L642.75 372.77L642.50 372.77L642.00 373.25L641.50 373.40L641.25 373.40L641.25 365.06L641.00 365.06L640.50 364.79L640.00 364.63L639.50 364.47L639.00 364.44L638.50 364.98L638.00 365.57L637.75 365.57L637.75 374.19L637.50 374.19L637.00 374.18L636.50 374.04L636.00 373.97L635.50 373.94L635.00 373.91L634.50 373.92L634.00 373.93L633.50 373.94L633.00 373.95L632.50 373.97L632.00 373.99L631.50 373.39L631.00 372.54L630.50 371.87L630.00 372.67L629.50 373.68L629.00 373.93L628.50 374.00L628.00 374.07L627.50 374.14L627.00 374.20L626.50 374.32L626.00 374.44L625.50 374.56L625.00 374.68L624.50 374.82L624.00 374.95L623.50 375.10L623.00 375.24L622.50 375.38L622.00 375.53L621.50 375.59L621.00 375.55L620.50 375.49L620.00 375.42L619.50 375.36L619.00 375.27L618.50 375.18L618.00 375.09L617.50 375.00L617.00 374.99L616.50 375.00L616.00 375.01L615.50 375.02L615.00 375.07L614.50 375.10L614.00 375.13L613.50 375.16L613.00 375.19L612.50 375.15L612.00 375.11L611.50 375.07L611.00 375.04L610.50 374.96L610.00 374.71L609.50 374.47L609.00 374.22L608.50 373.98L608.00 373.63L607.50 373.25L607.00 373.01L606.75 373.01L606.75 363.66L606.50 363.66L606.00 363.70L605.50 363.86L605.00 364.09L604.50 364.41L604.25 364.41L604.25 376.42L604.00 376.42L603.50 376.69L603.00 376.34L602.75 376.34L602.75 364.39L602.50 364.39L602.00 364.13L601.50 363.85L601.00 363.66L600.75 363.66L600.75 374.93L600.50 374.93L600.25 374.93L600.25 364.00L600.00 364.00L599.50 364.28L599.00 364.57L598.75 364.57L598.75 375.43L598.50 375.43L598.00 375.47L597.50 375.51L597.25 375.51L597.25 365.20L597.00 365.20L596.50 365.24L596.00 365.26L595.75 365.26L595.75 375.39L595.50 375.39L595.00 375.35L594.50 375.37L594.25 375.37L594.25 365.42L594.00 365.42L593.50 365.52L593.00 365.63L592.50 365.73L592.25 365.73L592.25 375.67L592.00 375.67L591.50 375.55L591.00 375.43L590.50 375.48L590.00 375.57L589.50 375.80L589.00 376.03L588.50 376.27L588.00 376.60L587.50 376.90L587.00 377.20L586.50 377.27L586.00 377.33L585.50 377.28L585.00 377.05L584.50 376.82L584.00 376.59L583.50 376.19L583.00 375.68L582.50 375.62L582.00 375.85L581.50 376.09L581.25 376.09L581.25 364.88L581.00 364.88L580.50 364.98L580.00 365.08L579.50 365.18L579.00 365.28L578.50 365.29L578.00 365.31L577.50 365.33L577.00 365.35L576.50 365.36L576.25 365.36L576.25 375.97L576.00 375.97L575.50 375.96L575.00 375.95L574.50 375.94L574.00 375.93L573.75 375.93L573.75 365.36L573.50 365.36L573.00 365.37L572.50 365.46L572.00 365.57L571.50 365.69L571.25 365.69L571.25 375.89L571.00 375.89L570.50 375.89L570.00 375.88L569.50 375.85L569.00 375.82L568.75 375.82L568.75 366.33L568.50 366.33L568.00 366.43L567.50 366.44L567.00 366.33L566.75 366.33L566.75 375.66L566.50 375.66L566.00 375.63L565.50 375.62L565.00 375.61L564.50 375.61L564.00 375.60L563.75 375.60L563.75 365.66L563.50 365.66L563.00 365.54L562.50 365.42L562.00 365.30L561.50 365.31L561.00 365.46L560.50 365.62L560.00 365.77L559.50 365.92L559.25 365.92L559.25 375.69L559.00 375.69L558.50 375.70L558.00 375.72L557.75 375.72L557.75 366.50L557.50 366.50L557.00 366.63L556.50 366.73L556.00 366.82L555.75 366.82L555.75 375.49L555.50 375.49L555.00 375.45L554.50 375.35L554.00 375.24L553.50 375.18L553.00 375.11L552.75 375.11L552.75 367.50L552.50 367.50L552.00 367.61L551.50 367.72L551.00 367.83L550.50 367.90L550.00 367.85L549.50 367.82L549.00 367.79L548.50 367.76L548.25 367.76L548.25 374.66L548.00 374.66L547.50 374.64L547.00 374.64L546.75 374.64L546.75 367.50L546.50 367.50L546.00 367.32L545.50 367.14L545.00 367.06L544.50 366.98L544.00 366.90L543.75 366.90L543.75 374.72L543.50 374.72L543.00 374.77L542.50 374.82L542.25 374.82L542.25 366.75L542.00 366.75L541.50 366.72L541.00 366.73L540.50 366.87L540.00 367.02L539.75 367.02L539.75 375.19L539.50 375.19L539.00 375.28L538.50 375.38L538.25 375.38L538.25 367.95L538.00 367.95L537.50 368.33L537.00 368.78L536.50 369.20L536.00 369.89L535.50 370.59L535.00 371.40L534.75 371.40L534.75 376.53L534.50 376.53L534.00 376.45L533.50 376.25L533.00 376.00L532.50 375.66L532.00 375.32L531.50 375.14L531.25 375.14L531.25 371.46L531.00 371.46L530.50 371.18L530.00 370.89L529.50 370.46L529.00 370.03L528.75 370.03L528.75 374.58L528.50 374.58L528.00 374.66L527.50 374.74L527.25 374.74L527.25 369.37L527.00 369.37L526.50 369.26L526.00 369.44L525.50 369.61L525.00 369.78L524.50 369.85L524.00 369.91L523.50 370.11L523.00 370.60L522.50 371.08L522.00 371.56L521.50 371.59L521.00 371.47L520.50 371.34L520.00 371.22L519.50 370.98L519.00 370.72L518.50 370.63L518.00 370.53L517.50 370.69L517.00 371.23L516.50 371.75L516.00 372.27L515.75 372.27L515.75 366.68L515.50 366.68L515.00 366.70L514.50 366.71L514.00 366.72L513.75 366.72L513.75 372.95L513.50 372.95L513.00 373.09L512.50 373.07L512.00 373.05L511.75 373.05L511.75 366.62L511.50 366.62L511.00 366.58L510.50 366.52L510.00 366.46L509.50 366.40L509.00 366.33L508.50 366.19L508.00 366.05L507.50 365.91L507.00 365.77L506.50 365.63L506.00 365.55L505.50 365.46L505.00 365.33L504.50 365.21L504.00 365.09L503.50 364.94L503.00 364.69L502.50 364.44L502.00 364.19L501.50 363.94L501.00 363.80L500.50 363.77L500.00 363.74L499.50 363.72L499.00 363.69L498.50 363.81L498.00 363.95L497.50 364.09L497.00 364.21L496.50 364.23L496.00 364.25L495.50 364.29L495.00 364.33L494.50 364.28L494.00 364.23L493.50 364.18L493.00 364.13L492.50 364.10L492.00 364.07L491.50 364.05L491.00 364.02L490.50 363.99L490.00 364.01L489.50 364.05L489.00 364.10L488.50 364.15L488.00 364.20L487.50 364.23L487.00 364.26L486.50 364.33L486.00 364.40L485.50 364.46L485.00 364.53L484.50 364.61L484.00 364.69L483.50 364.72L483.00 364.75L482.50 364.78L482.00 364.81L481.50 364.83L481.00 364.84L480.50 364.85L480.00 364.86L479.50 364.82L479.00 364.77L478.50 364.73L478.00 364.68L477.50 364.57L477.00 364.46L476.50 364.41L476.00 364.64L475.50 364.87L475.00 365.12L474.50 365.29L474.00 365.44L473.50 365.45L473.00 365.45L472.50 365.34L472.00 365.23L471.50 365.09L471.00 364.95L470.50 364.84L470.25 364.84L470.25 371.23L470.00 371.23L469.75 371.23L469.75 364.68L469.50 364.68L469.00 364.64L468.50 364.77L468.00 364.95L467.50 365.07L467.00 365.20L466.50 365.35L466.00 365.51L465.50 365.66L465.00 365.81L464.50 365.93L464.00 365.92L463.50 365.90L463.00 365.89L462.50 365.87L462.00 365.86L461.50 365.85L461.00 365.81L460.50 365.70L460.00 365.58L459.50 365.47L459.00 365.36L458.50 365.21L458.00 365.22L457.50 365.22L457.00 365.23L456.50 365.23L456.00 365.23L455.50 365.42L455.00 365.60L454.50 365.79L454.00 365.92L453.50 366.00L453.00 366.03L452.50 366.07L452.00 366.10L451.50 366.16L451.25 366.16L451.25 370.73L451.00 370.73L450.75 370.73L450.75 366.33L450.50 366.33L450.00 366.45L449.50 366.56L449.00 366.70L448.50 366.91L448.00 367.01L447.75 367.01L447.75 370.62L447.50 370.62L447.25 370.62L447.25 366.99L447.00 366.99L446.50 366.84L446.00 366.75L445.50 366.67L445.00 366.60L444.50 366.49L444.00 366.37L443.50 366.25L443.00 366.13L442.50 366.05L442.00 365.91L441.50 368.08L441.00 367.98L440.50 367.85L440.00 367.71L439.50 364.99L439.00 364.80L438.50 364.60L438.00 364.39L437.50 364.18L437.00 363.97L436.50 363.75L436.00 363.55L435.50 363.36L435.00 363.34L434.50 363.36L434.00 363.38L433.50 363.37L433.25 363.37L433.25 366.81L433.00 366.81L432.75 366.81L432.75 363.52L432.50 363.52L432.00 363.60L431.50 363.49L431.00 363.38L430.50 363.31L430.00 363.24L429.50 363.14L429.00 363.05L428.50 362.92L428.00 362.70L427.50 362.62L427.00 362.54L426.50 362.89L426.00 363.88L425.75 363.88L425.75 369.33L425.50 369.33L425.00 369.57L424.75 369.57L424.75 364.02L424.50 364.02L424.00 363.89L423.50 363.76L423.00 363.63L422.50 363.53L422.00 363.44L421.50 363.35L421.00 363.26L420.50 363.18L420.00 362.99L419.75 362.99L419.75 369.46L419.50 369.46L419.25 369.46L419.25 362.61L419.00 362.61L418.50 362.45L418.00 362.20L417.50 362.20L417.00 362.30L416.50 362.53L416.00 362.83L415.50 363.04L415.00 363.24L414.50 363.45L414.00 363.35L413.50 363.41L413.00 363.73L412.50 364.07L412.00 364.41L411.50 364.76L411.00 365.09L410.50 365.48L410.00 365.87L409.50 366.26L409.00 366.12L408.75 366.12L408.75 374.54L408.50 374.54L408.25 374.54L408.25 365.53L408.00 365.53L407.50 365.13L407.00 364.70L406.50 364.46L406.00 364.22L405.50 364.27L405.00 364.31L404.50 364.34L404.00 364.36L403.50 364.32L403.00 364.28L402.50 364.79L402.00 365.13L401.50 365.61L401.00 366.10L400.50 365.84L400.00 365.58L399.50 365.33L399.00 365.00L398.50 364.67L398.00 364.74L397.50 365.06L397.00 365.47L396.50 365.93L396.00 366.00L395.50 365.81L395.00 365.63L394.50 366.16L394.00 366.70L393.50 367.23L393.00 367.83L392.50 368.48L392.25 368.48L392.25 374.01L392.00 374.01L391.75 374.01L391.75 369.07L391.50 369.07L391.00 368.21L390.50 367.62L390.00 367.03L389.50 366.58L389.00 366.14L388.50 365.59L388.00 365.09L387.50 364.58L387.00 364.11L386.50 363.88L386.00 363.65L385.50 363.40L385.00 362.97L384.50 362.59L384.00 362.21L383.50 362.03L383.00 362.14L382.50 362.26L382.00 362.38L381.50 362.68L381.00 362.98L380.50 363.28L380.00 363.54L379.50 363.81L379.00 364.07L378.50 364.30L378.00 364.37L377.50 364.45L377.00 364.53L376.50 364.59L376.00 364.65L375.50 364.72L375.00 364.78L374.50 364.80L374.00 364.81L373.50 364.83L373.00 364.39L372.50 363.85L372.00 363.45L371.50 363.26L371.00 363.11L370.50 362.70L370.00 362.28L369.50 361.95L369.00 361.74L368.50 362.07L368.00 362.39L367.50 362.72L367.00 363.03L366.50 363.43L366.00 363.82L365.50 364.25L365.00 364.69L364.75 364.69L364.75 369.60L364.50 369.60L364.25 369.60L364.25 374.66L364.00 374.66L363.50 375.28L363.00 375.88L362.50 376.47L362.00 376.90L361.50 377.32L361.00 377.75L360.50 378.24L360.00 379.02L359.50 379.66L359.00 380.31L358.50 380.93L358.00 381.99L357.50 382.63L357.00 383.21L356.50 382.41L356.00 382.13L355.50 382.65L355.00 382.46L354.50 382.08L354.00 381.12L353.50 379.67L353.00 377.52L352.50 375.03L352.00 372.51L351.50 371.14L351.00 369.97L350.50 368.83L350.00 368.32L349.50 367.69L349.00 367.39L348.50 367.18L348.00 367.13L347.50 367.11L347.00 367.08L346.50 366.87L346.00 366.65L345.50 366.48L345.00 366.33L344.50 366.28L344.00 366.31L343.50 366.40L343.00 366.56L342.50 366.72L342.00 366.88L341.50 367.12L341.00 367.36L340.50 367.59L340.00 367.83L339.50 368.84L339.00 369.85L338.50 370.99L338.25 370.99L338.25 374.56L338.00 374.56L337.75 374.56L337.75 367.97L337.50 367.97L337.00 365.53L336.50 365.71L336.25 365.71L336.25 375.74L336.00 375.74L335.50 375.95L335.00 376.03L334.75 376.03L334.75 365.99L334.50 365.99L334.00 366.05L333.50 366.12L333.00 366.13L332.75 366.13L332.75 376.32L332.50 376.32L332.00 376.35L331.75 376.35L331.75 366.17L331.50 366.17L331.00 366.19L330.50 366.23L330.00 366.26L329.75 366.26L329.75 376.56L329.50 376.56L329.00 376.62L328.50 376.67L328.25 376.67L328.25 366.43L328.00 366.43L327.50 366.47L327.00 366.51L326.50 366.55L326.00 366.58L325.50 366.62L325.00 366.57L324.50 366.48L324.25 366.48L324.25 376.74L324.00 376.74L323.50 376.66L323.00 376.57L322.50 376.49L322.25 376.49L322.25 366.08L322.00 366.08L321.50 365.99L321.00 365.90L320.50 365.82L320.00 365.79L319.50 365.82L319.00 365.84L318.50 365.86L318.25 365.86L318.25 376.16L318.00 376.16L317.50 376.18L317.00 376.20L316.50 376.28L316.00 376.37L315.50 376.45L315.00 376.53L314.50 376.57L314.25 376.57L314.25 366.43L314.00 366.43L313.50 366.50L313.00 366.57L312.50 366.61L312.00 366.53L311.50 366.43L311.00 366.34L310.50 366.25L310.00 366.16L309.75 366.16L309.75 375.99L309.50 375.99L309.00 375.85L308.50 375.71L308.25 375.71L308.25 365.71L308.00 365.71L307.50 365.65L307.00 365.59L306.50 365.52L306.25 365.52L306.25 375.36L306.00 375.36L305.50 375.42L305.00 375.47L304.50 375.53L304.00 375.59L303.50 375.63L303.00 375.67L302.50 375.71L302.00 375.75L301.50 375.78L301.00 375.81L300.50 375.81L300.00 375.80L299.50 375.80L299.00 375.79L298.50 375.87L298.00 375.95L297.50 376.06L297.00 376.16L296.50 376.17L296.00 376.19L295.50 376.20L295.00 376.21L294.50 376.22L294.00 376.10L293.50 375.89L293.00 375.67L292.50 375.40L292.25 375.40L292.25 364.53L292.00 364.53L291.50 364.30L291.00 364.16L290.50 364.02L290.00 363.88L289.50 364.01L289.25 364.01L289.25 374.49L289.00 374.49L288.50 374.57L288.00 374.65L287.75 374.65L287.75 364.45L287.50 364.45L287.00 364.52L286.50 364.59L286.00 364.66L285.50 364.70L285.00 364.75L284.50 364.79L284.25 364.79L284.25 374.88L284.00 374.88L283.50 374.99L283.00 375.10L282.50 375.20L282.00 375.35L281.50 375.50L281.00 375.43L280.50 375.26L280.00 375.10L279.50 374.93L279.00 374.73L278.50 374.60L278.00 374.48L277.50 374.35L277.00 374.21L276.50 373.92L276.00 373.63L275.50 373.34L275.00 373.24L274.50 373.15L274.00 373.07L273.50 372.60L273.00 372.13L272.50 371.92L272.00 371.70L271.50 371.92L271.00 372.13L270.50 372.57L270.00 373.00L269.50 373.32L269.00 373.63L268.50 373.78L268.00 373.27L267.50 372.46L267.00 371.46L266.50 371.11L266.00 371.14L265.50 371.52L265.00 372.19L264.50 372.64L264.00 372.94L263.50 373.19L263.00 373.30L262.50 373.33L262.00 373.14L261.50 372.96L261.00 372.78L260.50 372.68L260.00 372.58L259.50 372.48L259.00 372.38L258.50 372.29L258.00 372.19L257.50 372.10L257.00 372.21L256.50 372.39L256.00 372.61L255.50 372.83L255.00 373.05L254.50 373.26L254.00 373.64L253.50 374.02L253.00 374.36L252.50 374.33L252.00 374.29L251.50 374.26L251.00 374.14L250.50 374.00L250.00 373.86L249.50 373.74L249.00 373.62L248.50 373.50L248.00 373.38L247.50 373.37L247.00 373.36L246.50 373.36L246.00 373.35L245.50 373.34L245.00 373.33L244.50 373.30L244.00 373.26L243.50 373.23L243.00 373.20L242.50 373.29L242.00 373.41L241.50 373.50L241.00 373.69L240.50 373.87L240.00 374.06L239.50 374.33L239.00 374.55L238.50 374.75L238.00 374.89L237.50 375.02L237.00 375.15L236.50 374.86L236.00 374.49L235.50 374.12L235.00 373.61L234.50 373.13L234.00 372.65L233.50 372.22L233.00 372.35L232.50 372.73L232.00 373.64L231.50 374.83L231.00 374.77L230.50 373.79L230.00 372.66L229.50 371.53L229.00 370.82L228.50 370.11L228.00 369.91L227.50 369.78L227.00 370.01L226.50 370.33L226.00 370.63L225.50 370.95L225.00 371.28L224.50 371.57L224.00 371.86L223.50 372.15L223.00 372.20L222.50 372.24L222.00 372.15L221.50 371.97L221.00 371.81L220.75 371.81L220.75 299.62L220.50 299.62L220.25 299.62L220.25 371.77L220.00 371.77L219.50 372.18L219.00 372.50L218.50 372.82L218.00 373.09L217.50 373.36L217.00 373.63L216.50 373.91L216.00 374.19L215.50 374.47L215.00 374.84L214.50 375.24L214.00 375.31L213.50 375.37L213.00 375.43L212.50 375.33L212.00 375.23L211.50 375.11L211.00 374.96L210.50 374.72L210.00 374.47L209.50 374.33L209.00 374.17L208.50 374.05L208.00 374.05L207.50 373.87L207.00 373.69L206.50 373.79L206.00 373.96L205.50 374.16L205.00 374.67L204.50 375.18L204.00 375.01L203.50 374.77L203.00 374.54L202.50 374.52L202.00 374.41L201.50 374.26L201.25 374.26L201.25 366.48L201.00 366.48L200.50 366.43L200.00 366.38L199.50 366.33L199.00 366.06L198.50 365.79L198.25 365.79L198.25 372.80L198.00 372.80L197.50 372.18L197.00 371.68L196.50 371.20L196.00 370.88L195.50 370.68L195.00 370.73L194.50 370.78L194.00 371.46L193.50 372.14L193.00 372.98L192.50 373.48L192.00 373.84L191.50 374.17L191.00 374.20L190.50 374.15L190.00 374.21L189.50 374.42L189.00 374.63L188.50 374.73L188.00 374.82L187.50 374.91L187.00 374.99L186.50 375.07L186.00 375.15L185.50 375.22L185.25 375.22L185.25 367.54L185.00 367.54L184.50 367.42L184.00 367.31L183.50 367.20L183.00 367.11L182.75 367.11L182.75 375.05L182.50 375.05L182.00 375.15L181.50 375.26L181.00 375.36L180.50 375.24L180.00 375.07L179.50 374.90L179.00 374.72L178.50 374.55L178.00 374.38L177.75 374.38L177.75 365.97L177.50 365.97L177.00 365.73L176.50 365.49L176.00 365.39L175.50 365.26L175.25 365.26L175.25 373.76L175.00 373.76L174.50 373.85L174.00 373.98L173.75 373.98L173.75 365.27L173.50 365.27L173.00 365.48L172.50 365.64L172.00 365.79L171.50 366.04L171.00 366.30L170.50 366.49L170.00 366.40L169.50 366.39L169.00 366.39L168.50 366.39L168.00 366.38L167.50 366.47L167.00 366.55L166.50 366.56L166.00 366.58L165.50 366.41L165.00 366.24L164.50 366.03L164.00 365.83L163.50 365.71L163.00 365.72L162.50 365.67L162.00 365.63L161.50 365.58L161.00 365.53L160.50 365.43L160.25 365.43L160.25 373.38L160.00 373.38L159.50 373.31L159.00 373.24L158.75 373.24L158.75 365.06L158.50 365.06L158.00 365.22L157.50 365.38L157.00 365.53L156.50 365.46L156.00 365.38L155.50 365.31L155.00 365.25L154.50 365.43L154.00 365.61L153.50 365.80L153.00 365.98L152.50 366.18L152.00 366.37L151.50 366.46L151.25 366.46L151.25 373.76L151.00 373.76L150.50 373.64L150.25 373.64L150.25 366.22L150.00 366.22L149.50 366.15L149.00 366.08L148.50 366.00L148.00 365.93L147.50 365.86L147.00 365.78L146.50 365.71L146.00 365.65L145.50 365.64L145.00 365.63L144.50 365.61L144.00 365.60L143.50 365.61L143.00 365.61L142.50 365.59L142.00 365.57L141.50 365.55L141.00 365.59L140.50 365.63L140.00 365.68L139.50 365.67L139.00 365.65L138.50 365.64L138.00 365.63L137.50 365.73L137.00 365.83L136.50 365.94L136.00 366.05L135.50 366.20L135.00 366.36L134.50 366.43L134.00 366.21L133.50 365.98L133.00 365.75L132.50 365.53L132.00 365.30L131.50 365.08L131.00 364.76L130.50 364.45L130.00 364.13L129.50 364.16L129.00 364.18L128.50 363.87L128.00 363.57L127.50 363.38L127.00 363.39L126.50 363.40L126.00 363.53L125.50 363.59L125.00 363.65L124.50 363.59L124.00 363.53L123.50 363.52L123.00 363.51L122.50 363.45L122.00 363.39L121.50 363.33L121.00 363.27L120.50 363.25L120.00 363.25L119.50 363.26L119.00 363.70L118.50 364.20L118.00 364.38L117.50 364.34L117.00 364.16L116.50 363.98L116.00 363.80L115.50 363.79L115.00 363.78L114.50 363.75L114.00 363.72L113.50 363.78L113.00 363.84L112.75 363.84L112.75 372.15L112.50 372.15L112.00 372.18L111.50 372.19L111.25 372.19L111.25 363.96L111.00 363.96L110.50 363.97L110.00 363.98L109.75 363.98L109.75 372.83L109.50 372.83L109.00 373.45L108.50 372.86L108.00 372.28L107.50 372.99L107.00 373.70L106.50 373.04L106.00 373.43L105.50 374.51L105.00 374.58L104.50 374.64L104.00 374.69L103.50 374.71L103.00 374.66L102.50 374.61L102.00 374.57L101.50 374.52L101.00 374.47L100.50 374.43L100.00 374.38L99.50 374.33L99.00 374.29L98.50 374.24L98.00 374.20L97.50 374.15L97.00 374.10L96.50 374.06L96.00 374.01L95.50 373.97L95.00 373.92L94.50 373.89L94.00 373.86L93.75 373.86L93.75 366.93L93.50 366.93L93.00 366.92L92.50 366.91L92.00 366.92L91.50 366.98L91.25 366.98L91.25 373.72L91.00 373.72L90.50 373.71L90.00 373.69L89.50 373.69L89.00 373.69L88.50 373.68L88.25 373.68L88.25 367.43L88.00 367.43L87.50 367.43L87.00 367.40L86.50 367.38L86.00 367.32L85.50 367.27L85.00 367.21L84.75 367.21L84.75 374.20L84.50 374.20L84.25 374.20L84.25 367.14L84.00 367.14L83.50 367.12L83.00 367.11L82.75 367.11L82.75 374.56L82.50 374.56L82.00 374.60L81.50 374.63L81.50 374.63Z" fill="#ff9900"/>
<path d="M191.75 334.33L192.00 334.33L192.50 332.60L193.00 330.60L193.50 329.29L194.00 328.64L194.50 328.00L195.00 329.10L195.50 330.20L196.00 331.80L196.50 333.16L197.00 334.82L197.25 334.82L197.25 371.68L197.00 371.68L196.50 371.20L196.00 370.88L195.50 370.68L195.00 370.73L194.50 370.78L194.00 371.46L193.50 372.14L193.00 372.98L192.50 373.48L192.00 373.84L191.75 373.84ZM210.75 341.16L211.00 341.16L211.50 340.86L212.00 340.51L212.50 340.20L213.00 339.90L213.50 339.28L214.00 338.67L214.50 338.09L215.00 336.87L215.50 335.74L216.00 334.93L216.25 334.93L216.25 374.19L216.00 374.19L215.50 374.47L215.00 374.84L214.50 375.24L214.00 375.31L213.50 375.37L213.00 375.43L212.50 375.33L212.00 375.23L211.50 375.11L211.00 374.96L210.75 374.96ZM306.25 361.73L306.50 361.73L307.00 361.82L307.50 361.92L307.75 361.92L307.75 365.65L307.50 365.65L307.00 365.59L306.50 365.52L306.25 365.52ZM309.75 362.84L310.00 362.84L310.50 363.00L311.00 363.17L311.50 363.33L312.00 363.49L312.50 363.67L313.00 363.58L313.50 363.44L314.00 363.29L314.25 363.29L314.25 366.43L314.00 366.43L313.50 366.50L313.00 366.57L312.50 366.61L312.00 366.53L311.50 366.43L311.00 366.34L310.50 366.25L310.00 366.16L309.75 366.16ZM318.25 362.16L318.50 362.16L319.00 362.12L319.50 362.07L320.00 362.03L320.50 362.07L321.00 362.25L321.50 362.42L322.00 362.60L322.25 362.60L322.25 366.08L322.00 366.08L321.50 365.99L321.00 365.90L320.50 365.82L320.00 365.79L319.50 365.82L319.00 365.84L318.50 365.86L318.25 365.86ZM324.25 363.41L324.50 363.41L325.00 363.57L325.50 363.68L326.00 363.61L326.50 363.53L327.00 363.45L327.50 363.38L328.00 363.30L328.25 363.30L328.25 366.43L328.00 366.43L327.50 366.47L327.00 366.51L326.50 366.55L326.00 366.58L325.50 366.62L325.00 366.57L324.50 366.48L324.25 366.48ZM329.75 362.97L330.00 362.97L330.50 362.87L331.00 362.78L331.50 362.73L331.75 362.73L331.75 366.17L331.50 366.17L331.00 366.19L330.50 366.23L330.00 366.26L329.75 366.26ZM332.75 362.58L333.00 362.58L333.50 362.53L334.00 362.38L334.50 362.24L334.75 362.24L334.75 365.99L334.50 365.99L334.00 366.05L333.50 366.12L333.00 366.13L332.75 366.13ZM336.25 360.30L336.50 360.30L337.00 359.50L337.25 359.50L337.25 353.50L337.50 353.50L337.75 353.50L337.75 367.97L337.50 367.97L337.00 365.53L336.50 365.71L336.25 365.71ZM347.75 344.90L348.00 344.90L348.50 344.21L349.00 343.85L349.50 343.32L350.00 342.13L350.50 340.69L351.00 337.99L351.50 335.25L352.00 332.85L352.25 332.85L352.25 372.51L352.00 372.51L351.50 371.14L351.00 369.97L350.50 368.83L350.00 368.32L349.50 367.69L349.00 367.39L348.50 367.18L348.00 367.13L347.75 367.13ZM353.25 319.94L353.50 319.94L353.75 319.94L353.75 316.80L354.00 316.80L354.50 314.60L355.00 314.24L355.25 314.24L355.25 382.46L355.00 382.46L354.50 382.08L354.00 381.12L353.50 379.67L353.25 379.67ZM357.25 315.19L357.50 315.19L358.00 315.82L358.50 317.30L359.00 319.67L359.50 322.11L360.00 324.52L360.50 326.60L360.75 326.60L360.75 378.24L360.50 378.24L360.00 379.02L359.50 379.66L359.00 380.31L358.50 380.93L358.00 381.99L357.50 382.63L357.25 382.63Z" fill="#fff200"/>
<path d="M81.50 374.63L82.00 374.60L82.50 374.56L82.75 374.56L82.75 367.11L83.00 367.11L83.50 367.12L84.00 367.14L84.25 367.14L84.25 374.20L84.50 374.20L84.75 374.20L84.75 367.21L85.00 367.21L85.50 367.27L86.00 367.32L86.50 367.38L87.00 367.40L87.50 367.43L88.00 367.43L88.25 367.43L88.25 373.68L88.50 373.68L89.00 373.69L89.50 373.69L90.00 373.69L90.50 373.71L91.00 373.72L91.25 373.72L91.25 366.98L91.50 366.98L92.00 366.92L92.50 366.91L93.00 366.92L93.50 366.93L93.75 366.93L93.75 373.86L94.00 373.86L94.50 373.89L95.00 373.92L95.25 373.92L95.25 366.95L95.50 366.95L95.75 366.95L95.75 374.01L96.00 374.01L96.50 374.06L97.00 374.10L97.50 374.15L98.00 374.20L98.50 374.24L99.00 374.29L99.50 374.33L100.00 374.38L100.50 374.43L101.00 374.47L101.25 374.47L101.25 366.41L101.50 366.41L102.00 366.40L102.25 366.40L102.25 374.61L102.50 374.61L103.00 374.66L103.50 374.71L104.00 374.69L104.50 374.64L105.00 374.58L105.25 374.58L105.25 365.97L105.50 365.97L105.75 365.97L105.75 373.43L106.00 373.43L106.25 373.43L106.25 364.61L106.50 364.61L106.75 364.61L106.75 373.70L107.00 373.70L107.25 373.70L107.25 364.67L107.50 364.67L107.75 364.67L107.75 372.28L108.00 372.28L108.25 372.28L108.25 364.60L108.50 364.60L108.75 364.60L108.75 373.45L109.00 373.45L109.50 372.83L109.75 372.83L109.75 363.98L110.00 363.98L110.50 363.97L111.00 363.96L111.25 363.96L111.25 372.19L111.50 372.19L111.75 372.19L111.75 363.94L112.00 363.94L112.25 363.94L112.25 372.15L112.50 372.15L112.75 372.15L112.75 363.84L113.00 363.84L113.50 363.78L114.00 363.72L114.50 363.75L115.00 363.78L115.50 363.79L116.00 363.80L116.50 363.98L117.00 364.16L117.50 364.34L118.00 364.38L118.50 364.20L119.00 363.70L119.50 363.26L120.00 363.25L120.50 363.25L121.00 363.27L121.50 363.33L122.00 363.39L122.50 363.45L123.00 363.51L123.50 363.52L124.00 363.53L124.50 363.59L125.00 363.65L125.50 363.59L126.00 363.53L126.50 363.40L127.00 363.39L127.50 363.38L128.00 363.57L128.50 363.87L129.00 364.18L129.50 364.16L130.00 364.13L130.50 364.45L131.00 364.76L131.50 365.08L132.00 365.30L132.50 365.53L133.00 365.75L133.50 365.98L134.00 366.21L134.50 366.43L135.00 366.36L135.50 366.20L136.00 366.05L136.50 365.94L137.00 365.83L137.50 365.73L138.00 365.63L138.50 365.64L139.00 365.65L139.50 365.67L140.00 365.68L140.50 365.63L141.00 365.59L141.50 365.55L142.00 365.57L142.50 365.59L143.00 365.61L143.50 365.61L144.00 365.60L144.50 365.61L145.00 365.63L145.50 365.64L146.00 365.65L146.50 365.71L147.00 365.78L147.50 365.86L148.00 365.93L148.50 366.00L149.00 366.08L149.50 366.15L150.00 366.22L150.25 366.22L150.25 373.64L150.50 373.64L151.00 373.76L151.25 373.76L151.25 366.46L151.50 366.46L152.00 366.37L152.50 366.18L153.00 365.98L153.50 365.80L154.00 365.61L154.50 365.43L155.00 365.25L155.50 365.31L156.00 365.38L156.50 365.46L157.00 365.53L157.50 365.38L158.00 365.22L158.50 365.06L158.75 365.06L158.75 373.24L159.00 373.24L159.50 373.31L160.00 373.38L160.25 373.38L160.25 365.43L160.50 365.43L161.00 365.53L161.50 365.58L162.00 365.63L162.50 365.67L163.00 365.72L163.50 365.71L164.00 365.83L164.50 366.03L165.00 366.24L165.50 366.41L166.00 366.58L166.50 366.56L167.00 366.55L167.50 366.47L168.00 366.38L168.50 366.39L169.00 366.39L169.50 366.39L170.00 366.40L170.50 366.49L171.00 366.30L171.50 366.04L172.00 365.79L172.50 365.64L173.00 365.48L173.50 365.27L173.75 365.27L173.75 373.98L174.00 373.98L174.50 373.85L175.00 373.76L175.25 373.76L175.25 365.26L175.50 365.26L176.00 365.39L176.50 365.49L177.00 365.73L177.50 365.97L177.75 365.97L177.75 374.38L178.00 374.38L178.50 374.55L178.75 374.55L178.75 366.63L179.00 366.63L179.25 366.63L179.25 374.90L179.50 374.90L180.00 375.07L180.25 375.07L180.25 367.34L180.50 367.34L180.75 367.34L180.75 375.36L181.00 375.36L181.50 375.26L181.75 375.26L181.75 367.32L182.00 367.32L182.25 367.32L182.25 375.05L182.50 375.05L182.75 375.05L182.75 367.11L183.00 367.11L183.50 367.20L184.00 367.31L184.50 367.42L185.00 367.54L185.25 367.54L185.25 375.22L185.50 375.22L185.75 375.22L185.75 367.48L186.00 367.48L186.50 367.44L186.75 367.44L186.75 374.99L187.00 374.99L187.25 374.99L187.25 367.37L187.50 367.37L187.75 367.37L187.75 374.82L188.00 374.82L188.50 374.73L189.00 374.63L189.50 374.42L190.00 374.21L190.50 374.15L191.00 374.20L191.50 374.17L192.00 373.84L192.50 373.48L193.00 372.98L193.50 372.14L194.00 371.46L194.50 370.78L195.00 370.73L195.50 370.68L196.00 370.88L196.50 371.20L197.00 371.68L197.50 372.18L198.00 372.80L198.25 372.80L198.25 365.79L198.50 365.79L199.00 366.06L199.50 366.33L200.00 366.38L200.50 366.43L201.00 366.48L201.25 366.48L201.25 374.26L201.50 374.26L202.00 374.41L202.50 374.52L203.00 374.54L203.50 374.77L204.00 375.01L204.50 375.18L205.00 374.67L205.50 374.16L206.00 373.96L206.50 373.79L207.00 373.69L207.50 373.87L208.00 374.05L208.50 374.05L209.00 374.17L209.50 374.33L210.00 374.47L210.50 374.72L211.00 374.96L211.50 375.11L212.00 375.23L212.50 375.33L213.00 375.43L213.50 375.37L214.00 375.31L214.50 375.24L215.00 374.84L215.50 374.47L216.00 374.19L216.50 373.91L217.00 373.63L217.50 373.36L217.75 373.36L217.75 365.21L218.00 365.21L218.25 365.21L218.25 372.82L218.50 372.82L219.00 372.50L219.50 372.18L220.00 371.77L220.25 371.77L220.25 299.62L220.50 299.62L220.75 299.62L220.75 371.81L221.00 371.81L221.50 371.97L222.00 372.15L222.50 372.24L223.00 372.20L223.50 372.15L224.00 371.86L224.50 371.57L225.00 371.28L225.50 370.95L226.00 370.63L226.50 370.33L227.00 370.01L227.50 369.78L228.00 369.91L228.50 370.11L229.00 370.82L229.50 371.53L230.00 372.66L230.50 373.79L231.00 374.77L231.50 374.83L232.00 373.64L232.50 372.73L233.00 372.35L233.50 372.22L234.00 372.65L234.50 373.13L235.00 373.61L235.50 374.12L236.00 374.49L236.50 374.86L237.00 375.15L237.50 375.02L238.00 374.89L238.50 374.75L239.00 374.55L239.50 374.33L240.00 374.06L240.50 373.87L241.00 373.69L241.50 373.50L242.00 373.41L242.25 373.41L242.25 368.22L242.50 368.22L243.00 368.16L243.25 368.16L243.25 373.23L243.50 373.23L244.00 373.26L244.50 373.30L245.00 373.33L245.25 373.33L245.25 367.70L245.50 367.70L246.00 367.59L246.25 367.59L246.25 373.36L246.50 373.36L247.00 373.36L247.50 373.37L248.00 373.38L248.25 373.38L248.25 367.26L248.50 367.26L249.00 367.20L249.25 367.20L249.25 373.74L249.50 373.74L250.00 373.86L250.50 374.00L251.00 374.14L251.50 374.26L252.00 374.29L252.50 374.33L253.00 374.36L253.50 374.02L254.00 373.64L254.50 373.26L255.00 373.05L255.50 372.83L256.00 372.61L256.50 372.39L257.00 372.21L257.50 372.10L258.00 372.19L258.50 372.29L259.00 372.38L259.50 372.48L260.00 372.58L260.50 372.68L261.00 372.78L261.50 372.96L262.00 373.14L262.50 373.33L263.00 373.30L263.50 373.19L264.00 372.94L264.50 372.64L265.00 372.19L265.50 371.52L266.00 371.14L266.50 371.11L267.00 371.46L267.50 372.46L268.00 373.27L268.50 373.78L269.00 373.63L269.50 373.32L270.00 373.00L270.50 372.57L271.00 372.13L271.50 371.92L271.75 371.92L271.75 363.13L272.00 363.13L272.25 363.13L272.25 371.92L272.50 371.92L273.00 372.13L273.50 372.60L274.00 373.07L274.25 373.07L274.25 364.54L274.50 364.54L275.00 364.60L275.25 364.60L275.25 373.34L275.50 373.34L276.00 373.63L276.50 373.92L277.00 374.21L277.50 374.35L278.00 374.48L278.50 374.60L279.00 374.73L279.50 374.93L280.00 375.10L280.50 375.26L281.00 375.43L281.50 375.50L281.75 375.50L281.75 364.97L282.00 364.97L282.25 364.97L282.25 375.20L282.50 375.20L283.00 375.10L283.25 375.10L283.25 364.90L283.50 364.90L283.75 364.90L283.75 374.88L284.00 374.88L284.25 374.88L284.25 364.79L284.50 364.79L285.00 364.75L285.50 364.70L286.00 364.66L286.50 364.59L287.00 364.52L287.50 364.45L287.75 364.45L287.75 374.65L288.00 374.65L288.25 374.65L288.25 364.26L288.50 364.26L288.75 364.26L288.75 374.49L289.00 374.49L289.25 374.49L289.25 364.01L289.50 364.01L290.00 363.88L290.50 364.02L291.00 364.16L291.50 364.30L292.00 364.53L292.25 364.53L292.25 375.40L292.50 375.40L293.00 375.67L293.50 375.89L294.00 376.10L294.50 376.22L295.00 376.21L295.50 376.20L296.00 376.19L296.50 376.17L297.00 376.16L297.50 376.06L298.00 375.95L298.50 375.87L299.00 375.79L299.50 375.80L300.00 375.80L300.50 375.81L301.00 375.81L301.50 375.78L302.00 375.75L302.50 375.71L303.00 375.67L303.50 375.63L304.00 375.59L304.50 375.53L305.00 375.47L305.50 375.42L306.00 375.36L306.25 375.36L306.25 365.52L306.50 365.52L307.00 365.59L307.50 365.65L308.00 365.71L308.25 365.71L308.25 375.71L308.50 375.71L309.00 375.85L309.50 375.99L309.75 375.99L309.75 366.16L310.00 366.16L310.50 366.25L311.00 366.34L311.50 366.43L312.00 366.53L312.50 366.61L313.00 366.57L313.50 366.50L314.00 366.43L314.25 366.43L314.25 376.57L314.50 376.57L315.00 376.53L315.25 376.53L315.25 366.19L315.50 366.19L316.00 366.11L316.25 366.11L316.25 376.28L316.50 376.28L317.00 376.20L317.25 376.20L317.25 365.91L317.50 365.91L317.75 365.91L317.75 376.16L318.00 376.16L318.25 376.16L318.25 365.86L318.50 365.86L319.00 365.84L319.50 365.82L320.00 365.79L320.50 365.82L321.00 365.90L321.50 365.99L322.00 366.08L322.25 366.08L322.25 376.49L322.50 376.49L323.00 376.57L323.25 376.57L323.25 366.32L323.50 366.32L323.75 366.32L323.75 376.74L324.00 376.74L324.25 376.74L324.25 366.48L324.50 366.48L325.00 366.57L325.50 366.62L326.00 366.58L326.50 366.55L327.00 366.51L327.50 366.47L328.00 366.43L328.25 366.43L328.25 376.67L328.50 376.67L328.75 376.67L328.75 366.35L329.00 366.35L329.25 366.35L329.25 376.56L329.50 376.56L329.75 376.56L329.75 366.26L330.00 366.26L330.50 366.23L331.00 366.19L331.50 366.17L331.75 366.17L331.75 376.35L332.00 376.35L332.50 376.32L332.75 376.32L332.75 366.13L333.00 366.13L333.50 366.12L334.00 366.05L334.50 365.99L334.75 365.99L334.75 376.03L335.00 376.03L335.25 376.03L335.25 365.97L335.50 365.97L335.75 365.97L335.75 375.74L336.00 375.74L336.25 375.74L336.25 365.71L336.50 365.71L337.00 365.53L337.50 367.97L337.75 367.97L337.75 374.56L338.00 374.56L338.25 374.56L338.25 370.99L338.50 370.99L339.00 369.85L339.50 368.84L340.00 367.83L340.50 367.59L341.00 367.36L341.50 367.12L342.00 366.88L342.50 366.72L343.00 366.56L343.50 366.40L344.00 366.31L344.50 366.28L345.00 366.33L345.50 366.48L346.00 366.65L346.50 366.87L347.00 367.08L347.50 367.11L348.00 367.13L348.50 367.18L349.00 367.39L349.50 367.69L350.00 368.32L350.50 368.83L351.00 369.97L351.50 371.14L352.00 372.51L352.50 375.03L353.00 377.52L353.50 379.67L354.00 381.12L354.50 382.08L355.00 382.46L355.50 382.65L356.00 382.13L356.50 382.41L357.00 383.21L357.50 382.63L358.00 381.99L358.50 380.93L359.00 380.31L359.50 379.66L360.00 379.02L360.50 378.24L361.00 377.75L361.50 377.32L362.00 376.90L362.50 376.47L363.00 375.88L363.50 375.28L364.00 374.66L364.25 374.66L364.25 369.60L364.50 369.60L364.75 369.60L364.75 364.69L365.00 364.69L365.50 364.25L366.00 363.82L366.50 363.43L367.00 363.03L367.25 363.03L367.25 372.12L367.50 372.12L368.00 371.86L368.50 371.59L368.75 371.59L368.75 361.74L369.00 361.74L369.50 361.95L370.00 362.28L370.50 362.70L371.00 363.11L371.50 363.26L372.00 363.45L372.50 363.85L373.00 364.39L373.50 364.83L374.00 364.81L374.25 364.81L374.25 371.77L374.50 371.77L374.75 371.77L374.75 364.78L375.00 364.78L375.50 364.72L376.00 364.65L376.50 364.59L377.00 364.53L377.50 364.45L378.00 364.37L378.50 364.30L379.00 364.07L379.50 363.81L380.00 363.54L380.50 363.28L381.00 362.98L381.50 362.68L382.00 362.38L382.50 362.26L383.00 362.14L383.50 362.03L384.00 362.21L384.50 362.59L385.00 362.97L385.50 363.40L386.00 363.65L386.50 363.88L387.00 364.11L387.50 364.58L388.00 365.09L388.50 365.59L389.00 366.14L389.50 366.58L390.00 367.03L390.50 367.62L391.00 368.21L391.50 369.07L391.75 369.07L391.75 374.01L392.00 374.01L392.25 374.01L392.25 368.48L392.50 368.48L393.00 367.83L393.50 367.23L394.00 366.70L394.50 366.16L395.00 365.63L395.50 365.81L396.00 366.00L396.50 365.93L397.00 365.47L397.50 365.06L398.00 364.74L398.50 364.67L399.00 365.00L399.50 365.33L400.00 365.58L400.50 365.84L401.00 366.10L401.50 365.61L402.00 365.13L402.50 364.79L403.00 364.28L403.50 364.32L404.00 364.36L404.50 364.34L405.00 364.31L405.50 364.27L406.00 364.22L406.50 364.46L407.00 364.70L407.50 365.13L408.00 365.53L408.25 365.53L408.25 374.54L408.50 374.54L408.75 374.54L408.75 366.12L409.00 366.12L409.50 366.26L410.00 365.87L410.50 365.48L411.00 365.09L411.50 364.76L412.00 364.41L412.50 364.07L413.00 363.73L413.50 363.41L414.00 363.35L414.50 363.45L415.00 363.24L415.50 363.04L416.00 362.83L416.50 362.53L417.00 362.30L417.50 362.20L418.00 362.20L418.50 362.45L418.75 362.45L418.75 365.67L419.00 365.67L419.25 365.67L419.25 372.28L419.50 372.28L419.75 372.28L419.75 365.58L420.00 365.58L420.50 363.18L421.00 363.26L421.50 363.35L422.00 363.44L422.50 363.53L423.00 363.63L423.50 363.76L424.00 363.89L424.50 364.02L424.75 364.02L424.75 369.57L425.00 369.57L425.50 369.33L425.75 369.33L425.75 363.88L426.00 363.88L426.50 362.89L427.00 362.54L427.50 362.62L428.00 362.70L428.50 362.92L429.00 363.05L429.50 363.14L430.00 363.24L430.50 363.31L431.00 363.38L431.50 363.49L432.00 363.60L432.50 365.95L432.75 365.95L432.75 369.38L433.00 369.38L433.25 369.38L433.25 363.37L433.50 363.37L434.00 363.38L434.50 363.36L435.00 363.34L435.50 363.36L436.00 363.55L436.50 363.75L437.00 363.97L437.50 364.18L438.00 364.39L438.50 364.60L439.00 364.80L439.50 365.49L440.00 368.13L440.50 368.18L441.00 368.23L441.50 368.28L442.00 366.06L442.50 366.15L443.00 366.18L443.50 366.25L444.00 366.37L444.50 366.49L445.00 366.60L445.50 366.67L446.00 366.75L446.50 366.84L447.00 366.99L447.25 366.99L447.25 370.62L447.50 370.62L447.75 370.62L447.75 367.01L448.00 367.01L448.50 366.91L449.00 366.70L449.50 366.56L450.00 366.45L450.50 366.33L450.75 366.33L450.75 370.73L451.00 370.73L451.25 370.73L451.25 366.16L451.50 366.16L452.00 366.10L452.50 366.07L453.00 366.03L453.50 366.00L454.00 365.92L454.50 365.79L455.00 365.60L455.50 365.42L456.00 365.23L456.50 365.23L457.00 365.23L457.50 365.22L458.00 365.22L458.50 365.21L459.00 365.36L459.50 365.47L460.00 365.58L460.50 365.70L461.00 365.81L461.50 365.85L462.00 365.86L462.50 365.87L463.00 365.89L463.50 365.90L464.00 365.92L464.50 365.93L465.00 365.81L465.50 365.66L466.00 365.51L466.50 365.35L467.00 365.20L467.50 365.07L468.00 364.95L468.50 364.77L469.00 364.64L469.50 364.68L469.75 364.68L469.75 371.23L470.00 371.23L470.25 371.23L470.25 364.84L470.50 364.84L471.00 364.95L471.50 365.09L472.00 365.23L472.50 365.34L473.00 365.45L473.50 365.45L474.00 365.44L474.50 365.29L475.00 365.12L475.50 364.87L476.00 364.64L476.50 364.41L477.00 364.46L477.50 364.57L478.00 364.68L478.50 364.73L479.00 364.77L479.50 364.82L480.00 364.86L480.50 364.85L481.00 364.84L481.50 364.83L482.00 364.81L482.50 364.78L483.00 364.75L483.50 364.72L484.00 364.69L484.50 364.61L485.00 364.53L485.50 364.46L486.00 364.40L486.50 364.33L487.00 364.26L487.50 364.23L488.00 364.20L488.50 364.15L489.00 364.10L489.50 364.05L490.00 364.01L490.50 363.99L491.00 364.02L491.50 364.05L492.00 364.07L492.50 364.10L493.00 364.13L493.50 364.18L494.00 364.23L494.50 364.28L495.00 364.33L495.50 364.29L496.00 364.25L496.50 364.23L497.00 364.21L497.50 364.09L498.00 363.95L498.50 363.81L499.00 363.69L499.50 363.72L500.00 363.74L500.50 363.77L501.00 363.80L501.50 363.94L502.00 364.19L502.50 364.44L503.00 364.69L503.50 364.94L504.00 365.09L504.50 365.21L505.00 365.33L505.50 365.46L506.00 365.55L506.50 365.63L507.00 365.77L507.50 365.91L508.00 366.05L508.50 366.19L509.00 366.33L509.50 366.40L510.00 366.46L510.50 366.52L511.00 366.58L511.50 366.62L511.75 366.62L511.75 373.05L512.00 373.05L512.50 373.07L513.00 373.09L513.50 372.95L513.75 372.95L513.75 366.72L514.00 366.72L514.50 366.71L515.00 366.70L515.50 366.68L515.75 366.68L515.75 372.27L516.00 372.27L516.50 371.75L517.00 371.23L517.50 370.69L518.00 370.53L518.50 370.63L519.00 370.72L519.50 370.98L520.00 371.22L520.50 371.34L521.00 371.47L521.50 371.59L522.00 371.56L522.50 371.08L523.00 370.60L523.50 370.11L524.00 369.91L524.50 369.85L525.00 369.78L525.50 369.61L526.00 369.44L526.50 369.26L527.00 369.37L527.25 369.37L527.25 374.74L527.50 374.74L528.00 374.66L528.50 374.58L528.75 374.58L528.75 370.03L529.00 370.03L529.50 370.46L530.00 370.89L530.50 371.18L531.00 371.46L531.25 371.46L531.25 375.14L531.50 375.14L532.00 375.32L532.50 375.66L533.00 376.00L533.50 376.25L534.00 376.45L534.50 376.53L534.75 376.53L534.75 371.40L535.00 371.40L535.50 370.59L536.00 369.89L536.50 369.20L537.00 368.78L537.50 368.33L538.00 367.95L538.25 367.95L538.25 375.38L538.50 375.38L539.00 375.28L539.50 375.19L539.75 375.19L539.75 367.02L540.00 367.02L540.50 366.87L541.00 366.73L541.50 366.72L542.00 366.75L542.25 366.75L542.25 374.82L542.50 374.82L542.75 374.82L542.75 366.81L543.00 366.81L543.25 366.81L543.25 374.72L543.50 374.72L543.75 374.72L543.75 366.90L544.00 366.90L544.50 366.98L545.00 367.06L545.50 367.14L546.00 367.32L546.50 367.50L546.75 367.50L546.75 374.64L547.00 374.64L547.25 374.64L547.25 367.71L547.50 367.71L547.75 367.71L547.75 374.66L548.00 374.66L548.25 374.66L548.25 367.76L548.50 367.76L549.00 367.79L549.50 367.82L550.00 367.85L550.50 367.90L551.00 367.83L551.50 367.72L552.00 367.61L552.50 367.50L552.75 367.50L552.75 375.11L553.00 375.11L553.50 375.18L553.75 375.18L553.75 367.18L554.00 367.18L554.25 367.18L554.25 375.35L554.50 375.35L554.75 375.35L554.75 367.00L555.00 367.00L555.25 367.00L555.25 375.49L555.50 375.49L555.75 375.49L555.75 366.82L556.00 366.82L556.50 366.73L557.00 366.63L557.50 366.50L557.75 366.50L557.75 375.72L558.00 375.72L558.25 375.72L558.25 366.23L558.50 366.23L558.75 366.23L558.75 375.69L559.00 375.69L559.25 375.69L559.25 365.92L559.50 365.92L560.00 365.77L560.50 365.62L561.00 365.46L561.50 365.31L562.00 365.30L562.50 365.42L563.00 365.54L563.50 365.66L563.75 365.66L563.75 375.60L564.00 375.60L564.50 375.61L565.00 375.61L565.50 375.62L566.00 375.63L566.50 375.66L566.75 375.66L566.75 366.33L567.00 366.33L567.50 366.44L568.00 366.43L568.50 366.33L568.75 366.33L568.75 375.82L569.00 375.82L569.50 375.85L570.00 375.88L570.50 375.89L571.00 375.89L571.25 375.89L571.25 365.69L571.50 365.69L572.00 365.57L572.50 365.46L573.00 365.37L573.50 365.36L573.75 365.36L573.75 375.93L574.00 375.93L574.50 375.94L575.00 375.95L575.50 375.96L576.00 375.97L576.25 375.97L576.25 365.36L576.50 365.36L577.00 365.35L577.50 365.33L578.00 365.31L578.50 365.29L579.00 365.28L579.50 365.18L580.00 365.08L580.50 364.98L581.00 364.88L581.25 364.88L581.25 376.09L581.50 376.09L581.75 376.09L581.75 364.51L582.00 364.51L582.25 364.51L582.25 375.62L582.50 375.62L583.00 375.68L583.50 376.19L584.00 376.59L584.50 376.82L585.00 377.05L585.50 377.28L586.00 377.33L586.50 377.27L586.75 377.27L586.75 365.63L587.00 365.63L587.25 365.63L587.25 376.90L587.50 376.90L588.00 376.60L588.50 376.27L589.00 376.03L589.50 375.80L589.75 375.80L589.75 364.84L590.00 364.84L590.25 364.84L590.25 375.48L590.50 375.48L590.75 375.48L590.75 365.09L591.00 365.09L591.50 365.40L591.75 365.40L591.75 375.67L592.00 375.67L592.25 375.67L592.25 365.73L592.50 365.73L593.00 365.63L593.50 365.52L594.00 365.42L594.25 365.42L594.25 375.37L594.50 375.37L594.75 375.37L594.75 365.29L595.00 365.29L595.25 365.29L595.25 375.39L595.50 375.39L595.75 375.39L595.75 365.26L596.00 365.26L596.50 365.24L597.00 365.20L597.25 365.20L597.25 375.51L597.50 375.51L597.75 375.51L597.75 364.96L598.00 364.96L598.25 364.96L598.25 375.43L598.50 375.43L598.75 375.43L598.75 364.57L599.00 364.57L599.50 364.28L600.00 364.00L600.25 364.00L600.25 374.93L600.50 374.93L600.75 374.93L600.75 363.66L601.00 363.66L601.50 363.85L602.00 364.13L602.50 364.39L602.75 364.39L602.75 376.34L603.00 376.34L603.25 376.34L603.25 364.84L603.50 364.84L603.75 364.84L603.75 376.42L604.00 376.42L604.25 376.42L604.25 364.41L604.50 364.41L605.00 364.09L605.50 363.86L606.00 363.70L606.50 363.66L606.75 363.66L606.75 373.01L607.00 373.01L607.50 373.25L608.00 373.63L608.50 373.98L609.00 374.22L609.50 374.47L610.00 374.71L610.50 374.96L611.00 375.04L611.50 375.07L612.00 375.11L612.50 375.15L613.00 375.19L613.50 375.16L614.00 375.13L614.50 375.10L615.00 375.07L615.50 375.02L616.00 375.01L616.50 375.00L617.00 374.99L617.50 375.00L618.00 375.09L618.50 375.18L619.00 375.27L619.50 375.36L620.00 375.42L620.50 375.49L621.00 375.55L621.50 375.59L622.00 375.53L622.50 375.38L623.00 375.24L623.50 375.10L624.00 374.95L624.50 374.82L625.00 374.68L625.50 374.56L626.00 374.44L626.50 374.32L627.00 374.20L627.50 374.14L628.00 374.07L628.50 374.00L629.00 373.93L629.50 373.68L630.00 372.67L630.25 372.67L630.25 364.44L630.50 364.44L630.75 364.44L630.75 372.54L631.00 372.54L631.50 373.39L632.00 373.99L632.50 373.97L633.00 373.95L633.50 373.94L634.00 373.93L634.50 373.92L635.00 373.91L635.50 373.94L636.00 373.97L636.50 374.04L637.00 374.18L637.50 374.19L637.75 374.19L637.75 365.57L638.00 365.57L638.50 364.98L639.00 364.44L639.50 364.47L640.00 364.63L640.50 364.79L641.00 365.06L641.25 365.06L641.25 373.40L641.50 373.40L642.00 373.25L642.50 372.77L642.75 372.77L642.75 364.25L643.00 364.25L643.50 363.98L644.00 364.24L644.50 364.50L644.75 364.50L644.75 373.03L645.00 373.03L645.25 373.03L645.25 364.87L645.50 364.87L646.00 365.07L646.50 364.91L647.00 364.76L647.50 364.64L648.00 364.53L648.50 364.43" fill="none" stroke="#100600" stroke-width="0.75" stroke-linejoin="round"/><path d="M81.50 374.63L82.00 374.60L82.50 374.56L82.75 374.56M82.75 367.11L83.00 367.11L83.50 367.12L84.00 367.14L84.25 367.14M84.25 374.20L84.50 374.20L84.75 374.20M84.75 367.21L85.00 367.21L85.50 367.27L86.00 367.32L86.50 367.38L87.00 367.40L87.50 367.43L88.00 367.43L88.25 367.43M88.25 373.68L88.50 373.68L89.00 373.69L89.50 373.69L90.00 373.69L90.50 373.71L91.00 373.72L91.25 373.72M91.25 366.98L91.50 366.98L92.00 366.92L92.50 366.91L93.00 366.92L93.50 366.93L93.75 366.93M93.75 373.86L94.00 373.86L94.50 373.89L95.00 373.92L95.25 373.92M95.25 366.95L95.50 366.95L95.75 366.95M95.75 374.01L96.00 374.01L96.50 374.06L97.00 374.10L97.50 374.15L98.00 374.20L98.50 374.24L99.00 374.29L99.50 374.33L100.00 374.38L100.50 374.43L101.00 374.47L101.25 374.47M101.25 366.41L101.50 366.41L102.00 366.40L102.25 366.40M102.25 374.61L102.50 374.61L103.00 374.66L103.50 374.71L104.00 374.69L104.50 374.64L105.00 374.58L105.25 374.58M105.25 365.97L105.50 365.97L105.75 365.97M105.75 373.43L106.00 373.43L106.25 373.43M106.25 364.61L106.50 364.61L106.75 364.61M106.75 373.70L107.00 373.70L107.25 373.70M107.25 364.67L107.50 364.67L107.75 364.67M107.75 372.28L108.00 372.28L108.25 372.28M108.25 364.60L108.50 364.60L108.75 364.60M108.75 373.45L109.00 373.45L109.50 372.83L109.75 372.83M109.75 363.98L110.00 363.98L110.50 363.97L111.00 363.96L111.25 363.96M111.25 372.19L111.50 372.19L111.75 372.19M111.75 363.94L112.00 363.94L112.25 363.94M112.25 372.15L112.50 372.15L112.75 372.15M112.75 363.84L113.00 363.84L113.50 363.78L114.00 363.72L114.50 363.75L115.00 363.78L115.50 363.79L116.00 363.80L116.50 363.98L117.00 364.16L117.50 364.34L118.00 364.38L118.50 364.20L119.00 363.70L119.50 363.26L120.00 363.25L120.50 363.25L121.00 363.27L121.50 363.33L122.00 363.39L122.50 363.45L123.00 363.51L123.50 363.52L124.00 363.53L124.50 363.59L125.00 363.65L125.50 363.59L126.00 363.53L126.50 363.40L127.00 363.39L127.50 363.38L128.00 363.57L128.50 363.87L129.00 364.18L129.50 364.16L130.00 364.13L130.50 364.45L131.00 364.76L131.50 365.08L132.00 365.30L132.50 365.53L133.00 365.75L133.50 365.98L134.00 366.21L134.50 366.43L135.00 366.36L135.50 366.20L136.00 366.05L136.50 365.94L137.00 365.83L137.50 365.73L138.00 365.63L138.50 365.64L139.00 365.65L139.50 365.67L140.00 365.68L140.50 365.63L141.00 365.59L141.50 365.55L142.00 365.57L142.50 365.59L143.00 365.61L143.50 365.61L144.00 365.60L144.50 365.61L145.00 365.63L145.50 365.64L146.00 365.65L146.50 365.71L147.00 365.78L147.50 365.86L148.00 365.93L148.50 366.00L149.00 366.08L149.50 366.15L150.00 366.22L150.25 366.22M150.25 373.64L150.50 373.64L151.00 373.76L151.25 373.76M151.25 366.46L151.50 366.46L152.00 366.37L152.50 366.18L153.00 365.98L153.50 365.80L154.00 365.61L154.50 365.43L155.00 365.25L155.50 365.31L156.00 365.38L156.50 365.46L157.00 365.53L157.50 365.38L158.00 365.22L158.50 365.06L158.75 365.06M158.75 373.24L159.00 373.24L159.50 373.31L160.00 373.38L160.25 373.38M160.25 365.43L160.50 365.43L161.00 365.53L161.50 365.58L162.00 365.63L162.50 365.67L163.00 365.72L163.50 365.71L164.00 365.83L164.50 366.03L165.00 366.24L165.50 366.41L166.00 366.58L166.50 366.56L167.00 366.55L167.50 366.47L168.00 366.38L168.50 366.39L169.00 366.39L169.50 366.39L170.00 366.40L170.50 366.49L171.00 366.30L171.50 366.04L172.00 365.79L172.50 365.64L173.00 365.48L173.50 365.27L173.75 365.27M173.75 373.98L174.00 373.98L174.50 373.85L175.00 373.76L175.25 373.76M175.25 365.26L175.50 365.26L176.00 365.39L176.50 365.49L177.00 365.73L177.50 365.97L177.75 365.97M177.75 374.38L178.00 374.38L178.50 374.55L178.75 374.55M178.75 366.63L179.00 366.63L179.25 366.63M179.25 374.90L179.50 374.90L180.00 375.07L180.25 375.07M180.25 367.34L180.50 367.34L180.75 367.34M180.75 375.36L181.00 375.36L181.50 375.26L181.75 375.26M181.75 367.32L182.00 367.32L182.25 367.32M182.25 375.05L182.50 375.05L182.75 375.05M182.75 367.11L183.00 367.11L183.50 367.20L184.00 367.31L184.50 367.42L185.00 367.54L185.25 367.54M185.25 375.22L185.50 375.22L185.75 375.22M185.75 367.48L186.00 367.48L186.50 367.44L186.75 367.44M186.75 374.99L187.00 374.99L187.25 374.99M187.25 367.37L187.50 367.37L187.75 367.37M187.75 374.82L188.00 374.82L188.50 374.73L189.00 374.63L189.50 374.42L190.00 374.21L190.50 374.15L191.00 374.20L191.50 374.17L192.00 373.84L192.50 373.48L193.00 372.98L193.50 372.14L194.00 371.46L194.50 370.78L195.00 370.73L195.50 370.68L196.00 370.88L196.50 371.20L197.00 371.68L197.50 372.18L198.00 372.80L198.25 372.80M198.25 365.79L198.50 365.79L199.00 366.06L199.50 366.33L200.00 366.38L200.50 366.43L201.00 366.48L201.25 366.48M201.25 374.26L201.50 374.26L202.00 374.41L202.50 374.52L203.00 374.54L203.50 374.77L204.00 375.01L204.50 375.18L205.00 374.67L205.50 374.16L206.00 373.96L206.50 373.79L207.00 373.69L207.50 373.87L208.00 374.05L208.50 374.05L209.00 374.17L209.50 374.33L210.00 374.47L210.50 374.72L211.00 374.96L211.50 375.11L212.00 375.23L212.50 375.33L213.00 375.43L213.50 375.37L214.00 375.31L214.50 375.24L215.00 374.84L215.50 374.47L216.00 374.19L216.50 373.91L217.00 373.63L217.50 373.36L217.75 373.36M217.75 365.21L218.00 365.21L218.25 365.21M218.25 372.82L218.50 372.82L219.00 372.50L219.50 372.18L220.00 371.77L220.25 371.77M220.25 299.62L220.50 299.62L220.75 299.62M220.75 371.81L221.00 371.81L221.50 371.97L222.00 372.15L222.50 372.24L223.00 372.20L223.50 372.15L224.00 371.86L224.50 371.57L225.00 371.28L225.50 370.95L226.00 370.63L226.50 370.33L227.00 370.01L227.50 369.78L228.00 369.91L228.50 370.11L229.00 370.82L229.50 371.53L230.00 372.66L230.50 373.79L231.00 374.77L231.50 374.83L232.00 373.64L232.50 372.73L233.00 372.35L233.50 372.22L234.00 372.65L234.50 373.13L235.00 373.61L235.50 374.12L236.00 374.49L236.50 374.86L237.00 375.15L237.50 375.02L238.00 374.89L238.50 374.75L239.00 374.55L239.50 374.33L240.00 374.06L240.50 373.87L241.00 373.69L241.50 373.50L242.00 373.41L242.25 373.41M242.25 368.22L242.50 368.22L243.00 368.16L243.25 368.16M243.25 373.23L243.50 373.23L244.00 373.26L244.50 373.30L245.00 373.33L245.25 373.33M245.25 367.70L245.50 367.70L246.00 367.59L246.25 367.59M246.25 373.36L246.50 373.36L247.00 373.36L247.50 373.37L248.00 373.38L248.25 373.38M248.25 367.26L248.50 367.26L249.00 367.20L249.25 367.20M249.25 373.74L249.50 373.74L250.00 373.86L250.50 374.00L251.00 374.14L251.50 374.26L252.00 374.29L252.50 374.33L253.00 374.36L253.50 374.02L254.00 373.64L254.50 373.26L255.00 373.05L255.50 372.83L256.00 372.61L256.50 372.39L257.00 372.21L257.50 372.10L258.00 372.19L258.50 372.29L259.00 372.38L259.50 372.48L260.00 372.58L260.50 372.68L261.00 372.78L261.50 372.96L262.00 373.14L262.50 373.33L263.00 373.30L263.50 373.19L264.00 372.94L264.50 372.64L265.00 372.19L265.50 371.52L266.00 371.14L266.50 371.11L267.00 371.46L267.50 372.46L268.00 373.27L268.50 373.78L269.00 373.63L269.50 373.32L270.00 373.00L270.50 372.57L271.00 372.13L271.50 371.92L271.75 371.92M271.75 363.13L272.00 363.13L272.25 363.13M272.25 371.92L272.50 371.92L273.00 372.13L273.50 372.60L274.00 373.07L274.25 373.07M274.25 364.54L274.50 364.54L275.00 364.60L275.25 364.60M275.25 373.34L275.50 373.34L276.00 373.63L276.50 373.92L277.00 374.21L277.50 374.35L278.00 374.48L278.50 374.60L279.00 374.73L279.50 374.93L280.00 375.10L280.50 375.26L281.00 375.43L281.50 375.50L281.75 375.50M281.75 364.97L282.00 364.97L282.25 364.97M282.25 375.20L282.50 375.20L283.00 375.10L283.25 375.10M283.25 364.90L283.50 364.90L283.75 364.90M283.75 374.88L284.00 374.88L284.25 374.88M284.25 364.79L284.50 364.79L285.00 364.75L285.50 364.70L286.00 364.66L286.50 364.59L287.00 364.52L287.50 364.45L287.75 364.45M287.75 374.65L288.00 374.65L288.25 374.65M288.25 364.26L288.50 364.26L288.75 364.26M288.75 374.49L289.00 374.49L289.25 374.49M289.25 364.01L289.50 364.01L290.00 363.88L290.50 364.02L291.00 364.16L291.50 364.30L292.00 364.53L292.25 364.53M292.25 375.40L292.50 375.40L293.00 375.67L293.50 375.89L294.00 376.10L294.50 376.22L295.00 376.21L295.50 376.20L296.00 376.19L296.50 376.17L297.00 376.16L297.50 376.06L298.00 375.95L298.50 375.87L299.00 375.79L299.50 375.80L300.00 375.80L300.50 375.81L301.00 375.81L301.50 375.78L302.00 375.75L302.50 375.71L303.00 375.67L303.50 375.63L304.00 375.59L304.50 375.53L305.00 375.47L305.50 375.42L306.00 375.36L306.25 375.36M306.25 365.52L306.50 365.52L307.00 365.59L307.50 365.65L308.00 365.71L308.25 365.71M308.25 375.71L308.50 375.71L309.00 375.85L309.50 375.99L309.75 375.99M309.75 366.16L310.00 366.16L310.50 366.25L311.00 366.34L311.50 366.43L312.00 366.53L312.50 366.61L313.00 366.57L313.50 366.50L314.00 366.43L314.25 366.43M314.25 376.57L314.50 376.57L315.00 376.53L315.25 376.53M315.25 366.19L315.50 366.19L316.00 366.11L316.25 366.11M316.25 376.28L316.50 376.28L317.00 376.20L317.25 376.20M317.25 365.91L317.50 365.91L317.75 365.91M317.75 376.16L318.00 376.16L318.25 376.16M318.25 365.86L318.50 365.86L319.00 365.84L319.50 365.82L320.00 365.79L320.50 365.82L321.00 365.90L321.50 365.99L322.00 366.08L322.25 366.08M322.25 376.49L322.50 376.49L323.00 376.57L323.25 376.57M323.25 366.32L323.50 366.32L323.75 366.32M323.75 376.74L324.00 376.74L324.25 376.74M324.25 366.48L324.50 366.48L325.00 366.57L325.50 366.62L326.00 366.58L326.50 366.55L327.00 366.51L327.50 366.47L328.00 366.43L328.25 366.43M328.25 376.67L328.50 376.67L328.75 376.67M328.75 366.35L329.00 366.35L329.25 366.35M329.25 376.56L329.50 376.56L329.75 376.56M329.75 366.26L330.00 366.26L330.50 366.23L331.00 366.19L331.50 366.17L331.75 366.17M331.75 376.35L332.00 376.35L332.50 376.32L332.75 376.32M332.75 366.13L333.00 366.13L333.50 366.12L334.00 366.05L334.50 365.99L334.75 365.99M334.75 376.03L335.00 376.03L335.25 376.03M335.25 365.97L335.50 365.97L335.75 365.97M335.75 375.74L336.00 375.74L336.25 375.74M336.25 365.71L336.50 365.71L337.00 365.53L337.50 367.97L337.75 367.97M337.75 374.56L338.00 374.56L338.50 370.99L339.00 369.85L339.50 368.84L340.00 367.83L340.50 367.59L341.00 367.36L341.50 367.12L342.00 366.88L342.50 366.72L343.00 366.56L343.50 366.40L344.00 366.31L344.50 366.28L345.00 366.33L345.50 366.48L346.00 366.65L346.50 366.87L347.00 367.08L347.50 367.11L348.00 367.13L348.50 367.18L349.00 367.39L349.50 367.69L350.00 368.32L350.50 368.83L351.00 369.97L351.50 371.14L352.00 372.51L352.50 375.03L353.00 377.52L353.50 379.67L354.00 381.12L354.50 382.08L355.00 382.46L355.50 382.65L356.00 382.13L356.50 382.41L357.00 383.21L357.50 382.63L358.00 381.99L358.50 380.93L359.00 380.31L359.50 379.66L360.00 379.02L360.50 378.24L361.00 377.75L361.50 377.32L362.00 376.90L362.50 376.47L363.00 375.88L363.50 375.28L364.00 374.66L364.25 374.66M364.25 369.60L364.50 369.60L364.75 369.60M364.75 364.69L365.00 364.69L365.50 364.25L366.00 363.82L366.50 363.43L367.00 363.03L367.25 363.03M367.25 372.12L367.50 372.12L368.00 371.86L368.50 371.59L368.75 371.59M368.75 361.74L369.00 361.74L369.50 361.95L370.00 362.28L370.50 362.70L371.00 363.11L371.50 363.26L372.00 363.45L372.50 363.85L373.00 364.39L373.50 364.83L374.00 364.81L374.25 364.81M374.25 371.77L374.50 371.77L374.75 371.77M374.75 364.78L375.00 364.78L375.50 364.72L376.00 364.65L376.50 364.59L377.00 364.53L377.50 364.45L378.00 364.37L378.50 364.30L379.00 364.07L379.50 363.81L380.00 363.54L380.50 363.28L381.00 362.98L381.50 362.68L382.00 362.38L382.50 362.26L383.00 362.14L383.50 362.03L384.00 362.21L384.50 362.59L385.00 362.97L385.50 363.40L386.00 363.65L386.50 363.88L387.00 364.11L387.50 364.58L388.00 365.09L388.50 365.59L389.00 366.14L389.50 366.58L390.00 367.03L390.50 367.62L391.00 368.21L391.50 369.07L391.75 369.07M391.75 374.01L392.00 374.01L392.25 374.01M392.25 368.48L392.50 368.48L393.00 367.83L393.50 367.23L394.00 366.70L394.50 366.16L395.00 365.63L395.50 365.81L396.00 366.00L396.50 365.93L397.00 365.47L397.50 365.06L398.00 364.74L398.50 364.67L399.00 365.00L399.50 365.33L400.00 365.58L400.50 365.84L401.00 366.10L401.50 365.61L402.00 365.13L402.50 364.79L403.00 364.28L403.50 364.32L404.00 364.36L404.50 364.34L405.00 364.31L405.50 364.27L406.00 364.22L406.50 364.46L407.00 364.70L407.50 365.13L408.00 365.53L408.25 365.53M408.25 374.54L408.50 374.54L408.75 374.54M408.75 366.12L409.00 366.12L409.50 366.26L410.00 365.87L410.50 365.48L411.00 365.09L411.50 364.76L412.00 364.41L412.50 364.07L413.00 363.73L413.50 363.41L414.00 363.35L414.50 363.45L415.00 363.24L415.50 363.04L416.00 362.83L416.50 362.53L417.00 362.30L417.50 362.20L418.00 362.20L418.50 362.45L419.00 365.67L419.25 365.67M419.25 372.28L419.50 372.28L419.75 372.28M419.75 365.58L420.00 365.58L420.50 363.18L421.00 363.26L421.50 363.35L422.00 363.44L422.50 363.53L423.00 363.63L423.50 363.76L424.00 363.89L424.50 364.02L424.75 364.02M424.75 369.57L425.00 369.57L425.50 369.33L425.75 369.33M425.75 363.88L426.00 363.88L426.50 362.89L427.00 362.54L427.50 362.62L428.00 362.70L428.50 362.92L429.00 363.05L429.50 363.14L430.00 363.24L430.50 363.31L431.00 363.38L431.50 363.49L432.00 363.60L432.50 365.95L433.00 369.38L433.25 369.38M433.25 363.37L433.50 363.37L434.00 363.38L434.50 363.36L435.00 363.34L435.50 363.36L436.00 363.55L436.50 363.75L437.00 363.97L437.50 364.18L438.00 364.39L438.50 364.60L439.00 364.80L439.50 365.49L440.00 368.13L440.50 368.18L441.00 368.23L441.50 368.28L442.00 366.06L442.50 366.15L443.00 366.18L443.50 366.25L444.00 366.37L444.50 366.49L445.00 366.60L445.50 366.67L446.00 366.75L446.50 366.84L447.00 366.99L447.50 370.62L448.00 367.01L448.50 366.91L449.00 366.70L449.50 366.56L450.00 366.45L450.50 366.33L450.75 366.33M450.75 370.73L451.00 370.73L451.25 370.73M451.25 366.16L451.50 366.16L452.00 366.10L452.50 366.07L453.00 366.03L453.50 366.00L454.00 365.92L454.50 365.79L455.00 365.60L455.50 365.42L456.00 365.23L456.50 365.23L457.00 365.23L457.50 365.22L458.00 365.22L458.50 365.21L459.00 365.36L459.50 365.47L460.00 365.58L460.50 365.70L461.00 365.81L461.50 365.85L462.00 365.86L462.50 365.87L463.00 365.89L463.50 365.90L464.00 365.92L464.50 365.93L465.00 365.81L465.50 365.66L466.00 365.51L466.50 365.35L467.00 365.20L467.50 365.07L468.00 364.95L468.50 364.77L469.00 364.64L469.50 364.68L469.75 364.68M469.75 371.23L470.00 371.23L470.25 371.23M470.25 364.84L470.50 364.84L471.00 364.95L471.50 365.09L472.00 365.23L472.50 365.34L473.00 365.45L473.50 365.45L474.00 365.44L474.50 365.29L475.00 365.12L475.50 364.87L476.00 364.64L476.50 364.41L477.00 364.46L477.50 364.57L478.00 364.68L478.50 364.73L479.00 364.77L479.50 364.82L480.00 364.86L480.50 364.85L481.00 364.84L481.50 364.83L482.00 364.81L482.50 364.78L483.00 364.75L483.50 364.72L484.00 364.69L484.50 364.61L485.00 364.53L485.50 364.46L486.00 364.40L486.50 364.33L487.00 364.26L487.50 364.23L488.00 364.20L488.50 364.15L489.00 364.10L489.50 364.05L490.00 364.01L490.50 363.99L491.00 364.02L491.50 364.05L492.00 364.07L492.50 364.10L493.00 364.13L493.50 364.18L494.00 364.23L494.50 364.28L495.00 364.33L495.50 364.29L496.00 364.25L496.50 364.23L497.00 364.21L497.50 364.09L498.00 363.95L498.50 363.81L499.00 363.69L499.50 363.72L500.00 363.74L500.50 363.77L501.00 363.80L501.50 363.94L502.00 364.19L502.50 364.44L503.00 364.69L503.50 364.94L504.00 365.09L504.50 365.21L505.00 365.33L505.50 365.46L506.00 365.55L506.50 365.63L507.00 365.77L507.50 365.91L508.00 366.05L508.50 366.19L509.00 366.33L509.50 366.40L510.00 366.46L510.50 366.52L511.00 366.58L511.50 366.62L511.75 366.62M511.75 373.05L512.00 373.05L512.50 373.07L513.00 373.09L513.50 372.95L513.75 372.95M513.75 366.72L514.00 366.72L514.50 366.71L515.00 366.70L515.50 366.68L515.75 366.68M515.75 372.27L516.00 372.27L516.50 371.75L517.00 371.23L517.50 370.69L518.00 370.53L518.50 370.63L519.00 370.72L519.50 370.98L520.00 371.22L520.50 371.34L521.00 371.47L521.50 371.59L522.00 371.56L522.50 371.08L523.00 370.60L523.50 370.11L524.00 369.91L524.50 369.85L525.00 369.78L525.50 369.61L526.00 369.44L526.50 369.26L527.00 369.37L527.25 369.37M527.25 374.74L527.50 374.74L528.00 374.66L528.50 374.58L528.75 374.58M528.75 370.03L529.00 370.03L529.50 370.46L530.00 370.89L530.50 371.18L531.00 371.46L531.50 375.14L532.00 375.32L532.50 375.66L533.00 376.00L533.50 376.25L534.00 376.45L534.50 376.53L534.75 376.53M534.75 371.40L535.00 371.40L535.50 370.59L536.00 369.89L536.50 369.20L537.00 368.78L537.50 368.33L538.00 367.95L538.25 367.95M538.25 375.38L538.50 375.38L539.00 375.28L539.50 375.19L539.75 375.19M539.75 367.02L540.00 367.02L540.50 366.87L541.00 366.73L541.50 366.72L542.00 366.75L542.25 366.75M542.25 374.82L542.50 374.82L542.75 374.82M542.75 366.81L543.00 366.81L543.25 366.81M543.25 374.72L543.50 374.72L543.75 374.72M543.75 366.90L544.00 366.90L544.50 366.98L545.00 367.06L545.50 367.14L546.00 367.32L546.50 367.50L546.75 367.50M546.75 374.64L547.00 374.64L547.25 374.64M547.25 367.71L547.50 367.71L547.75 367.71M547.75 374.66L548.00 374.66L548.25 374.66M548.25 367.76L548.50 367.76L549.00 367.79L549.50 367.82L550.00 367.85L550.50 367.90L551.00 367.83L551.50 367.72L552.00 367.61L552.50 367.50L552.75 367.50M552.75 375.11L553.00 375.11L553.50 375.18L553.75 375.18M553.75 367.18L554.00 367.18L554.25 367.18M554.25 375.35L554.50 375.35L554.75 375.35M554.75 367.00L555.00 367.00L555.25 367.00M555.25 375.49L555.50 375.49L555.75 375.49M555.75 366.82L556.00 366.82L556.50 366.73L557.00 366.63L557.50 366.50L557.75 366.50M557.75 375.72L558.00 375.72L558.25 375.72M558.25 366.23L558.50 366.23L558.75 366.23M558.75 375.69L559.00 375.69L559.25 375.69M559.25 365.92L559.50 365.92L560.00 365.77L560.50 365.62L561.00 365.46L561.50 365.31L562.00 365.30L562.50 365.42L563.00 365.54L563.50 365.66L563.75 365.66M563.75 375.60L564.00 375.60L564.50 375.61L565.00 375.61L565.50 375.62L566.00 375.63L566.50 375.66L566.75 375.66M566.75 366.33L567.00 366.33L567.50 366.44L568.00 366.43L568.50 366.33L568.75 366.33M568.75 375.82L569.00 375.82L569.50 375.85L570.00 375.88L570.50 375.89L571.00 375.89L571.25 375.89M571.25 365.69L571.50 365.69L572.00 365.57L572.50 365.46L573.00 365.37L573.50 365.36L573.75 365.36M573.75 375.93L574.00 375.93L574.50 375.94L575.00 375.95L575.50 375.96L576.00 375.97L576.25 375.97M576.25 365.36L576.50 365.36L577.00 365.35L577.50 365.33L578.00 365.31L578.50 365.29L579.00 365.28L579.50 365.18L580.00 365.08L580.50 364.98L581.00 364.88L581.25 364.88M581.25 376.09L581.50 376.09L581.75 376.09M581.75 364.51L582.00 364.51L582.25 364.51M582.25 375.62L582.50 375.62L583.00 375.68L583.50 376.19L584.00 376.59L584.50 376.82L585.00 377.05L585.50 377.28L586.00 377.33L586.50 377.27L586.75 377.27M586.75 365.63L587.00 365.63L587.25 365.63M587.25 376.90L587.50 376.90L588.00 376.60L588.50 376.27L589.00 376.03L589.50 375.80L589.75 375.80M589.75 364.84L590.00 364.84L590.25 364.84M590.25 375.48L590.50 375.48L590.75 375.48M590.75 365.09L591.00 365.09L591.50 365.40L591.75 365.40M591.75 375.67L592.00 375.67L592.25 375.67M592.25 365.73L592.50 365.73L593.00 365.63L593.50 365.52L594.00 365.42L594.25 365.42M594.25 375.37L594.50 375.37L594.75 375.37M594.75 365.29L595.00 365.29L595.25 365.29M595.25 375.39L595.50 375.39L595.75 375.39M595.75 365.26L596.00 365.26L596.50 365.24L597.00 365.20L597.25 365.20M597.25 375.51L597.50 375.51L597.75 375.51M597.75 364.96L598.00 364.96L598.25 364.96M598.25 375.43L598.50 375.43L598.75 375.43M598.75 364.57L599.00 364.57L599.50 364.28L600.00 364.00L600.25 364.00M600.25 374.93L600.50 374.93L600.75 374.93M600.75 363.66L601.00 363.66L601.50 363.85L602.00 364.13L602.50 364.39L602.75 364.39M602.75 376.34L603.00 376.34L603.25 376.34M603.25 364.84L603.50 364.84L603.75 364.84M603.75 376.42L604.00 376.42L604.25 376.42M604.25 364.41L604.50 364.41L605.00 364.09L605.50 363.86L606.00 363.70L606.50 363.66L606.75 363.66M606.75 373.01L607.00 373.01L607.50 373.25L608.00 373.63L608.50 373.98L609.00 374.22L609.50 374.47L610.00 374.71L610.50 374.96L611.00 375.04L611.50 375.07L612.00 375.11L612.50 375.15L613.00 375.19L613.50 375.16L614.00 375.13L614.50 375.10L615.00 375.07L615.50 375.02L616.00 375.01L616.50 375.00L617.00 374.99L617.50 375.00L618.00 375.09L618.50 375.18L619.00 375.27L619.50 375.36L620.00 375.42L620.50 375.49L621.00 375.55L621.50 375.59L622.00 375.53L622.50 375.38L623.00 375.24L623.50 375.10L624.00 374.95L624.50 374.82L625.00 374.68L625.50 374.56L626.00 374.44L626.50 374.32L627.00 374.20L627.50 374.14L628.00 374.07L628.50 374.00L629.00 373.93L629.50 373.68L630.00 372.67L630.25 372.67M630.25 364.44L630.50 364.44L630.75 364.44M630.75 372.54L631.00 372.54L631.50 373.39L632.00 373.99L632.50 373.97L633.00 373.95L633.50 373.94L634.00 373.93L634.50 373.92L635.00 373.91L635.50 373.94L636.00 373.97L636.50 374.04L637.00 374.18L637.50 374.19L637.75 374.19M637.75 365.57L638.00 365.57L638.50 364.98L639.00 364.44L639.50 364.47L640.00 364.63L640.50 364.79L641.00 365.06L641.25 365.06M641.25 373.40L641.50 373.40L642.00 373.25L642.50 372.77L642.75 372.77M642.75 364.25L643.00 364.25L643.50 363.98L644.00 364.24L644.50 364.50L644.75 364.50M644.75 373.03L645.00 373.03L645.25 373.03M645.25 364.87L645.50 364.87L646.00 365.07L646.50 364.91L647.00 364.76L647.50 364.64L648.00 364.53L648.50 364.43" fill="none" stroke="#100600" stroke-width="1.0" stroke-linejoin="round" stroke-linecap="butt"/>
<path d="M81.50 334.70L82.00 335.50L82.50 336.30L82.75 336.30L82.75 351.95L83.00 351.95L83.50 352.22L84.00 352.49L84.25 352.49L84.25 338.68L84.50 338.68L84.75 338.68L84.75 352.96L85.00 352.96L85.50 353.15L86.00 353.35L86.50 353.55L87.00 353.69L87.50 353.82L88.00 353.99L88.25 353.99L88.25 341.67L88.50 341.67L89.00 341.84L89.50 342.01L90.00 342.18L90.50 342.36L91.00 342.55L91.25 342.55L91.25 356.25L91.50 356.25L92.00 356.59L92.50 356.81L93.00 357.01L93.50 357.22L93.75 357.22L93.75 343.56L94.00 343.56L94.50 343.71L95.00 343.87L95.25 343.87L95.25 358.01L95.50 358.01L95.75 358.01L95.75 344.07L96.00 344.07L96.50 344.16L97.00 344.25L97.50 344.34L98.00 344.43L98.50 344.52L99.00 344.62L99.50 344.71L100.00 344.80L100.50 344.95L101.00 345.10L101.25 345.10L101.25 361.48L101.50 361.48L102.00 361.74L102.25 361.74L102.25 345.55L102.50 345.55L103.00 345.70L103.50 345.85L104.00 345.87L104.50 345.82L105.00 345.76L105.25 345.76L105.25 362.81L105.50 362.81L105.75 362.81L105.75 343.91L106.00 343.91L106.25 343.91L106.25 360.34L106.50 360.34L106.75 360.34L106.75 345.15L107.00 345.15L107.25 345.15L107.25 360.72L107.50 360.72L107.75 360.72L107.75 343.00L108.00 343.00L108.25 343.00L108.25 360.85L108.50 360.85L108.75 360.85L108.75 345.66L109.00 345.66L109.50 344.59L109.75 344.59L109.75 360.00L110.00 360.00L110.50 360.15L111.00 360.31L111.25 360.31L111.25 343.97L111.50 343.97L111.75 343.97L111.75 360.61L112.00 360.61L112.25 360.61L112.25 344.22L112.50 344.22L112.75 344.22L112.75 360.77L113.00 360.77L113.50 360.82L114.00 360.87L114.50 360.74L115.00 360.60L115.50 360.42L116.00 360.25L116.50 359.74L117.00 359.23L117.50 358.72L118.00 358.49L118.50 357.82L119.00 356.50L119.50 355.05L120.00 354.41L120.50 353.77L121.00 353.17L121.50 352.76L122.00 352.35L122.50 351.94L123.00 351.53L123.50 351.02L124.00 350.50L124.50 349.88L125.00 349.25L125.50 348.38L126.00 347.50L126.50 346.76L127.00 346.28L127.50 345.79L128.00 345.74L128.50 345.96L129.00 346.19L129.50 345.75L130.00 345.30L130.50 345.33L131.00 345.37L131.50 345.40L132.00 345.25L132.50 345.09L133.00 344.93L133.50 344.76L134.00 344.60L134.50 344.43L135.00 345.01L135.50 345.78L136.00 346.54L136.50 347.22L137.00 347.90L137.50 348.60L138.00 349.30L138.50 349.77L139.00 350.25L139.50 350.73L140.00 351.20L140.50 351.68L141.00 352.16L141.50 352.61L142.00 352.96L142.50 353.31L143.00 353.65L143.50 353.96L144.00 354.25L144.50 354.50L145.00 354.76L145.50 355.01L146.00 355.27L146.50 355.63L147.00 356.00L147.50 356.35L148.00 356.70L148.50 357.05L149.00 357.40L149.50 357.74L150.00 358.08L150.25 358.08L150.25 343.72L150.50 343.72L151.00 343.96L151.25 343.96L151.25 359.05L151.50 359.05L152.00 359.05L152.50 358.82L153.00 358.60L153.50 358.47L154.00 358.33L154.50 358.20L155.00 358.07L155.50 358.43L156.00 358.80L156.50 359.15L157.00 359.49L157.50 359.37L158.00 359.25L158.50 359.12L158.75 359.12L158.75 342.92L159.00 342.92L159.50 343.06L160.00 343.21L160.25 343.21L160.25 359.42L160.50 359.42L161.00 359.50L161.50 359.00L162.00 358.49L162.50 357.99L163.00 357.49L163.50 357.11L164.00 356.99L164.50 357.06L165.00 357.12L165.50 357.27L166.00 357.41L166.50 357.19L167.00 356.97L167.50 356.87L168.00 356.79L168.50 356.90L169.00 357.01L169.50 357.12L170.00 357.23L170.50 357.16L171.00 356.53L171.50 355.76L172.00 354.98L172.50 354.42L173.00 353.86L173.50 353.41L173.75 353.41L173.75 335.79L174.00 335.79L174.50 335.84L175.00 335.96L175.25 335.96L175.25 353.52L175.50 353.52L176.00 353.82L176.50 354.19L177.00 354.84L177.50 355.50L177.75 355.50L177.75 339.80L178.00 339.80L178.50 340.49L178.75 340.49L178.75 357.36L179.00 357.36L179.25 357.36L179.25 341.87L179.50 341.87L180.00 342.56L180.25 342.56L180.25 359.06L180.50 359.06L180.75 359.06L180.75 343.75L181.00 343.75L181.50 343.48L181.75 343.48L181.75 358.88L182.00 358.88L182.25 358.88L182.25 342.93L182.50 342.93L182.75 342.93L182.75 358.35L183.00 358.35L183.50 358.50L184.00 358.65L184.50 358.76L185.00 358.88L185.25 358.88L185.25 343.25L185.50 343.25L185.75 343.25L185.75 358.49L186.00 358.49L186.50 358.30L186.75 358.30L186.75 342.94L187.00 342.94L187.25 342.94L187.25 357.91L187.50 357.91L187.75 357.91L187.75 342.45L188.00 342.45L188.50 341.88L189.00 341.30L189.50 340.22L190.00 339.13L190.50 338.34L191.00 337.30L191.50 336.12L192.00 334.33L192.50 332.60L193.00 330.60L193.50 329.29L194.00 328.64L194.50 328.00L195.00 329.10L195.50 330.20L196.00 331.80L196.50 333.16L197.00 334.82L197.50 336.42L198.00 337.79L198.25 337.79L198.25 353.82L198.50 353.82L199.00 354.36L199.50 354.90L200.00 354.99L200.50 355.07L201.00 355.15L201.25 355.15L201.25 339.76L201.50 339.76L202.00 339.45L202.50 339.08L203.00 338.89L203.50 339.14L204.00 339.40L204.50 339.81L205.00 339.32L205.50 338.84L206.00 338.96L206.50 339.01L207.00 339.19L207.50 339.93L208.00 340.67L208.50 341.06L209.00 341.21L209.50 341.31L210.00 341.39L210.50 341.28L211.00 341.16L211.50 340.86L212.00 340.51L212.50 340.20L213.00 339.90L213.50 339.28L214.00 338.67L214.50 338.09L215.00 336.87L215.50 335.74L216.00 334.93L216.50 334.11L217.00 333.30L217.50 332.51L217.75 332.51L217.75 347.47L218.00 347.47L218.25 347.47L218.25 330.93L218.50 330.93L219.00 330.05L219.50 329.21L220.00 328.21L220.25 328.21L220.25 183.72L220.50 183.72L220.75 183.72L220.75 328.34L221.00 328.34L221.50 329.02L222.00 329.74L222.50 330.42L223.00 330.83L223.50 331.25L224.00 331.17L224.50 331.08L225.00 331.00L225.50 330.85L226.00 330.70L226.50 330.50L227.00 330.25L227.50 330.18L228.00 330.83L228.50 331.33L229.00 332.42L229.50 333.50L230.00 332.38L230.50 331.27L231.00 329.87L231.50 327.97L232.00 328.98L232.50 330.05L233.00 331.87L233.50 333.62L234.00 334.25L234.50 334.96L235.00 335.67L235.50 336.33L236.00 336.72L236.50 337.12L237.00 337.33L237.50 336.90L238.00 336.48L238.50 336.05L239.00 335.47L239.50 334.91L240.00 334.45L240.50 334.15L241.00 333.86L241.50 333.56L242.00 333.46L242.25 333.46L242.25 343.55L242.50 343.55L243.00 343.50L243.25 343.50L243.25 333.70L243.50 333.70L244.00 333.97L244.50 334.23L245.00 334.50L245.25 334.50L245.25 345.92L245.50 345.92L246.00 346.31L246.25 346.31L246.25 334.95L246.50 334.95L247.00 335.10L247.50 335.25L248.00 335.40L248.25 335.40L248.25 347.81L248.50 347.81L249.00 348.10L249.25 348.10L249.25 335.21L249.50 335.21L250.00 335.15L250.50 335.05L251.00 334.94L251.50 334.79L252.00 334.48L252.50 334.16L253.00 333.84L253.50 333.51L254.00 333.27L254.50 333.04L255.00 333.13L255.50 333.24L256.00 333.34L256.50 333.45L257.00 333.63L257.50 333.74L258.00 333.43L258.50 333.11L259.00 332.80L259.50 332.25L260.00 331.70L260.50 331.15L261.00 330.60L261.50 330.28L262.00 329.95L262.50 329.63L263.00 329.73L263.50 329.86L264.00 329.71L264.50 329.67L265.00 329.33L265.50 328.54L266.00 328.31L266.50 328.62L267.00 329.65L267.50 332.01L268.00 333.97L268.50 335.33L269.00 335.30L269.50 334.93L270.00 334.55L270.50 333.93L271.00 333.30L271.50 333.12L271.75 333.12L271.75 350.10L272.00 350.10L272.25 350.10L272.25 333.62L272.50 333.62L273.00 334.30L273.50 335.36L274.00 336.43L274.25 336.43L274.25 353.95L274.50 353.95L275.00 354.30L275.25 354.30L275.25 337.27L275.50 337.27L276.00 337.57L276.50 337.86L277.00 338.16L277.50 338.14L278.00 337.99L278.50 337.85L279.00 337.70L279.50 337.70L280.00 337.77L280.50 337.84L281.00 337.91L281.50 338.00L281.75 338.00L281.75 359.28L282.00 359.28L282.25 359.28L282.25 339.05L282.50 339.05L283.00 339.50L283.25 339.50L283.25 360.12L283.50 360.12L283.75 360.12L283.75 340.40L284.00 340.40L284.25 340.40L284.25 360.43L284.50 360.43L285.00 360.37L285.50 360.31L286.00 360.25L286.50 360.13L287.00 360.02L287.50 359.91L287.75 359.91L287.75 339.27L288.00 339.27L288.25 339.27L288.25 359.60L288.50 359.60L288.75 359.60L288.75 338.68L289.00 338.68L289.25 338.68L289.25 359.20L289.50 359.20L290.00 359.00L290.50 359.32L291.00 359.64L291.50 359.97L292.00 360.49L292.25 360.49L292.25 339.77L292.50 339.77L293.00 340.22L293.50 340.56L294.00 340.90L294.50 341.15L295.00 341.29L295.50 341.43L296.00 341.56L296.50 341.70L297.00 341.84L297.50 341.79L298.00 341.75L298.50 341.66L299.00 341.58L299.50 341.66L300.00 341.75L300.50 341.83L301.00 341.92L301.50 341.93L302.00 341.94L302.50 341.95L303.00 341.96L303.50 341.96L304.00 341.97L304.50 341.94L305.00 341.91L305.50 341.88L306.00 341.85L306.25 341.85L306.25 361.73L306.50 361.73L307.00 361.82L307.50 361.92L308.00 362.01L308.25 362.01L308.25 342.33L308.50 342.33L309.00 342.52L309.50 342.71L309.75 342.71L309.75 362.84L310.00 362.84L310.50 363.00L311.00 363.17L311.50 363.33L312.00 363.49L312.50 363.67L313.00 363.58L313.50 363.44L314.00 363.29L314.25 363.29L314.25 342.71L314.50 342.71L315.00 342.50L315.25 342.50L315.25 362.83L315.50 362.83L316.00 362.65L316.25 362.65L316.25 341.94L316.50 341.94L317.00 341.76L317.25 341.76L317.25 362.25L317.50 362.25L317.75 362.25L317.75 341.65L318.00 341.65L318.25 341.65L318.25 362.16L318.50 362.16L319.00 362.12L319.50 362.07L320.00 362.03L320.50 362.07L321.00 362.25L321.50 362.42L322.00 362.60L322.25 362.60L322.25 342.11L322.50 342.11L323.00 342.26L323.25 342.26L323.25 363.09L323.50 363.09L323.75 363.09L323.75 342.57L324.00 342.57L324.25 342.57L324.25 363.41L324.50 363.41L325.00 363.57L325.50 363.68L326.00 363.61L326.50 363.53L327.00 363.45L327.50 363.38L328.00 363.30L328.25 363.30L328.25 342.66L328.50 342.66L328.75 342.66L328.75 363.13L329.00 363.13L329.25 363.13L329.25 342.53L329.50 342.53L329.75 342.53L329.75 362.97L330.00 362.97L330.50 362.87L331.00 362.78L331.50 362.73L331.75 362.73L331.75 342.30L332.00 342.30L332.50 342.28L332.75 342.28L332.75 362.58L333.00 362.58L333.50 362.53L334.00 362.38L334.50 362.24L334.75 362.24L334.75 341.89L335.00 341.89L335.25 341.89L335.25 361.73L335.50 361.73L335.75 361.73L335.75 341.39L336.00 341.39L336.25 341.39L336.25 360.30L336.50 360.30L337.00 359.50L337.25 359.50L337.25 353.50L337.50 353.50L337.75 353.50L337.75 339.17L338.00 339.17L338.25 339.17L338.25 345.17L338.50 345.17L339.00 346.73L339.50 348.02L340.00 349.30L340.50 349.18L341.00 349.05L341.50 348.93L342.00 348.80L342.50 348.52L343.00 348.24L343.50 347.97L344.00 347.83L344.50 347.58L345.00 347.16L345.50 346.93L346.00 346.74L346.50 346.47L347.00 346.20L347.50 345.55L348.00 344.90L348.50 344.21L349.00 343.85L349.50 343.32L350.00 342.13L350.50 340.69L351.00 337.99L351.50 335.25L352.00 332.85L352.25 332.85L352.25 328.65L352.50 328.65L352.75 328.65L352.75 324.52L353.00 324.52L353.25 324.52L353.25 319.94L353.50 319.94L353.75 319.94L353.75 316.80L354.00 316.80L354.50 314.60L355.00 314.24L355.50 314.25L356.00 315.70L356.50 315.60L357.00 314.45L357.50 315.19L358.00 315.82L358.50 317.30L359.00 319.67L359.50 322.11L360.00 324.52L360.50 326.60L361.00 328.11L361.50 329.48L362.00 330.84L362.50 331.78L363.00 332.39L363.50 333.00L364.00 333.12L364.25 333.12L364.25 324.36L364.50 324.36L364.75 324.36L364.75 315.90L365.00 315.90L365.50 316.41L366.00 316.92L366.50 317.51L367.00 318.10L367.25 318.10L367.25 337.32L367.50 337.32L368.00 337.85L368.50 338.37L368.75 338.37L368.75 319.72L369.00 319.72L369.50 320.33L370.00 321.00L370.50 321.83L371.00 322.67L371.50 324.04L372.00 325.50L372.50 326.54L373.00 327.30L373.50 328.01L374.00 328.54L374.25 328.54L374.25 343.02L374.50 343.02L374.75 343.02L374.75 329.60L375.00 329.60L375.50 329.98L376.00 330.35L376.50 330.73L377.00 331.10L377.50 331.32L378.00 331.54L378.50 331.76L379.00 331.97L379.50 332.18L380.00 332.39L380.50 332.60L381.00 332.80L381.50 333.00L382.00 333.20L382.50 333.49L383.00 333.79L383.50 334.08L384.00 334.53L384.50 335.07L385.00 335.61L385.50 336.25L386.00 337.27L386.50 338.26L387.00 339.25L387.50 340.25L388.00 341.32L388.50 342.38L389.00 343.62L389.50 345.06L390.00 346.50L390.50 348.11L391.00 349.71L391.50 351.94L391.75 351.94L391.75 347.46L392.00 347.46L392.25 347.46L392.25 352.24L392.50 352.24L393.00 351.71L393.50 351.10L394.00 350.63L394.50 350.17L395.00 349.70L395.50 350.49L396.00 351.27L396.50 351.55L397.00 351.05L397.50 350.60L398.00 350.15L398.50 350.21L399.00 351.06L399.50 351.90L400.00 352.60L400.50 353.28L401.00 353.95L401.50 353.13L402.00 352.31L402.50 351.78L403.00 351.60L403.50 352.68L404.00 353.75L404.50 354.73L405.00 355.45L405.50 356.17L406.00 356.88L406.50 357.03L407.00 357.17L407.50 357.69L408.00 358.26L408.25 358.26L408.25 341.37L408.50 341.37L408.75 341.37L408.75 358.93L409.00 358.93L409.50 358.97L410.00 358.44L410.50 357.91L411.00 357.38L411.50 357.05L412.00 356.73L412.50 356.42L413.00 356.10L413.50 355.73L414.00 355.86L414.50 356.33L415.00 356.08L415.50 355.49L416.00 354.89L416.50 354.09L417.00 353.13L417.50 352.45L418.00 351.95L418.50 352.21L418.75 352.21L418.75 358.83L419.00 358.83L419.25 358.83L419.25 345.60L419.50 345.60L419.75 345.60L419.75 359.01L420.00 359.01L420.25 359.01L420.25 354.40L420.50 354.40L421.00 354.57L421.50 354.73L422.00 354.92L422.50 355.11L423.00 355.30L423.50 355.23L424.00 355.16L424.50 355.09L424.75 355.09L424.75 344.18L425.00 344.18L425.50 343.91L425.75 343.91L425.75 353.80L426.00 353.80L426.50 351.21L427.00 349.89L427.50 349.43L428.00 348.97L428.50 348.81L429.00 348.87L429.50 348.98L430.00 349.08L430.50 349.14L431.00 349.20L431.50 349.18L432.00 349.17L432.25 349.17L432.25 353.65L432.50 353.65L432.75 353.65L432.75 346.80L433.00 346.80L433.50 348.02L434.00 347.79L434.50 347.62L435.00 347.45L435.50 347.37L436.00 347.61L436.50 347.84L437.00 348.02L437.50 348.18L438.00 348.34L438.50 348.50L439.00 348.63L439.50 349.57L439.75 349.57L439.75 344.30L440.00 344.30L440.50 344.20L441.00 344.10L441.50 344.00L441.75 344.00L441.75 348.44L442.00 348.44L442.50 348.27L443.00 348.19L443.50 348.17L444.00 348.25L444.50 348.34L445.00 348.61L445.50 349.63L446.00 350.66L446.50 351.73L447.00 352.68L447.25 352.68L447.25 346.26L447.50 346.26L447.75 346.26L447.75 354.02L448.00 354.02L448.50 354.47L449.00 354.70L449.50 354.79L450.00 354.83L450.50 354.88L450.75 354.88L450.75 345.90L451.00 345.90L451.25 345.90L451.25 355.08L451.50 355.08L452.00 355.24L452.50 355.35L453.00 355.45L453.50 355.56L454.00 355.57L454.50 355.66L455.00 355.87L455.50 356.09L456.00 356.30L456.50 356.90L457.00 357.51L457.50 358.12L458.00 358.73L458.50 359.34L459.00 359.65L459.50 359.75L460.00 359.86L460.50 359.96L461.00 360.07L461.50 359.84L462.00 359.56L462.50 359.27L463.00 358.99L463.50 358.72L464.00 358.44L464.50 358.17L465.00 358.17L465.50 358.24L466.00 358.31L466.50 358.37L467.00 358.44L467.50 358.45L468.00 358.46L468.50 358.37L469.00 358.19L469.50 357.65L469.75 357.65L469.75 344.10L470.00 344.10L470.25 344.10L470.25 356.73L470.50 356.73L471.00 356.35L471.50 355.93L472.00 355.50L472.50 355.03L473.00 354.55L473.50 354.32L474.00 354.09L474.50 353.58L475.00 353.12L475.50 352.82L476.00 352.55L476.50 352.28L477.00 352.56L477.50 352.98L478.00 353.40L478.50 353.71L479.00 354.02L479.50 354.32L480.00 354.63L480.50 354.83L481.00 355.03L481.50 355.22L482.00 355.39L482.50 355.54L483.00 355.69L483.50 355.84L484.00 355.99L484.50 356.04L485.00 356.10L485.50 356.13L486.00 356.17L486.50 356.20L487.00 356.23L487.50 356.33L488.00 356.43L488.50 356.55L489.00 356.68L489.50 356.80L490.00 356.93L490.50 357.05L491.00 357.18L491.50 357.31L492.00 357.44L492.50 357.57L493.00 357.70L493.50 358.00L494.00 358.30L494.50 358.60L495.00 358.90L495.50 359.02L496.00 359.15L496.50 359.24L497.00 359.33L497.50 359.24L498.00 359.10L498.50 358.96L499.00 358.78L499.50 358.64L500.00 358.51L500.50 358.37L501.00 358.23L501.50 357.96L502.00 357.89L502.50 357.82L503.00 357.75L503.50 357.68L504.00 357.42L504.50 357.23L505.00 357.03L505.50 356.83L506.00 356.58L506.50 356.30L507.00 355.88L507.50 355.47L508.00 355.06L508.50 354.65L509.00 354.24L509.50 353.95L510.00 353.70L510.50 353.45L511.00 353.20L511.50 353.03L511.75 353.03L511.75 340.08L512.00 340.08L512.50 339.95L513.00 339.82L513.50 340.01L513.75 340.01L513.75 352.38L514.00 352.38L514.50 352.31L515.00 352.25L515.50 352.22L515.75 352.22L515.75 340.97L516.00 340.97L516.50 341.94L517.00 342.90L517.50 343.82L518.00 343.98L518.50 343.63L519.00 343.28L519.50 342.60L520.00 341.88L520.50 341.39L521.00 340.90L521.50 340.41L522.00 340.23L522.50 341.60L523.00 342.97L523.50 344.33L524.00 345.47L524.50 346.33L525.00 347.20L525.50 347.86L526.00 348.51L526.50 349.17L527.00 348.77L527.25 348.77L527.25 337.72L527.50 337.72L528.00 337.56L528.50 337.40L528.75 337.40L528.75 346.83L529.00 346.83L529.50 346.30L530.00 345.78L530.50 344.97L531.00 344.16L531.25 344.16L531.25 336.57L531.50 336.57L532.00 337.01L532.50 337.78L533.00 338.56L533.50 339.21L534.00 339.96L534.50 340.47L534.75 340.47L534.75 350.66L535.00 350.66L535.50 352.21L536.00 353.52L536.50 354.84L537.00 355.61L537.50 356.33L538.00 356.93L538.25 356.93L538.25 341.90L538.50 341.90L539.00 341.94L539.50 341.94L539.75 341.94L539.75 358.12L540.00 358.12L540.50 358.36L541.00 358.59L541.50 358.55L542.00 358.44L542.25 358.44L542.25 342.24L542.50 342.24L542.75 342.24L542.75 358.21L543.00 358.21L543.25 358.21L543.25 342.35L543.50 342.35L543.75 342.35L543.75 358.04L544.00 358.04L544.50 358.00L545.00 357.96L545.50 357.92L546.00 357.68L546.50 357.44L546.75 357.44L546.75 343.28L547.00 343.28L547.25 343.28L547.25 356.98L547.50 356.98L547.75 356.98L547.75 342.92L548.00 342.92L548.25 342.92L548.25 356.53L548.50 356.53L549.00 356.31L549.50 356.09L550.00 355.87L550.50 355.70L551.00 355.80L551.50 355.97L552.00 356.14L552.50 356.30L552.75 356.30L552.75 341.03L553.00 341.03L553.50 340.85L553.75 340.85L553.75 356.80L554.00 356.80L554.25 356.80L554.25 340.58L554.50 340.58L554.75 340.58L554.75 357.41L555.00 357.41L555.25 357.41L555.25 340.55L555.50 340.55L555.75 340.55L555.75 358.01L556.00 358.01L556.50 358.32L557.00 358.66L557.50 359.03L557.75 359.03L557.75 340.72L558.00 340.72L558.25 340.72L558.25 359.58L558.50 359.58L558.75 359.58L558.75 340.53L559.00 340.53L559.25 340.53L559.25 359.94L559.50 359.94L560.00 360.12L560.50 360.30L561.00 360.48L561.50 360.67L562.00 360.56L562.50 360.32L563.00 360.08L563.50 359.84L563.75 359.84L563.75 339.97L564.00 339.97L564.50 339.95L565.00 339.93L565.50 339.92L566.00 339.90L566.50 339.96L566.75 339.96L566.75 358.75L567.00 358.75L567.50 358.65L568.00 358.81L568.50 359.13L568.75 359.13L568.75 340.27L569.00 340.27L569.50 340.34L570.00 340.40L570.50 340.41L571.00 340.43L571.25 340.43L571.25 360.86L571.50 360.86L572.00 361.12L572.50 361.37L573.00 361.58L573.50 361.61L573.75 361.61L573.75 340.50L574.00 340.50L574.50 340.52L575.00 340.54L575.50 340.57L576.00 340.59L576.25 340.59L576.25 361.83L576.50 361.83L577.00 361.87L577.50 361.90L578.00 361.94L578.50 361.97L579.00 362.00L579.50 361.80L580.00 361.60L580.50 361.40L581.00 361.20L581.25 361.20L581.25 338.39L581.50 338.39L581.75 338.39L581.75 360.46L582.00 360.46L582.25 360.46L582.25 337.17L582.50 337.17L583.00 337.16L583.50 338.04L584.00 338.70L584.50 339.02L585.00 339.35L585.50 339.68L586.00 339.66L586.50 339.41L586.75 339.41L586.75 362.30L587.00 362.30L587.25 362.30L587.25 338.43L587.50 338.43L588.00 337.70L588.50 337.03L589.00 336.69L589.50 336.36L589.75 336.36L589.75 357.47L590.00 357.47L590.25 357.47L590.25 335.99L590.50 335.99L590.75 335.99L590.75 356.70L591.00 356.70L591.50 356.70L591.75 356.70L591.75 336.79L592.00 336.79L592.25 336.79L592.25 357.30L592.50 357.30L593.00 357.21L593.50 357.12L594.00 357.03L594.25 357.03L594.25 336.82L594.50 336.82L594.75 336.82L594.75 357.02L595.00 357.02L595.25 357.02L595.25 336.86L595.50 336.86L595.75 336.86L595.75 357.17L596.00 357.17L596.50 357.25L597.00 357.28L597.25 357.28L597.25 336.28L597.50 336.28L597.75 336.28L597.75 357.02L598.00 357.02L598.25 357.02L598.25 335.70L598.50 335.70L598.75 335.70L598.75 356.63L599.00 356.63L599.50 356.39L600.00 356.15L600.25 356.15L600.25 333.93L600.50 333.93L600.75 333.93L600.75 356.11L601.00 356.11L601.50 356.82L602.00 357.71L602.50 358.51L602.75 358.51L602.75 335.79L603.00 335.79L603.25 335.79L603.25 360.00L603.50 360.00L603.75 360.00L603.75 336.72L604.00 336.72L604.25 336.72L604.25 359.74L604.50 359.74L605.00 359.38L605.50 359.15L606.00 358.78L606.50 358.66L606.75 358.66L606.75 340.49L607.00 340.49L607.50 340.54L608.00 340.30L608.50 340.00L609.00 339.91L609.50 339.83L610.00 339.74L610.50 339.67L611.00 339.95L611.50 340.31L612.00 340.68L612.50 341.04L613.00 341.41L613.50 341.91L614.00 342.42L614.50 342.92L615.00 343.42L615.50 343.89L616.00 344.29L616.50 344.68L617.00 345.08L617.50 345.37L618.00 345.22L618.50 345.06L619.00 344.91L619.50 344.76L620.00 344.66L620.50 344.56L621.00 344.46L621.50 344.32L622.00 344.41L622.50 344.64L623.00 344.88L623.50 345.11L624.00 345.35L624.50 345.58L625.00 345.80L625.50 346.06L626.00 346.32L626.50 346.58L627.00 346.85L627.50 347.00L628.00 347.16L628.50 347.32L629.00 347.47L629.50 347.20L630.00 345.22L630.25 345.22L630.25 358.52L630.50 358.52L630.75 358.52L630.75 345.00L631.00 345.00L631.50 346.74L632.00 347.97L632.50 347.95L633.00 347.93L633.50 347.88L634.00 347.84L634.50 347.79L635.00 347.74L635.50 347.77L636.00 347.79L636.50 347.73L637.00 347.54L637.50 347.09L637.75 347.09L637.75 361.89L638.00 361.89L638.50 360.80L639.00 359.87L639.50 360.06L640.00 360.52L640.50 360.99L641.00 361.68L641.25 361.68L641.25 346.25L641.50 346.25L642.00 345.93L642.50 344.99L642.75 344.99L642.75 360.47L643.00 360.47L643.50 360.01L644.00 360.59L644.50 361.17L644.75 361.17L644.75 344.90L645.00 344.90L645.25 344.90L645.25 362.01L645.50 362.01L646.00 362.43L646.50 362.15L647.00 361.87L647.50 361.66L648.00 361.48L648.50 361.30" fill="none" stroke="#100600" stroke-width="0.75" stroke-linejoin="round"/><path d="M81.50 334.70L82.00 335.50L82.50 336.30L82.75 336.30M82.75 351.95L83.00 351.95L83.50 352.22L84.00 352.49L84.25 352.49M84.25 338.68L84.50 338.68L84.75 338.68M84.75 352.96L85.00 352.96L85.50 353.15L86.00 353.35L86.50 353.55L87.00 353.69L87.50 353.82L88.00 353.99L88.25 353.99M88.25 341.67L88.50 341.67L89.00 341.84L89.50 342.01L90.00 342.18L90.50 342.36L91.00 342.55L91.25 342.55M91.25 356.25L91.50 356.25L92.00 356.59L92.50 356.81L93.00 357.01L93.50 357.22L93.75 357.22M93.75 343.56L94.00 343.56L94.50 343.71L95.00 343.87L95.25 343.87M95.25 358.01L95.50 358.01L95.75 358.01M95.75 344.07L96.00 344.07L96.50 344.16L97.00 344.25L97.50 344.34L98.00 344.43L98.50 344.52L99.00 344.62L99.50 344.71L100.00 344.80L100.50 344.95L101.00 345.10L101.25 345.10M101.25 361.48L101.50 361.48L102.00 361.74L102.25 361.74M102.25 345.55L102.50 345.55L103.00 345.70L103.50 345.85L104.00 345.87L104.50 345.82L105.00 345.76L105.25 345.76M105.25 362.81L105.50 362.81L105.75 362.81M105.75 343.91L106.00 343.91L106.25 343.91M106.25 360.34L106.50 360.34L106.75 360.34M106.75 345.15L107.00 345.15L107.25 345.15M107.25 360.72L107.50 360.72L107.75 360.72M107.75 343.00L108.00 343.00L108.25 343.00M108.25 360.85L108.50 360.85L108.75 360.85M108.75 345.66L109.00 345.66L109.50 344.59L109.75 344.59M109.75 360.00L110.00 360.00L110.50 360.15L111.00 360.31L111.25 360.31M111.25 343.97L111.50 343.97L111.75 343.97M111.75 360.61L112.00 360.61L112.25 360.61M112.25 344.22L112.50 344.22L112.75 344.22M112.75 360.77L113.00 360.77L113.50 360.82L114.00 360.87L114.50 360.74L115.00 360.60L115.50 360.42L116.00 360.25L116.50 359.74L117.00 359.23L117.50 358.72L118.00 358.49L118.50 357.82L119.00 356.50L119.50 355.05L120.00 354.41L120.50 353.77L121.00 353.17L121.50 352.76L122.00 352.35L122.50 351.94L123.00 351.53L123.50 351.02L124.00 350.50L124.50 349.88L125.00 349.25L125.50 348.38L126.00 347.50L126.50 346.76L127.00 346.28L127.50 345.79L128.00 345.74L128.50 345.96L129.00 346.19L129.50 345.75L130.00 345.30L130.50 345.33L131.00 345.37L131.50 345.40L132.00 345.25L132.50 345.09L133.00 344.93L133.50 344.76L134.00 344.60L134.50 344.43L135.00 345.01L135.50 345.78L136.00 346.54L136.50 347.22L137.00 347.90L137.50 348.60L138.00 349.30L138.50 349.77L139.00 350.25L139.50 350.73L140.00 351.20L140.50 351.68L141.00 352.16L141.50 352.61L142.00 352.96L142.50 353.31L143.00 353.65L143.50 353.96L144.00 354.25L144.50 354.50L145.00 354.76L145.50 355.01L146.00 355.27L146.50 355.63L147.00 356.00L147.50 356.35L148.00 356.70L148.50 357.05L149.00 357.40L149.50 357.74L150.00 358.08L150.25 358.08M150.25 343.72L150.50 343.72L151.00 343.96L151.25 343.96M151.25 359.05L151.50 359.05L152.00 359.05L152.50 358.82L153.00 358.60L153.50 358.47L154.00 358.33L154.50 358.20L155.00 358.07L155.50 358.43L156.00 358.80L156.50 359.15L157.00 359.49L157.50 359.37L158.00 359.25L158.50 359.12L158.75 359.12M158.75 342.92L159.00 342.92L159.50 343.06L160.00 343.21L160.25 343.21M160.25 359.42L160.50 359.42L161.00 359.50L161.50 359.00L162.00 358.49L162.50 357.99L163.00 357.49L163.50 357.11L164.00 356.99L164.50 357.06L165.00 357.12L165.50 357.27L166.00 357.41L166.50 357.19L167.00 356.97L167.50 356.87L168.00 356.79L168.50 356.90L169.00 357.01L169.50 357.12L170.00 357.23L170.50 357.16L171.00 356.53L171.50 355.76L172.00 354.98L172.50 354.42L173.00 353.86L173.50 353.41L173.75 353.41M173.75 335.79L174.00 335.79L174.50 335.84L175.00 335.96L175.25 335.96M175.25 353.52L175.50 353.52L176.00 353.82L176.50 354.19L177.00 354.84L177.50 355.50L177.75 355.50M177.75 339.80L178.00 339.80L178.50 340.49L178.75 340.49M178.75 357.36L179.00 357.36L179.25 357.36M179.25 341.87L179.50 341.87L180.00 342.56L180.25 342.56M180.25 359.06L180.50 359.06L180.75 359.06M180.75 343.75L181.00 343.75L181.50 343.48L181.75 343.48M181.75 358.88L182.00 358.88L182.25 358.88M182.25 342.93L182.50 342.93L182.75 342.93M182.75 358.35L183.00 358.35L183.50 358.50L184.00 358.65L184.50 358.76L185.00 358.88L185.25 358.88M185.25 343.25L185.50 343.25L185.75 343.25M185.75 358.49L186.00 358.49L186.50 358.30L186.75 358.30M186.75 342.94L187.00 342.94L187.25 342.94M187.25 357.91L187.50 357.91L187.75 357.91M187.75 342.45L188.00 342.45L188.50 341.88L189.00 341.30L189.50 340.22L190.00 339.13L190.50 338.34L191.00 337.30L191.50 336.12L192.00 334.33L192.50 332.60L193.00 330.60L193.50 329.29L194.00 328.64L194.50 328.00L195.00 329.10L195.50 330.20L196.00 331.80L196.50 333.16L197.00 334.82L197.50 336.42L198.00 337.79L198.25 337.79M198.25 353.82L198.50 353.82L199.00 354.36L199.50 354.90L200.00 354.99L200.50 355.07L201.00 355.15L201.25 355.15M201.25 339.76L201.50 339.76L202.00 339.45L202.50 339.08L203.00 338.89L203.50 339.14L204.00 339.40L204.50 339.81L205.00 339.32L205.50 338.84L206.00 338.96L206.50 339.01L207.00 339.19L207.50 339.93L208.00 340.67L208.50 341.06L209.00 341.21L209.50 341.31L210.00 341.39L210.50 341.28L211.00 341.16L211.50 340.86L212.00 340.51L212.50 340.20L213.00 339.90L213.50 339.28L214.00 338.67L214.50 338.09L215.00 336.87L215.50 335.74L216.00 334.93L216.50 334.11L217.00 333.30L217.50 332.51L217.75 332.51M217.75 347.47L218.00 347.47L218.25 347.47M218.25 330.93L218.50 330.93L219.00 330.05L219.50 329.21L220.00 328.21L220.25 328.21M220.25 183.72L220.50 183.72L220.75 183.72M220.75 328.34L221.00 328.34L221.50 329.02L222.00 329.74L222.50 330.42L223.00 330.83L223.50 331.25L224.00 331.17L224.50 331.08L225.00 331.00L225.50 330.85L226.00 330.70L226.50 330.50L227.00 330.25L227.50 330.18L228.00 330.83L228.50 331.33L229.00 332.42L229.50 333.50L230.00 332.38L230.50 331.27L231.00 329.87L231.50 327.97L232.00 328.98L232.50 330.05L233.00 331.87L233.50 333.62L234.00 334.25L234.50 334.96L235.00 335.67L235.50 336.33L236.00 336.72L236.50 337.12L237.00 337.33L237.50 336.90L238.00 336.48L238.50 336.05L239.00 335.47L239.50 334.91L240.00 334.45L240.50 334.15L241.00 333.86L241.50 333.56L242.00 333.46L242.25 333.46M242.25 343.55L242.50 343.55L243.00 343.50L243.25 343.50M243.25 333.70L243.50 333.70L244.00 333.97L244.50 334.23L245.00 334.50L245.25 334.50M245.25 345.92L245.50 345.92L246.00 346.31L246.25 346.31M246.25 334.95L246.50 334.95L247.00 335.10L247.50 335.25L248.00 335.40L248.25 335.40M248.25 347.81L248.50 347.81L249.00 348.10L249.25 348.10M249.25 335.21L249.50 335.21L250.00 335.15L250.50 335.05L251.00 334.94L251.50 334.79L252.00 334.48L252.50 334.16L253.00 333.84L253.50 333.51L254.00 333.27L254.50 333.04L255.00 333.13L255.50 333.24L256.00 333.34L256.50 333.45L257.00 333.63L257.50 333.74L258.00 333.43L258.50 333.11L259.00 332.80L259.50 332.25L260.00 331.70L260.50 331.15L261.00 330.60L261.50 330.28L262.00 329.95L262.50 329.63L263.00 329.73L263.50 329.86L264.00 329.71L264.50 329.67L265.00 329.33L265.50 328.54L266.00 328.31L266.50 328.62L267.00 329.65L267.50 332.01L268.00 333.97L268.50 335.33L269.00 335.30L269.50 334.93L270.00 334.55L270.50 333.93L271.00 333.30L271.50 333.12L271.75 333.12M271.75 350.10L272.00 350.10L272.25 350.10M272.25 333.62L272.50 333.62L273.00 334.30L273.50 335.36L274.00 336.43L274.25 336.43M274.25 353.95L274.50 353.95L275.00 354.30L275.25 354.30M275.25 337.27L275.50 337.27L276.00 337.57L276.50 337.86L277.00 338.16L277.50 338.14L278.00 337.99L278.50 337.85L279.00 337.70L279.50 337.70L280.00 337.77L280.50 337.84L281.00 337.91L281.50 338.00L281.75 338.00M281.75 359.28L282.00 359.28L282.25 359.28M282.25 339.05L282.50 339.05L283.00 339.50L283.25 339.50M283.25 360.12L283.50 360.12L283.75 360.12M283.75 340.40L284.00 340.40L284.25 340.40M284.25 360.43L284.50 360.43L285.00 360.37L285.50 360.31L286.00 360.25L286.50 360.13L287.00 360.02L287.50 359.91L287.75 359.91M287.75 339.27L288.00 339.27L288.25 339.27M288.25 359.60L288.50 359.60L288.75 359.60M288.75 338.68L289.00 338.68L289.25 338.68M289.25 359.20L289.50 359.20L290.00 359.00L290.50 359.32L291.00 359.64L291.50 359.97L292.00 360.49L292.25 360.49M292.25 339.77L292.50 339.77L293.00 340.22L293.50 340.56L294.00 340.90L294.50 341.15L295.00 341.29L295.50 341.43L296.00 341.56L296.50 341.70L297.00 341.84L297.50 341.79L298.00 341.75L298.50 341.66L299.00 341.58L299.50 341.66L300.00 341.75L300.50 341.83L301.00 341.92L301.50 341.93L302.00 341.94L302.50 341.95L303.00 341.96L303.50 341.96L304.00 341.97L304.50 341.94L305.00 341.91L305.50 341.88L306.00 341.85L306.25 341.85M306.25 361.73L306.50 361.73L307.00 361.82L307.50 361.92L308.00 362.01L308.25 362.01M308.25 342.33L308.50 342.33L309.00 342.52L309.50 342.71L309.75 342.71M309.75 362.84L310.00 362.84L310.50 363.00L311.00 363.17L311.50 363.33L312.00 363.49L312.50 363.67L313.00 363.58L313.50 363.44L314.00 363.29L314.25 363.29M314.25 342.71L314.50 342.71L315.00 342.50L315.25 342.50M315.25 362.83L315.50 362.83L316.00 362.65L316.25 362.65M316.25 341.94L316.50 341.94L317.00 341.76L317.25 341.76M317.25 362.25L317.50 362.25L317.75 362.25M317.75 341.65L318.00 341.65L318.25 341.65M318.25 362.16L318.50 362.16L319.00 362.12L319.50 362.07L320.00 362.03L320.50 362.07L321.00 362.25L321.50 362.42L322.00 362.60L322.25 362.60M322.25 342.11L322.50 342.11L323.00 342.26L323.25 342.26M323.25 363.09L323.50 363.09L323.75 363.09M323.75 342.57L324.00 342.57L324.25 342.57M324.25 363.41L324.50 363.41L325.00 363.57L325.50 363.68L326.00 363.61L326.50 363.53L327.00 363.45L327.50 363.38L328.00 363.30L328.25 363.30M328.25 342.66L328.50 342.66L328.75 342.66M328.75 363.13L329.00 363.13L329.25 363.13M329.25 342.53L329.50 342.53L329.75 342.53M329.75 362.97L330.00 362.97L330.50 362.87L331.00 362.78L331.50 362.73L331.75 362.73M331.75 342.30L332.00 342.30L332.50 342.28L332.75 342.28M332.75 362.58L333.00 362.58L333.50 362.53L334.00 362.38L334.50 362.24L334.75 362.24M334.75 341.89L335.00 341.89L335.25 341.89M335.25 361.73L335.50 361.73L335.75 361.73M335.75 341.39L336.00 341.39L336.25 341.39M336.25 360.30L336.50 360.30L337.00 359.50L337.25 359.50M337.25 353.50L337.50 353.50L337.75 353.50M337.75 339.17L338.00 339.17L338.25 339.17M338.25 345.17L338.50 345.17L339.00 346.73L339.50 348.02L340.00 349.30L340.50 349.18L341.00 349.05L341.50 348.93L342.00 348.80L342.50 348.52L343.00 348.24L343.50 347.97L344.00 347.83L344.50 347.58L345.00 347.16L345.50 346.93L346.00 346.74L346.50 346.47L347.00 346.20L347.50 345.55L348.00 344.90L348.50 344.21L349.00 343.85L349.50 343.32L350.00 342.13L350.50 340.69L351.00 337.99L351.50 335.25L352.00 332.85L352.25 332.85M352.25 328.65L352.50 328.65L352.75 328.65M352.75 324.52L353.00 324.52L353.25 324.52M353.25 319.94L353.50 319.94L354.00 316.80L354.50 314.60L355.00 314.24L355.50 314.25L356.00 315.70L356.50 315.60L357.00 314.45L357.50 315.19L358.00 315.82L358.50 317.30L359.00 319.67L359.50 322.11L360.00 324.52L360.50 326.60L361.00 328.11L361.50 329.48L362.00 330.84L362.50 331.78L363.00 332.39L363.50 333.00L364.00 333.12L364.25 333.12M364.25 324.36L364.50 324.36L364.75 324.36M364.75 315.90L365.00 315.90L365.50 316.41L366.00 316.92L366.50 317.51L367.00 318.10L367.25 318.10M367.25 337.32L367.50 337.32L368.00 337.85L368.50 338.37L368.75 338.37M368.75 319.72L369.00 319.72L369.50 320.33L370.00 321.00L370.50 321.83L371.00 322.67L371.50 324.04L372.00 325.50L372.50 326.54L373.00 327.30L373.50 328.01L374.00 328.54L374.25 328.54M374.25 343.02L374.50 343.02L374.75 343.02M374.75 329.60L375.00 329.60L375.50 329.98L376.00 330.35L376.50 330.73L377.00 331.10L377.50 331.32L378.00 331.54L378.50 331.76L379.00 331.97L379.50 332.18L380.00 332.39L380.50 332.60L381.00 332.80L381.50 333.00L382.00 333.20L382.50 333.49L383.00 333.79L383.50 334.08L384.00 334.53L384.50 335.07L385.00 335.61L385.50 336.25L386.00 337.27L386.50 338.26L387.00 339.25L387.50 340.25L388.00 341.32L388.50 342.38L389.00 343.62L389.50 345.06L390.00 346.50L390.50 348.11L391.00 349.71L391.50 351.94L391.75 351.94M391.75 347.46L392.00 347.46L392.25 347.46M392.25 352.24L392.50 352.24L393.00 351.71L393.50 351.10L394.00 350.63L394.50 350.17L395.00 349.70L395.50 350.49L396.00 351.27L396.50 351.55L397.00 351.05L397.50 350.60L398.00 350.15L398.50 350.21L399.00 351.06L399.50 351.90L400.00 352.60L400.50 353.28L401.00 353.95L401.50 353.13L402.00 352.31L402.50 351.78L403.00 351.60L403.50 352.68L404.00 353.75L404.50 354.73L405.00 355.45L405.50 356.17L406.00 356.88L406.50 357.03L407.00 357.17L407.50 357.69L408.00 358.26L408.25 358.26M408.25 341.37L408.50 341.37L408.75 341.37M408.75 358.93L409.00 358.93L409.50 358.97L410.00 358.44L410.50 357.91L411.00 357.38L411.50 357.05L412.00 356.73L412.50 356.42L413.00 356.10L413.50 355.73L414.00 355.86L414.50 356.33L415.00 356.08L415.50 355.49L416.00 354.89L416.50 354.09L417.00 353.13L417.50 352.45L418.00 351.95L418.50 352.21L418.75 352.21M418.75 358.83L419.00 358.83L419.25 358.83M419.25 345.60L419.50 345.60L419.75 345.60M419.75 359.01L420.00 359.01L420.25 359.01M420.25 354.40L420.50 354.40L421.00 354.57L421.50 354.73L422.00 354.92L422.50 355.11L423.00 355.30L423.50 355.23L424.00 355.16L424.50 355.09L424.75 355.09M424.75 344.18L425.00 344.18L425.50 343.91L425.75 343.91M425.75 353.80L426.00 353.80L426.50 351.21L427.00 349.89L427.50 349.43L428.00 348.97L428.50 348.81L429.00 348.87L429.50 348.98L430.00 349.08L430.50 349.14L431.00 349.20L431.50 349.18L432.00 349.17L432.25 349.17M432.25 353.65L432.50 353.65L432.75 353.65M432.75 346.80L433.00 346.80L433.50 348.02L434.00 347.79L434.50 347.62L435.00 347.45L435.50 347.37L436.00 347.61L436.50 347.84L437.00 348.02L437.50 348.18L438.00 348.34L438.50 348.50L439.00 348.63L439.50 349.57L439.75 349.57M439.75 344.30L440.00 344.30L440.50 344.20L441.00 344.10L441.50 344.00L441.75 344.00M441.75 348.44L442.00 348.44L442.50 348.27L443.00 348.19L443.50 348.17L444.00 348.25L444.50 348.34L445.00 348.61L445.50 349.63L446.00 350.66L446.50 351.73L447.00 352.68L447.25 352.68M447.25 346.26L447.50 346.26L447.75 346.26M447.75 354.02L448.00 354.02L448.50 354.47L449.00 354.70L449.50 354.79L450.00 354.83L450.50 354.88L450.75 354.88M450.75 345.90L451.00 345.90L451.25 345.90M451.25 355.08L451.50 355.08L452.00 355.24L452.50 355.35L453.00 355.45L453.50 355.56L454.00 355.57L454.50 355.66L455.00 355.87L455.50 356.09L456.00 356.30L456.50 356.90L457.00 357.51L457.50 358.12L458.00 358.73L458.50 359.34L459.00 359.65L459.50 359.75L460.00 359.86L460.50 359.96L461.00 360.07L461.50 359.84L462.00 359.56L462.50 359.27L463.00 358.99L463.50 358.72L464.00 358.44L464.50 358.17L465.00 358.17L465.50 358.24L466.00 358.31L466.50 358.37L467.00 358.44L467.50 358.45L468.00 358.46L468.50 358.37L469.00 358.19L469.50 357.65L469.75 357.65M469.75 344.10L470.00 344.10L470.25 344.10M470.25 356.73L470.50 356.73L471.00 356.35L471.50 355.93L472.00 355.50L472.50 355.03L473.00 354.55L473.50 354.32L474.00 354.09L474.50 353.58L475.00 353.12L475.50 352.82L476.00 352.55L476.50 352.28L477.00 352.56L477.50 352.98L478.00 353.40L478.50 353.71L479.00 354.02L479.50 354.32L480.00 354.63L480.50 354.83L481.00 355.03L481.50 355.22L482.00 355.39L482.50 355.54L483.00 355.69L483.50 355.84L484.00 355.99L484.50 356.04L485.00 356.10L485.50 356.13L486.00 356.17L486.50 356.20L487.00 356.23L487.50 356.33L488.00 356.43L488.50 356.55L489.00 356.68L489.50 356.80L490.00 356.93L490.50 357.05L491.00 357.18L491.50 357.31L492.00 357.44L492.50 357.57L493.00 357.70L493.50 358.00L494.00 358.30L494.50 358.60L495.00 358.90L495.50 359.02L496.00 359.15L496.50 359.24L497.00 359.33L497.50 359.24L498.00 359.10L498.50 358.96L499.00 358.78L499.50 358.64L500.00 358.51L500.50 358.37L501.00 358.23L501.50 357.96L502.00 357.89L502.50 357.82L503.00 357.75L503.50 357.68L504.00 357.42L504.50 357.23L505.00 357.03L505.50 356.83L506.00 356.58L506.50 356.30L507.00 355.88L507.50 355.47L508.00 355.06L508.50 354.65L509.00 354.24L509.50 353.95L510.00 353.70L510.50 353.45L511.00 353.20L511.50 353.03L511.75 353.03M511.75 340.08L512.00 340.08L512.50 339.95L513.00 339.82L513.50 340.01L513.75 340.01M513.75 352.38L514.00 352.38L514.50 352.31L515.00 352.25L515.50 352.22L515.75 352.22M515.75 340.97L516.00 340.97L516.50 341.94L517.00 342.90L517.50 343.82L518.00 343.98L518.50 343.63L519.00 343.28L519.50 342.60L520.00 341.88L520.50 341.39L521.00 340.90L521.50 340.41L522.00 340.23L522.50 341.60L523.00 342.97L523.50 344.33L524.00 345.47L524.50 346.33L525.00 347.20L525.50 347.86L526.00 348.51L526.50 349.17L527.00 348.77L527.25 348.77M527.25 337.72L527.50 337.72L528.00 337.56L528.50 337.40L528.75 337.40M528.75 346.83L529.00 346.83L529.50 346.30L530.00 345.78L530.50 344.97L531.00 344.16L531.25 344.16M531.25 336.57L531.50 336.57L532.00 337.01L532.50 337.78L533.00 338.56L533.50 339.21L534.00 339.96L534.50 340.47L534.75 340.47M534.75 350.66L535.00 350.66L535.50 352.21L536.00 353.52L536.50 354.84L537.00 355.61L537.50 356.33L538.00 356.93L538.25 356.93M538.25 341.90L538.50 341.90L539.00 341.94L539.50 341.94L539.75 341.94M539.75 358.12L540.00 358.12L540.50 358.36L541.00 358.59L541.50 358.55L542.00 358.44L542.25 358.44M542.25 342.24L542.50 342.24L542.75 342.24M542.75 358.21L543.00 358.21L543.25 358.21M543.25 342.35L543.50 342.35L543.75 342.35M543.75 358.04L544.00 358.04L544.50 358.00L545.00 357.96L545.50 357.92L546.00 357.68L546.50 357.44L546.75 357.44M546.75 343.28L547.00 343.28L547.25 343.28M547.25 356.98L547.50 356.98L547.75 356.98M547.75 342.92L548.00 342.92L548.25 342.92M548.25 356.53L548.50 356.53L549.00 356.31L549.50 356.09L550.00 355.87L550.50 355.70L551.00 355.80L551.50 355.97L552.00 356.14L552.50 356.30L552.75 356.30M552.75 341.03L553.00 341.03L553.50 340.85L553.75 340.85M553.75 356.80L554.00 356.80L554.25 356.80M554.25 340.58L554.50 340.58L554.75 340.58M554.75 357.41L555.00 357.41L555.25 357.41M555.25 340.55L555.50 340.55L555.75 340.55M555.75 358.01L556.00 358.01L556.50 358.32L557.00 358.66L557.50 359.03L557.75 359.03M557.75 340.72L558.00 340.72L558.25 340.72M558.25 359.58L558.50 359.58L558.75 359.58M558.75 340.53L559.00 340.53L559.25 340.53M559.25 359.94L559.50 359.94L560.00 360.12L560.50 360.30L561.00 360.48L561.50 360.67L562.00 360.56L562.50 360.32L563.00 360.08L563.50 359.84L563.75 359.84M563.75 339.97L564.00 339.97L564.50 339.95L565.00 339.93L565.50 339.92L566.00 339.90L566.50 339.96L566.75 339.96M566.75 358.75L567.00 358.75L567.50 358.65L568.00 358.81L568.50 359.13L568.75 359.13M568.75 340.27L569.00 340.27L569.50 340.34L570.00 340.40L570.50 340.41L571.00 340.43L571.25 340.43M571.25 360.86L571.50 360.86L572.00 361.12L572.50 361.37L573.00 361.58L573.50 361.61L573.75 361.61M573.75 340.50L574.00 340.50L574.50 340.52L575.00 340.54L575.50 340.57L576.00 340.59L576.25 340.59M576.25 361.83L576.50 361.83L577.00 361.87L577.50 361.90L578.00 361.94L578.50 361.97L579.00 362.00L579.50 361.80L580.00 361.60L580.50 361.40L581.00 361.20L581.25 361.20M581.25 338.39L581.50 338.39L581.75 338.39M581.75 360.46L582.00 360.46L582.25 360.46M582.25 337.17L582.50 337.17L583.00 337.16L583.50 338.04L584.00 338.70L584.50 339.02L585.00 339.35L585.50 339.68L586.00 339.66L586.50 339.41L586.75 339.41M586.75 362.30L587.00 362.30L587.25 362.30M587.25 338.43L587.50 338.43L588.00 337.70L588.50 337.03L589.00 336.69L589.50 336.36L589.75 336.36M589.75 357.47L590.00 357.47L590.25 357.47M590.25 335.99L590.50 335.99L590.75 335.99M590.75 356.70L591.00 356.70L591.50 356.70L591.75 356.70M591.75 336.79L592.00 336.79L592.25 336.79M592.25 357.30L592.50 357.30L593.00 357.21L593.50 357.12L594.00 357.03L594.25 357.03M594.25 336.82L594.50 336.82L594.75 336.82M594.75 357.02L595.00 357.02L595.25 357.02M595.25 336.86L595.50 336.86L595.75 336.86M595.75 357.17L596.00 357.17L596.50 357.25L597.00 357.28L597.25 357.28M597.25 336.28L597.50 336.28L597.75 336.28M597.75 357.02L598.00 357.02L598.25 357.02M598.25 335.70L598.50 335.70L598.75 335.70M598.75 356.63L599.00 356.63L599.50 356.39L600.00 356.15L600.25 356.15M600.25 333.93L600.50 333.93L600.75 333.93M600.75 356.11L601.00 356.11L601.50 356.82L602.00 357.71L602.50 358.51L602.75 358.51M602.75 335.79L603.00 335.79L603.25 335.79M603.25 360.00L603.50 360.00L603.75 360.00M603.75 336.72L604.00 336.72L604.25 336.72M604.25 359.74L604.50 359.74L605.00 359.38L605.50 359.15L606.00 358.78L606.50 358.66L606.75 358.66M606.75 340.49L607.00 340.49L607.50 340.54L608.00 340.30L608.50 340.00L609.00 339.91L609.50 339.83L610.00 339.74L610.50 339.67L611.00 339.95L611.50 340.31L612.00 340.68L612.50 341.04L613.00 341.41L613.50 341.91L614.00 342.42L614.50 342.92L615.00 343.42L615.50 343.89L616.00 344.29L616.50 344.68L617.00 345.08L617.50 345.37L618.00 345.22L618.50 345.06L619.00 344.91L619.50 344.76L620.00 344.66L620.50 344.56L621.00 344.46L621.50 344.32L622.00 344.41L622.50 344.64L623.00 344.88L623.50 345.11L624.00 345.35L624.50 345.58L625.00 345.80L625.50 346.06L626.00 346.32L626.50 346.58L627.00 346.85L627.50 347.00L628.00 347.16L628.50 347.32L629.00 347.47L629.50 347.20L630.00 345.22L630.25 345.22M630.25 358.52L630.50 358.52L630.75 358.52M630.75 345.00L631.00 345.00L631.50 346.74L632.00 347.97L632.50 347.95L633.00 347.93L633.50 347.88L634.00 347.84L634.50 347.79L635.00 347.74L635.50 347.77L636.00 347.79L636.50 347.73L637.00 347.54L637.50 347.09L637.75 347.09M637.75 361.89L638.00 361.89L638.50 360.80L639.00 359.87L639.50 360.06L640.00 360.52L640.50 360.99L641.00 361.68L641.25 361.68M641.25 346.25L641.50 346.25L642.00 345.93L642.50 344.99L642.75 344.99M642.75 360.47L643.00 360.47L643.50 360.01L644.00 360.59L644.50 361.17L644.75 361.17M644.75 344.90L645.00 344.90L645.25 344.90M645.25 362.01L645.50 362.01L646.00 362.43L646.50 362.15L647.00 361.87L647.50 361.66L648.00 361.48L648.50 361.30" fill="none" stroke="#100600" stroke-width="1.0" stroke-linejoin="round" stroke-linecap="butt"/>
<path d="M220.70 -2V68.70" stroke="#2a1000" stroke-width="1.5" fill="none"/>
<path d="M220.70 183.72V371.62" stroke="#1a0a00" stroke-width="1.2" fill="none"/>
<rect x="81.4" y="234.3" width="567.3" height="6.1" fill="#ff9900"/>
<rect x="306.8" y="234.3" width="1.2" height="6.1" fill="#fff200"/>
<rect x="310.0" y="234.3" width="4.0" height="6.1" fill="#fff200"/>
<rect x="315.3" y="234.3" width="0.9" height="6.1" fill="#fff200"/>
<rect x="318.0" y="234.3" width="3.8" height="6.1" fill="#fff200"/>
<rect x="324.0" y="234.3" width="3.5" height="6.1" fill="#fff200"/>
<rect x="329.0" y="234.3" width="2.0" height="6.1" fill="#fff200"/>
<rect x="332.8" y="234.3" width="1.2" height="6.1" fill="#fff200"/>
<rect x="336.5" y="234.3" width="1.5" height="6.1" fill="#fff200"/>
<rect x="348.0" y="234.3" width="4.0" height="6.1" fill="#fff200"/>
<rect x="358.0" y="234.3" width="2.5" height="6.1" fill="#fff200"/>
<rect x="192.0" y="234.3" width="4.7" height="6.1" fill="#fff200"/>
<rect x="210.9" y="234.3" width="5.1" height="6.1" fill="#fff200"/>
<rect x="352.5" y="234.3" width="3.0" height="6.1" fill="#ffcc00"/>
<rect x="81.4" y="234.3" width="567.3" height="6.1" fill="none" stroke="#a86800" stroke-width="0.75"/>
<text x="82.0" y="22" font-size="22.8" text-anchor="start" fill="#000" font-weight="bold" textLength="105.8" lengthAdjust="spacingAndGlyphs">2025/07/12</text>
<text x="235.5" y="21.8" font-size="22.8" text-anchor="start" fill="#000" font-weight="bold" textLength="189.2" lengthAdjust="spacingAndGlyphs">AE(10) (Real-Time)</text>
<text x="479.2" y="22.2" font-size="11.3" text-anchor="start" fill="#000" font-weight="bold" textLength="167.8" lengthAdjust="spacingAndGlyphs">WDC for Geomagnetism, Kyoto</text>
<text x="74.7" y="31.1" font-size="12" text-anchor="end" font-weight="bold">100<tspan dx="1.4">0</tspan></text>
<text x="74.7" y="59.43" font-size="12" text-anchor="end" font-weight="bold">50<tspan dx="1.4">0</tspan></text>
<text x="74.7" y="87.77" font-size="12" text-anchor="end" font-weight="bold">0</text>
<text x="74.7" y="116.1" font-size="12" text-anchor="end" font-weight="bold">- 50<tspan dx="1.4">0</tspan></text>
<text x="74.7" y="144.43" font-size="12" text-anchor="end" font-weight="bold">- 100<tspan dx="1.4">0</tspan></text>
<text x="74.7" y="172.77" font-size="12" text-anchor="end" font-weight="bold">- 150<tspan dx="1.4">0</tspan></text>
<text x="74.7" y="201.1" font-size="12" text-anchor="end" font-weight="bold">- 200<tspan dx="1.4">0</tspan></text>
<text x="53.0" y="42.9" font-size="11.5" font-weight="bold">(n<tspan dx="1.2">T)</tspan></text>
<text x="74.7" y="258.3" font-size="12" text-anchor="end" font-weight="bold">200<tspan dx="1.4">0</tspan></text>
<text x="74.7" y="286.5" font-size="12" text-anchor="end" font-weight="bold">150<tspan dx="1.4">0</tspan></text>
<text x="74.7" y="314.7" font-size="12" text-anchor="end" font-weight="bold">100<tspan dx="1.4">0</tspan></text>
<text x="74.7" y="342.9" font-size="12" text-anchor="end" font-weight="bold">50<tspan dx="1.4">0</tspan></text>
<text x="74.7" y="371.1" font-size="12" text-anchor="end" font-weight="bold">0</text>
<text x="74.7" y="399.3" font-size="12" text-anchor="end" font-weight="bold">- 50<tspan dx="1.4">0</tspan></text>
<text x="53.0" y="270.3" font-size="11.5" font-weight="bold">(n<tspan dx="1.2">T)</tspan></text>
<text x="81.2" y="207.8" font-size="12" text-anchor="middle" fill="#000" font-weight="bold" >00</text>
<text x="222.7" y="207.8" font-size="12" text-anchor="middle" fill="#000" font-weight="bold" >06</text>
<text x="365.3" y="207.8" font-size="12" text-anchor="middle" fill="#000" font-weight="bold" >12</text>
<text x="506.4" y="207.8" font-size="12" text-anchor="middle" fill="#000" font-weight="bold" >18</text>
<text x="648.1" y="207.8" font-size="12" text-anchor="middle" fill="#000" font-weight="bold" >24</text>
<text x="81.2" y="406.8" font-size="12" text-anchor="middle" fill="#000" font-weight="bold" >00</text>
<text x="222.7" y="406.8" font-size="12" text-anchor="middle" fill="#000" font-weight="bold" >06</text>
<text x="365.3" y="406.8" font-size="12" text-anchor="middle" fill="#000" font-weight="bold" >12</text>
<text x="506.4" y="406.8" font-size="12" text-anchor="middle" fill="#000" font-weight="bold" >18</text>
<text x="648.1" y="406.8" font-size="12" text-anchor="middle" fill="#000" font-weight="bold" >24</text>
<text x="365.4" y="221.8" font-size="14" text-anchor="middle" fill="#000" font-weight="bold" >U T</text>
<text x="365.4" y="420.3" font-size="14" text-anchor="middle" fill="#000" font-weight="bold" >U T</text>
<text x="11.6" y="70" font-size="22.8" text-anchor="start" fill="#000" font-weight="bold" textLength="29.6" lengthAdjust="spacingAndGlyphs">AU</text>
<text x="11.6" y="121" font-size="22.8" text-anchor="start" fill="#000" font-weight="bold" textLength="27.6" lengthAdjust="spacingAndGlyphs">AL</text>
<text x="11.6" y="346" font-size="22.8" text-anchor="start" fill="#000" font-weight="bold" textLength="28.6" lengthAdjust="spacingAndGlyphs">AE</text>
<text x="11.6" y="389" font-size="22.8" text-anchor="start" fill="#000" font-weight="bold" textLength="30.6" lengthAdjust="spacingAndGlyphs">AO</text>
<text x="669.4" y="64.9" font-size="11.8" text-anchor="end" fill="#ff1493" font-weight="bold" >12</text>
<text x="669.4" y="262.8" font-size="11.8" text-anchor="end" fill="#ff1493" font-weight="bold" >12</text>
<text x="669.4" y="76.98" font-size="11.8" text-anchor="end" fill="#ff2a1a" font-weight="bold" >11</text>
<text x="669.4" y="274.88" font-size="11.8" text-anchor="end" fill="#ff2a1a" font-weight="bold" >11</text>
<text x="669.4" y="89.06" font-size="11.8" text-anchor="end" fill="#ff9a1e" font-weight="bold" >10</text>
<text x="669.4" y="286.96000000000004" font-size="11.8" text-anchor="end" fill="#ff9a1e" font-weight="bold" >10</text>
<text x="669.4" y="101.14000000000001" font-size="11.8" text-anchor="end" fill="#ffff00" font-weight="bold" >9</text>
<text x="669.4" y="299.04" font-size="11.8" text-anchor="end" fill="#ffff00" font-weight="bold" >9</text>
<text x="669.4" y="113.22" font-size="11.8" text-anchor="end" fill="#a4ff1e" font-weight="bold" >8</text>
<text x="669.4" y="311.12" font-size="11.8" text-anchor="end" fill="#a4ff1e" font-weight="bold" >8</text>
<text x="669.4" y="125.30000000000001" font-size="11.8" text-anchor="end" fill="#14ecd6" font-weight="bold" >7</text>
<text x="669.4" y="323.2" font-size="11.8" text-anchor="end" fill="#14ecd6" font-weight="bold" >7</text>
<text x="669.4" y="137.38" font-size="11.8" text-anchor="end" fill="#1e82ff" font-weight="bold" >6</text>
<text x="669.4" y="335.28000000000003" font-size="11.8" text-anchor="end" fill="#1e82ff" font-weight="bold" >6</text>
<text x="669.4" y="149.46" font-size="11.8" text-anchor="end" fill="#3c14dc" font-weight="bold" >5</text>
<text x="669.4" y="347.36" font-size="11.8" text-anchor="end" fill="#3c14dc" font-weight="bold" >5</text>
<text x="669.4" y="161.54000000000002" font-size="11.8" text-anchor="end" fill="#ff14ff" font-weight="bold" >4</text>
<text x="669.4" y="359.44" font-size="11.8" text-anchor="end" fill="#ff14ff" font-weight="bold" >4</text>
<text x="669.4" y="173.62" font-size="11.8" text-anchor="end" fill="#000000" font-weight="bold" >3</text>
<text x="669.4" y="371.52" font-size="11.8" text-anchor="end" fill="#000000" font-weight="bold" >3</text>
<text x="669.4" y="185.7" font-size="11.8" text-anchor="end" fill="#5a5a5a" font-weight="bold" >2</text>
<text x="669.4" y="383.6" font-size="11.8" text-anchor="end" fill="#5a5a5a" font-weight="bold" >2</text>
<text x="669.4" y="197.78" font-size="11.8" text-anchor="end" fill="#d2d2d2" font-weight="bold" >1</text>
<text x="669.4" y="395.68" font-size="11.8" text-anchor="end" fill="#d2d2d2" font-weight="bold" >1</text>
<text x="479.6" y="443.6" font-size="11.2" text-anchor="start" fill="#000" font-weight="bold" textLength="169.3" lengthAdjust="spacingAndGlyphs">[Created at 2025-07-13 01:00UT]</text>
</svg>
</body></html>
